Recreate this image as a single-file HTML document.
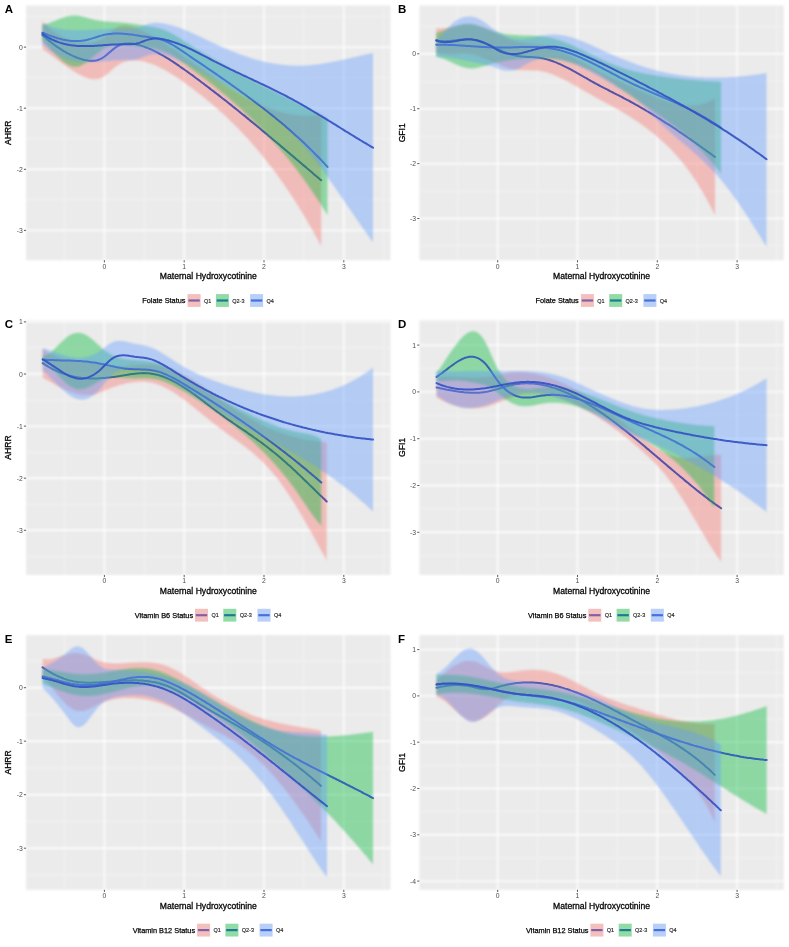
<!DOCTYPE html><html><head><meta charset="utf-8"><style>html,body{margin:0;padding:0;background:#fff;}svg{display:block;}text{font-family:"Liberation Sans",sans-serif;}</style></head><body>
<svg width="789" height="947" viewBox="0 0 789 947">
<defs><filter id="fb" filterUnits="userSpaceOnUse" x="0" y="0" width="789" height="947"><feGaussianBlur stdDeviation="0.85"/></filter><filter id="fl" filterUnits="userSpaceOnUse" x="0" y="0" width="789" height="947"><feGaussianBlur stdDeviation="0.45"/></filter><filter id="ft" filterUnits="userSpaceOnUse" x="0" y="0" width="789" height="947"><feGaussianBlur stdDeviation="0.6"/></filter></defs>
<rect width="789" height="947" fill="#fff"/>
<clipPath id="clipA"><rect x="26.1" y="5.5" width="364.4" height="254.7"/></clipPath>
<g><g filter="url(#fb)"><rect x="26.1" y="5.5" width="364.4" height="254.7" fill="#EBEBEB"/><line x1="64.5" y1="5.5" x2="64.5" y2="260.2" stroke="#F3F3F3" stroke-width="1.0"/><line x1="144.3" y1="5.5" x2="144.3" y2="260.2" stroke="#F3F3F3" stroke-width="1.0"/><line x1="224.1" y1="5.5" x2="224.1" y2="260.2" stroke="#F3F3F3" stroke-width="1.0"/><line x1="303.9" y1="5.5" x2="303.9" y2="260.2" stroke="#F3F3F3" stroke-width="1.0"/><line x1="383.7" y1="5.5" x2="383.7" y2="260.2" stroke="#F3F3F3" stroke-width="1.0"/><line x1="26.1" y1="199.8" x2="390.5" y2="199.8" stroke="#F3F3F3" stroke-width="1.0"/><line x1="26.1" y1="138.8" x2="390.5" y2="138.8" stroke="#F3F3F3" stroke-width="1.0"/><line x1="26.1" y1="77.7" x2="390.5" y2="77.7" stroke="#F3F3F3" stroke-width="1.0"/><line x1="26.1" y1="16.6" x2="390.5" y2="16.6" stroke="#F3F3F3" stroke-width="1.0"/><line x1="104.4" y1="5.5" x2="104.4" y2="260.2" stroke="#FFFFFF" stroke-width="1.4"/><line x1="184.2" y1="5.5" x2="184.2" y2="260.2" stroke="#FFFFFF" stroke-width="1.4"/><line x1="264" y1="5.5" x2="264" y2="260.2" stroke="#FFFFFF" stroke-width="1.4"/><line x1="343.8" y1="5.5" x2="343.8" y2="260.2" stroke="#FFFFFF" stroke-width="1.4"/><line x1="26.1" y1="230.4" x2="390.5" y2="230.4" stroke="#FFFFFF" stroke-width="1.4"/><line x1="26.1" y1="169.3" x2="390.5" y2="169.3" stroke="#FFFFFF" stroke-width="1.4"/><line x1="26.1" y1="108.2" x2="390.5" y2="108.2" stroke="#FFFFFF" stroke-width="1.4"/><line x1="26.1" y1="47.1" x2="390.5" y2="47.1" stroke="#FFFFFF" stroke-width="1.4"/></g><g clip-path="url(#clipA)"><path d="M42.5,21.3 L44.0,22.9 L45.5,24.5 L47.0,26.0 L48.6,27.4 L50.1,28.7 L51.6,30.0 L53.1,31.2 L54.6,32.3 L56.1,33.4 L57.6,34.4 L59.2,35.3 L60.7,36.2 L62.2,37.0 L63.7,37.7 L65.2,38.4 L66.7,39.0 L68.2,39.6 L69.8,40.2 L71.3,40.6 L72.8,41.1 L74.3,41.4 L75.8,41.8 L77.3,42.1 L78.9,42.3 L80.4,42.5 L81.9,42.7 L83.4,42.8 L84.9,42.9 L86.4,42.9 L87.9,42.9 L89.5,42.8 L91.0,42.7 L92.5,42.4 L94.0,42.1 L95.5,41.7 L97.0,41.2 L98.5,40.6 L100.1,39.8 L101.6,39.0 L103.1,38.0 L104.6,36.9 L106.1,35.7 L107.6,34.4 L109.1,33.1 L110.7,31.8 L112.2,30.6 L113.7,29.4 L115.2,28.4 L116.7,27.5 L118.2,26.8 L119.7,26.3 L121.3,25.9 L122.8,25.7 L124.3,25.6 L125.8,25.6 L127.3,25.7 L128.8,25.9 L130.4,26.3 L131.9,26.6 L133.4,27.1 L134.9,27.6 L136.4,28.2 L137.9,28.8 L139.4,29.5 L141.0,30.2 L142.5,30.8 L144.0,31.6 L145.5,32.3 L147.0,33.1 L148.5,33.8 L150.0,34.6 L151.6,35.4 L153.1,36.3 L154.6,37.1 L156.1,38.0 L157.6,38.9 L159.1,39.8 L160.6,40.7 L162.2,41.6 L163.7,42.6 L165.2,43.5 L166.7,44.5 L168.2,45.5 L169.7,46.4 L171.2,47.5 L172.8,48.5 L174.3,49.5 L175.8,50.5 L177.3,51.6 L178.8,52.6 L180.3,53.7 L181.8,54.7 L183.4,55.8 L184.9,56.9 L186.4,58.0 L187.9,59.1 L189.4,60.1 L190.9,61.2 L192.5,62.3 L194.0,63.4 L195.5,64.5 L197.0,65.6 L198.5,66.6 L200.0,67.7 L201.5,68.8 L203.1,69.8 L204.6,70.9 L206.1,72.0 L207.6,73.0 L209.1,74.1 L210.6,75.1 L212.1,76.2 L213.7,77.2 L215.2,78.2 L216.7,79.3 L218.2,80.3 L219.7,81.3 L221.2,82.3 L222.7,83.3 L224.3,84.3 L225.8,85.3 L227.3,86.2 L228.8,87.2 L230.3,88.1 L231.8,89.1 L233.3,90.0 L234.9,90.9 L236.4,91.8 L237.9,92.7 L239.4,93.6 L240.9,94.5 L242.4,95.4 L244.0,96.2 L245.5,97.1 L247.0,97.9 L248.5,98.7 L250.0,99.5 L251.5,100.3 L253.0,101.0 L254.6,101.8 L256.1,102.5 L257.6,103.2 L259.1,103.9 L260.6,104.6 L262.1,105.3 L263.6,106.0 L265.2,106.6 L266.7,107.2 L268.2,107.8 L269.7,108.4 L271.2,108.9 L272.7,109.5 L274.2,110.0 L275.8,110.5 L277.3,111.0 L278.8,111.4 L280.3,111.9 L281.8,112.3 L283.3,112.7 L284.8,113.1 L286.4,113.4 L287.9,113.7 L289.4,114.1 L290.9,114.3 L292.4,114.6 L293.9,114.8 L295.5,115.0 L297.0,115.2 L298.5,115.4 L300.0,115.5 L301.5,115.6 L303.0,115.7 L304.5,115.7 L306.1,115.8 L307.6,115.8 L309.1,115.7 L310.6,115.7 L312.1,115.6 L313.6,115.5 L315.1,115.3 L316.7,115.1 L318.2,114.9 L319.7,114.7 L321.2,114.4 L321.2,246.3 L319.7,243.4 L318.2,240.6 L316.7,237.8 L315.1,235.0 L313.6,232.3 L312.1,229.6 L310.6,226.9 L309.1,224.3 L307.6,221.7 L306.1,219.1 L304.5,216.6 L303.0,214.0 L301.5,211.5 L300.0,209.0 L298.5,206.6 L297.0,204.2 L295.5,201.8 L293.9,199.4 L292.4,197.1 L290.9,194.8 L289.4,192.5 L287.9,190.2 L286.4,188.0 L284.8,185.8 L283.3,183.6 L281.8,181.4 L280.3,179.3 L278.8,177.2 L277.3,175.1 L275.8,173.0 L274.2,171.0 L272.7,168.9 L271.2,166.9 L269.7,165.0 L268.2,163.0 L266.7,161.1 L265.2,159.2 L263.6,157.3 L262.1,155.4 L260.6,153.6 L259.1,151.7 L257.6,149.9 L256.1,148.2 L254.6,146.4 L253.0,144.7 L251.5,142.9 L250.0,141.2 L248.5,139.5 L247.0,137.9 L245.5,136.2 L244.0,134.6 L242.4,133.0 L240.9,131.4 L239.4,129.8 L237.9,128.3 L236.4,126.7 L234.9,125.2 L233.3,123.7 L231.8,122.2 L230.3,120.7 L228.8,119.3 L227.3,117.8 L225.8,116.4 L224.3,115.0 L222.7,113.6 L221.2,112.2 L219.7,110.9 L218.2,109.5 L216.7,108.2 L215.2,106.9 L213.7,105.6 L212.1,104.3 L210.6,103.0 L209.1,101.7 L207.6,100.5 L206.1,99.2 L204.6,98.0 L203.1,96.8 L201.5,95.6 L200.0,94.4 L198.5,93.2 L197.0,92.0 L195.5,90.9 L194.0,89.7 L192.5,88.6 L190.9,87.4 L189.4,86.3 L187.9,85.2 L186.4,84.1 L184.9,83.0 L183.4,81.9 L181.8,80.9 L180.3,79.8 L178.8,78.8 L177.3,77.8 L175.8,76.8 L174.3,75.8 L172.8,74.8 L171.2,73.9 L169.7,72.9 L168.2,72.0 L166.7,71.1 L165.2,70.3 L163.7,69.5 L162.2,68.7 L160.6,67.9 L159.1,67.1 L157.6,66.4 L156.1,65.8 L154.6,65.1 L153.1,64.5 L151.6,63.9 L150.0,63.4 L148.5,62.9 L147.0,62.4 L145.5,62.0 L144.0,61.7 L142.5,61.3 L141.0,61.1 L139.4,60.8 L137.9,60.6 L136.4,60.5 L134.9,60.4 L133.4,60.4 L131.9,60.5 L130.4,60.6 L128.8,60.8 L127.3,61.1 L125.8,61.5 L124.3,61.9 L122.8,62.5 L121.3,63.2 L119.7,63.9 L118.2,64.9 L116.7,65.9 L115.2,67.0 L113.7,68.3 L112.2,69.6 L110.7,71.0 L109.1,72.4 L107.6,73.7 L106.1,75.0 L104.6,76.1 L103.1,77.1 L101.6,77.8 L100.1,78.4 L98.5,78.9 L97.0,79.2 L95.5,79.3 L94.0,79.3 L92.5,79.2 L91.0,79.0 L89.5,78.7 L87.9,78.3 L86.4,77.7 L84.9,77.2 L83.4,76.5 L81.9,75.8 L80.4,75.0 L78.9,74.3 L77.3,73.4 L75.8,72.5 L74.3,71.6 L72.8,70.7 L71.3,69.7 L69.8,68.7 L68.2,67.7 L66.7,66.6 L65.2,65.5 L63.7,64.5 L62.2,63.4 L60.7,62.2 L59.2,61.1 L57.6,60.0 L56.1,58.9 L54.6,57.8 L53.1,56.6 L51.6,55.5 L50.1,54.4 L48.6,53.3 L47.0,52.3 L45.5,51.2 L44.0,50.2 L42.5,49.2Z" fill="#F8766D" fill-opacity="0.4" filter="url(#fb)"/><path d="M42.5,35.2 L44.0,36.5 L45.5,37.8 L47.0,39.1 L48.6,40.4 L50.1,41.6 L51.6,42.8 L53.1,43.9 L54.6,45.0 L56.1,46.1 L57.6,47.2 L59.2,48.2 L60.7,49.2 L62.2,50.2 L63.7,51.1 L65.2,52.0 L66.7,52.8 L68.2,53.6 L69.8,54.4 L71.3,55.2 L72.8,55.9 L74.3,56.5 L75.8,57.2 L77.3,57.7 L78.9,58.3 L80.4,58.8 L81.9,59.2 L83.4,59.7 L84.9,60.0 L86.4,60.3 L87.9,60.6 L89.5,60.8 L91.0,60.8 L92.5,60.8 L94.0,60.7 L95.5,60.5 L97.0,60.2 L98.5,59.7 L100.1,59.1 L101.6,58.4 L103.1,57.5 L104.6,56.5 L106.1,55.3 L107.6,54.1 L109.1,52.7 L110.7,51.4 L112.2,50.1 L113.7,48.9 L115.2,47.7 L116.7,46.7 L118.2,45.8 L119.7,45.1 L121.3,44.5 L122.8,44.1 L124.3,43.8 L125.8,43.5 L127.3,43.4 L128.8,43.4 L130.4,43.4 L131.9,43.6 L133.4,43.8 L134.9,44.0 L136.4,44.4 L137.9,44.7 L139.4,45.1 L141.0,45.6 L142.5,46.1 L144.0,46.6 L145.5,47.2 L147.0,47.7 L148.5,48.4 L150.0,49.0 L151.6,49.7 L153.1,50.4 L154.6,51.1 L156.1,51.9 L157.6,52.7 L159.1,53.5 L160.6,54.3 L162.2,55.1 L163.7,56.0 L165.2,56.9 L166.7,57.8 L168.2,58.7 L169.7,59.7 L171.2,60.7 L172.8,61.6 L174.3,62.6 L175.8,63.6 L177.3,64.7 L178.8,65.7 L180.3,66.8 L181.8,67.8 L183.4,68.9 L184.9,70.0 L186.4,71.0 L187.9,72.1 L189.4,73.2 L190.9,74.3 L192.5,75.4 L194.0,76.5 L195.5,77.7 L197.0,78.8 L198.5,79.9 L200.0,81.0 L201.5,82.2 L203.1,83.3 L204.6,84.5 L206.1,85.6 L207.6,86.7 L209.1,87.9 L210.6,89.1 L212.1,90.2 L213.7,91.4 L215.2,92.6 L216.7,93.7 L218.2,94.9 L219.7,96.1 L221.2,97.3 L222.7,98.5 L224.3,99.6 L225.8,100.8 L227.3,102.0 L228.8,103.2 L230.3,104.4 L231.8,105.6 L233.3,106.9 L234.9,108.1 L236.4,109.3 L237.9,110.5 L239.4,111.7 L240.9,113.0 L242.4,114.2 L244.0,115.4 L245.5,116.6 L247.0,117.9 L248.5,119.1 L250.0,120.4 L251.5,121.6 L253.0,122.8 L254.6,124.1 L256.1,125.3 L257.6,126.6 L259.1,127.8 L260.6,129.1 L262.1,130.4 L263.6,131.6 L265.2,132.9 L266.7,134.1 L268.2,135.4 L269.7,136.7 L271.2,137.9 L272.7,139.2 L274.2,140.5 L275.8,141.8 L277.3,143.0 L278.8,144.3 L280.3,145.6 L281.8,146.9 L283.3,148.1 L284.8,149.4 L286.4,150.7 L287.9,152.0 L289.4,153.3 L290.9,154.6 L292.4,155.8 L293.9,157.1 L295.5,158.4 L297.0,159.7 L298.5,161.0 L300.0,162.3 L301.5,163.6 L303.0,164.9 L304.5,166.1 L306.1,167.4 L307.6,168.7 L309.1,170.0 L310.6,171.3 L312.1,172.6 L313.6,173.9 L315.1,175.2 L316.7,176.5 L318.2,177.8 L319.7,179.1 L321.2,180.3" fill="none" stroke="#4749A8" stroke-width="2.0" stroke-opacity="0.92" stroke-linejoin="round" stroke-linecap="round" filter="url(#fl)"/><path d="M42.5,24.7 L44.0,24.4 L45.5,24.1 L47.0,23.7 L48.5,23.2 L50.0,22.7 L51.5,22.1 L53.1,21.5 L54.6,21.0 L56.1,20.3 L57.6,19.7 L59.1,19.1 L60.6,18.6 L62.1,18.0 L63.6,17.5 L65.1,17.0 L66.6,16.6 L68.1,16.2 L69.6,15.9 L71.2,15.6 L72.7,15.5 L74.2,15.4 L75.7,15.4 L77.2,15.6 L78.7,15.8 L80.2,16.1 L81.7,16.4 L83.2,16.8 L84.7,17.2 L86.2,17.6 L87.7,18.0 L89.2,18.4 L90.8,18.8 L92.3,19.2 L93.8,19.6 L95.3,19.9 L96.8,20.2 L98.3,20.5 L99.8,20.8 L101.3,21.0 L102.8,21.1 L104.3,21.3 L105.8,21.4 L107.3,21.5 L108.8,21.7 L110.4,21.8 L111.9,21.9 L113.4,22.0 L114.9,22.1 L116.4,22.2 L117.9,22.3 L119.4,22.4 L120.9,22.6 L122.4,22.7 L123.9,22.8 L125.4,23.0 L126.9,23.1 L128.5,23.3 L130.0,23.4 L131.5,23.6 L133.0,23.8 L134.5,24.1 L136.0,24.3 L137.5,24.5 L139.0,24.8 L140.5,25.0 L142.0,25.2 L143.5,25.5 L145.0,25.7 L146.5,25.9 L148.1,26.2 L149.6,26.4 L151.1,26.7 L152.6,26.9 L154.1,27.2 L155.6,27.5 L157.1,27.9 L158.6,28.3 L160.1,28.7 L161.6,29.1 L163.1,29.6 L164.6,30.2 L166.2,30.8 L167.7,31.5 L169.2,32.2 L170.7,33.0 L172.2,33.8 L173.7,34.6 L175.2,35.5 L176.7,36.4 L178.2,37.3 L179.7,38.3 L181.2,39.2 L182.7,40.2 L184.2,41.2 L185.8,42.2 L187.3,43.2 L188.8,44.1 L190.3,45.1 L191.8,46.1 L193.3,47.0 L194.8,48.0 L196.3,48.9 L197.8,49.8 L199.3,50.7 L200.8,51.6 L202.3,52.5 L203.8,53.4 L205.4,54.3 L206.9,55.1 L208.4,56.0 L209.9,56.9 L211.4,57.8 L212.9,58.6 L214.4,59.5 L215.9,60.3 L217.4,61.2 L218.9,62.1 L220.4,62.9 L221.9,63.8 L223.5,64.6 L225.0,65.5 L226.5,66.3 L228.0,67.2 L229.5,68.0 L231.0,68.8 L232.5,69.7 L234.0,70.5 L235.5,71.3 L237.0,72.1 L238.5,72.9 L240.0,73.8 L241.5,74.6 L243.1,75.4 L244.6,76.2 L246.1,77.0 L247.6,77.8 L249.1,78.5 L250.6,79.3 L252.1,80.1 L253.6,80.9 L255.1,81.7 L256.6,82.4 L258.1,83.2 L259.6,84.0 L261.2,84.7 L262.7,85.5 L264.2,86.3 L265.7,87.0 L267.2,87.8 L268.7,88.5 L270.2,89.3 L271.7,90.0 L273.2,90.8 L274.7,91.5 L276.2,92.3 L277.7,93.0 L279.2,93.8 L280.8,94.5 L282.3,95.3 L283.8,96.0 L285.3,96.8 L286.8,97.5 L288.3,98.3 L289.8,99.0 L291.3,99.8 L292.8,100.5 L294.3,101.3 L295.8,102.0 L297.3,102.8 L298.8,103.6 L300.4,104.3 L301.9,105.1 L303.4,105.9 L304.9,106.6 L306.4,107.4 L307.9,108.2 L309.4,108.9 L310.9,109.7 L312.4,110.5 L313.9,111.3 L315.4,112.1 L316.9,112.9 L318.5,113.7 L320.0,114.5 L321.5,115.3 L323.0,116.1 L324.5,116.9 L326.0,117.8 L327.5,118.6 L327.5,215.3 L326.0,212.8 L324.5,210.3 L323.0,207.9 L321.5,205.5 L320.0,203.2 L318.5,200.8 L316.9,198.5 L315.4,196.2 L313.9,194.0 L312.4,191.7 L310.9,189.5 L309.4,187.3 L307.9,185.2 L306.4,183.0 L304.9,180.9 L303.4,178.8 L301.9,176.7 L300.4,174.7 L298.8,172.7 L297.3,170.7 L295.8,168.7 L294.3,166.8 L292.8,164.8 L291.3,162.9 L289.8,161.0 L288.3,159.1 L286.8,157.3 L285.3,155.5 L283.8,153.6 L282.3,151.9 L280.8,150.1 L279.2,148.3 L277.7,146.6 L276.2,144.9 L274.7,143.2 L273.2,141.5 L271.7,139.8 L270.2,138.2 L268.7,136.5 L267.2,134.9 L265.7,133.3 L264.2,131.7 L262.7,130.2 L261.2,128.6 L259.6,127.1 L258.1,125.5 L256.6,124.0 L255.1,122.5 L253.6,121.0 L252.1,119.6 L250.6,118.1 L249.1,116.6 L247.6,115.2 L246.1,113.8 L244.6,112.4 L243.1,111.0 L241.5,109.6 L240.0,108.2 L238.5,106.8 L237.0,105.5 L235.5,104.1 L234.0,102.8 L232.5,101.4 L231.0,100.1 L229.5,98.8 L228.0,97.5 L226.5,96.2 L225.0,95.0 L223.5,93.7 L221.9,92.4 L220.4,91.2 L218.9,89.9 L217.4,88.7 L215.9,87.5 L214.4,86.3 L212.9,85.1 L211.4,83.9 L209.9,82.7 L208.4,81.6 L206.9,80.4 L205.4,79.3 L203.8,78.1 L202.3,77.0 L200.8,75.9 L199.3,74.7 L197.8,73.6 L196.3,72.5 L194.8,71.4 L193.3,70.2 L191.8,69.1 L190.3,68.0 L188.8,66.9 L187.3,65.7 L185.8,64.6 L184.2,63.5 L182.7,62.4 L181.2,61.3 L179.7,60.3 L178.2,59.2 L176.7,58.2 L175.2,57.2 L173.7,56.3 L172.2,55.4 L170.7,54.6 L169.2,53.8 L167.7,53.0 L166.2,52.3 L164.6,51.7 L163.1,51.1 L161.6,50.6 L160.1,50.2 L158.6,49.8 L157.1,49.4 L155.6,49.1 L154.1,48.8 L152.6,48.5 L151.1,48.3 L149.6,48.1 L148.1,47.9 L146.5,47.7 L145.0,47.5 L143.5,47.3 L142.0,47.1 L140.5,46.9 L139.0,46.7 L137.5,46.5 L136.0,46.3 L134.5,46.0 L133.0,45.8 L131.5,45.6 L130.0,45.5 L128.5,45.3 L126.9,45.1 L125.4,45.0 L123.9,44.9 L122.4,44.8 L120.9,44.7 L119.4,44.7 L117.9,44.8 L116.4,44.9 L114.9,45.1 L113.4,45.3 L111.9,45.6 L110.4,46.0 L108.8,46.4 L107.3,47.0 L105.8,47.7 L104.3,48.4 L102.8,49.3 L101.3,50.2 L99.8,51.3 L98.3,52.5 L96.8,53.7 L95.3,55.0 L93.8,56.3 L92.3,57.6 L90.8,58.9 L89.2,60.2 L87.7,61.4 L86.2,62.5 L84.7,63.6 L83.2,64.5 L81.7,65.3 L80.2,65.9 L78.7,66.4 L77.2,66.7 L75.7,66.8 L74.2,66.8 L72.7,66.6 L71.2,66.2 L69.6,65.6 L68.1,64.9 L66.6,64.0 L65.1,63.0 L63.6,61.9 L62.1,60.7 L60.6,59.4 L59.1,58.0 L57.6,56.6 L56.1,55.1 L54.6,53.5 L53.1,51.9 L51.5,50.3 L50.0,48.6 L48.5,47.0 L47.0,45.3 L45.5,43.7 L44.0,42.1 L42.5,40.6Z" fill="#00BA38" fill-opacity="0.4" filter="url(#fb)"/><path d="M42.5,32.7 L44.0,33.3 L45.5,33.9 L47.0,34.5 L48.5,35.1 L50.0,35.6 L51.5,36.2 L53.1,36.7 L54.6,37.2 L56.1,37.7 L57.6,38.2 L59.1,38.6 L60.6,39.0 L62.1,39.4 L63.6,39.7 L65.1,40.0 L66.6,40.3 L68.1,40.5 L69.6,40.7 L71.2,40.9 L72.7,41.0 L74.2,41.1 L75.7,41.1 L77.2,41.1 L78.7,41.1 L80.2,41.0 L81.7,40.8 L83.2,40.6 L84.7,40.4 L86.2,40.1 L87.7,39.7 L89.2,39.3 L90.8,38.9 L92.3,38.4 L93.8,37.9 L95.3,37.5 L96.8,37.0 L98.3,36.5 L99.8,36.0 L101.3,35.6 L102.8,35.2 L104.3,34.8 L105.8,34.5 L107.3,34.3 L108.8,34.1 L110.4,33.9 L111.9,33.7 L113.4,33.6 L114.9,33.6 L116.4,33.6 L117.9,33.6 L119.4,33.6 L120.9,33.6 L122.4,33.7 L123.9,33.8 L125.4,34.0 L126.9,34.1 L128.5,34.3 L130.0,34.5 L131.5,34.6 L133.0,34.8 L134.5,35.1 L136.0,35.3 L137.5,35.5 L139.0,35.7 L140.5,35.9 L142.0,36.2 L143.5,36.4 L145.0,36.6 L146.5,36.8 L148.1,37.0 L149.6,37.3 L151.1,37.5 L152.6,37.7 L154.1,38.0 L155.6,38.3 L157.1,38.6 L158.6,39.0 L160.1,39.4 L161.6,39.9 L163.1,40.4 L164.6,40.9 L166.2,41.6 L167.7,42.2 L169.2,43.0 L170.7,43.8 L172.2,44.6 L173.7,45.5 L175.2,46.4 L176.7,47.3 L178.2,48.3 L179.7,49.3 L181.2,50.3 L182.7,51.3 L184.2,52.4 L185.8,53.4 L187.3,54.5 L188.8,55.5 L190.3,56.6 L191.8,57.6 L193.3,58.6 L194.8,59.7 L196.3,60.7 L197.8,61.7 L199.3,62.7 L200.8,63.7 L202.3,64.7 L203.8,65.7 L205.4,66.8 L206.9,67.8 L208.4,68.8 L209.9,69.8 L211.4,70.8 L212.9,71.9 L214.4,72.9 L215.9,73.9 L217.4,75.0 L218.9,76.0 L220.4,77.1 L221.9,78.1 L223.5,79.2 L225.0,80.2 L226.5,81.3 L228.0,82.3 L229.5,83.4 L231.0,84.5 L232.5,85.6 L234.0,86.6 L235.5,87.7 L237.0,88.8 L238.5,89.9 L240.0,91.0 L241.5,92.1 L243.1,93.2 L244.6,94.3 L246.1,95.4 L247.6,96.5 L249.1,97.6 L250.6,98.7 L252.1,99.8 L253.6,101.0 L255.1,102.1 L256.6,103.2 L258.1,104.4 L259.6,105.5 L261.2,106.7 L262.7,107.8 L264.2,109.0 L265.7,110.2 L267.2,111.3 L268.7,112.5 L270.2,113.7 L271.7,114.9 L273.2,116.1 L274.7,117.3 L276.2,118.6 L277.7,119.8 L279.2,121.1 L280.8,122.3 L282.3,123.6 L283.8,124.8 L285.3,126.1 L286.8,127.4 L288.3,128.7 L289.8,130.0 L291.3,131.3 L292.8,132.7 L294.3,134.0 L295.8,135.4 L297.3,136.7 L298.8,138.1 L300.4,139.5 L301.9,140.9 L303.4,142.3 L304.9,143.8 L306.4,145.2 L307.9,146.7 L309.4,148.1 L310.9,149.6 L312.4,151.1 L313.9,152.6 L315.4,154.2 L316.9,155.7 L318.5,157.3 L320.0,158.8 L321.5,160.4 L323.0,162.0 L324.5,163.6 L326.0,165.3 L327.5,166.9" fill="none" stroke="#2F5AB5" stroke-width="2.0" stroke-opacity="0.92" stroke-linejoin="round" stroke-linecap="round" filter="url(#fl)"/><path d="M42.5,23.8 L44.0,24.4 L45.5,25.0 L47.0,25.5 L48.5,26.0 L50.0,26.5 L51.6,27.0 L53.1,27.4 L54.6,27.7 L56.1,28.1 L57.6,28.4 L59.1,28.7 L60.6,28.9 L62.1,29.2 L63.6,29.4 L65.1,29.6 L66.6,29.7 L68.2,29.8 L69.7,30.0 L71.2,30.0 L72.7,30.1 L74.2,30.2 L75.7,30.2 L77.2,30.2 L78.7,30.2 L80.2,30.2 L81.7,30.2 L83.2,30.2 L84.8,30.1 L86.3,30.1 L87.8,30.0 L89.3,29.9 L90.8,29.8 L92.3,29.8 L93.8,29.7 L95.3,29.6 L96.8,29.5 L98.3,29.4 L99.8,29.3 L101.4,29.2 L102.9,29.1 L104.4,29.0 L105.9,28.9 L107.4,28.8 L108.9,28.8 L110.4,28.7 L111.9,28.6 L113.4,28.6 L114.9,28.5 L116.4,28.5 L118.0,28.5 L119.5,28.5 L121.0,28.5 L122.5,28.5 L124.0,28.6 L125.5,28.6 L127.0,28.6 L128.5,28.7 L130.0,28.6 L131.5,28.6 L133.0,28.5 L134.6,28.3 L136.1,28.0 L137.6,27.7 L139.1,27.3 L140.6,26.8 L142.1,26.2 L143.6,25.6 L145.1,25.0 L146.6,24.4 L148.1,23.9 L149.6,23.5 L151.2,23.2 L152.7,23.0 L154.2,22.8 L155.7,22.8 L157.2,22.8 L158.7,22.9 L160.2,23.0 L161.7,23.2 L163.2,23.4 L164.7,23.7 L166.2,24.0 L167.8,24.4 L169.3,24.7 L170.8,25.1 L172.3,25.5 L173.8,26.0 L175.3,26.5 L176.8,27.0 L178.3,27.5 L179.8,28.0 L181.3,28.6 L182.8,29.1 L184.4,29.7 L185.9,30.3 L187.4,31.0 L188.9,31.6 L190.4,32.3 L191.9,32.9 L193.4,33.6 L194.9,34.3 L196.4,35.0 L197.9,35.7 L199.4,36.4 L201.0,37.1 L202.5,37.8 L204.0,38.5 L205.5,39.3 L207.0,40.0 L208.5,40.7 L210.0,41.4 L211.5,42.1 L213.0,42.9 L214.5,43.6 L216.1,44.3 L217.6,45.0 L219.1,45.7 L220.6,46.3 L222.1,47.0 L223.6,47.7 L225.1,48.3 L226.6,49.0 L228.1,49.6 L229.6,50.3 L231.1,50.9 L232.7,51.5 L234.2,52.1 L235.7,52.7 L237.2,53.3 L238.7,53.9 L240.2,54.4 L241.7,55.0 L243.2,55.5 L244.7,56.0 L246.2,56.6 L247.7,57.1 L249.3,57.6 L250.8,58.0 L252.3,58.5 L253.8,59.0 L255.3,59.4 L256.8,59.8 L258.3,60.2 L259.8,60.6 L261.3,61.0 L262.8,61.4 L264.3,61.7 L265.9,62.1 L267.4,62.4 L268.9,62.7 L270.4,63.0 L271.9,63.3 L273.4,63.5 L274.9,63.8 L276.4,64.0 L277.9,64.2 L279.4,64.4 L280.9,64.6 L282.5,64.8 L284.0,64.9 L285.5,65.1 L287.0,65.2 L288.5,65.3 L290.0,65.4 L291.5,65.5 L293.0,65.6 L294.5,65.6 L296.0,65.7 L297.5,65.7 L299.1,65.7 L300.6,65.7 L302.1,65.6 L303.6,65.6 L305.1,65.5 L306.6,65.4 L308.1,65.3 L309.6,65.2 L311.1,65.1 L312.6,65.0 L314.1,64.8 L315.7,64.6 L317.2,64.4 L318.7,64.2 L320.2,64.0 L321.7,63.8 L323.2,63.6 L324.7,63.3 L326.2,63.1 L327.7,62.8 L329.2,62.5 L330.7,62.2 L332.3,61.9 L333.8,61.6 L335.3,61.3 L336.8,61.0 L338.3,60.7 L339.8,60.4 L341.3,60.1 L342.8,59.7 L344.3,59.4 L345.8,59.1 L347.3,58.7 L348.9,58.4 L350.4,58.0 L351.9,57.7 L353.4,57.3 L354.9,57.0 L356.4,56.7 L357.9,56.3 L359.4,56.0 L360.9,55.6 L362.4,55.3 L363.9,55.0 L365.5,54.6 L367.0,54.3 L368.5,54.0 L370.0,53.7 L371.5,53.4 L373.0,53.1 L373.0,242.3 L371.5,240.2 L370.0,238.2 L368.5,236.1 L367.0,233.9 L365.5,231.8 L363.9,229.7 L362.4,227.5 L360.9,225.4 L359.4,223.2 L357.9,221.0 L356.4,218.9 L354.9,216.7 L353.4,214.5 L351.9,212.3 L350.4,210.1 L348.9,207.9 L347.3,205.7 L345.8,203.5 L344.3,201.3 L342.8,199.1 L341.3,196.9 L339.8,194.7 L338.3,192.5 L336.8,190.3 L335.3,188.1 L333.8,185.9 L332.3,183.8 L330.7,181.6 L329.2,179.5 L327.7,177.4 L326.2,175.3 L324.7,173.2 L323.2,171.1 L321.7,169.0 L320.2,166.9 L318.7,164.9 L317.2,162.9 L315.7,160.9 L314.1,158.9 L312.6,157.0 L311.1,155.0 L309.6,153.1 L308.1,151.2 L306.6,149.4 L305.1,147.5 L303.6,145.7 L302.1,144.0 L300.6,142.2 L299.1,140.5 L297.5,138.8 L296.0,137.2 L294.5,135.5 L293.0,133.9 L291.5,132.4 L290.0,130.8 L288.5,129.3 L287.0,127.8 L285.5,126.4 L284.0,124.9 L282.5,123.5 L280.9,122.2 L279.4,120.8 L277.9,119.5 L276.4,118.2 L274.9,116.9 L273.4,115.7 L271.9,114.5 L270.4,113.3 L268.9,112.1 L267.4,111.0 L265.9,109.8 L264.3,108.7 L262.8,107.6 L261.3,106.6 L259.8,105.5 L258.3,104.5 L256.8,103.5 L255.3,102.5 L253.8,101.5 L252.3,100.6 L250.8,99.6 L249.3,98.7 L247.7,97.8 L246.2,96.9 L244.7,96.0 L243.2,95.1 L241.7,94.2 L240.2,93.4 L238.7,92.5 L237.2,91.6 L235.7,90.8 L234.2,90.0 L232.7,89.1 L231.1,88.3 L229.6,87.5 L228.1,86.6 L226.6,85.8 L225.1,85.0 L223.6,84.2 L222.1,83.3 L220.6,82.5 L219.1,81.7 L217.6,80.8 L216.1,80.0 L214.5,79.2 L213.0,78.3 L211.5,77.4 L210.0,76.6 L208.5,75.7 L207.0,74.9 L205.5,74.0 L204.0,73.2 L202.5,72.3 L201.0,71.4 L199.4,70.6 L197.9,69.8 L196.4,68.9 L194.9,68.1 L193.4,67.3 L191.9,66.5 L190.4,65.7 L188.9,65.0 L187.4,64.2 L185.9,63.5 L184.4,62.7 L182.8,62.0 L181.3,61.4 L179.8,60.7 L178.3,60.1 L176.8,59.4 L175.3,58.9 L173.8,58.3 L172.3,57.8 L170.8,57.2 L169.3,56.8 L167.8,56.3 L166.2,55.9 L164.7,55.5 L163.2,55.2 L161.7,54.9 L160.2,54.6 L158.7,54.4 L157.2,54.3 L155.7,54.2 L154.2,54.2 L152.7,54.3 L151.2,54.5 L149.6,54.8 L148.1,55.2 L146.6,55.7 L145.1,56.2 L143.6,56.8 L142.1,57.4 L140.6,58.0 L139.1,58.5 L137.6,58.9 L136.1,59.3 L134.6,59.5 L133.0,59.7 L131.5,59.8 L130.0,59.9 L128.5,60.0 L127.0,60.0 L125.5,60.1 L124.0,60.1 L122.5,60.1 L121.0,60.1 L119.5,60.2 L118.0,60.2 L116.4,60.3 L114.9,60.4 L113.4,60.5 L111.9,60.6 L110.4,60.8 L108.9,60.9 L107.4,61.0 L105.9,61.1 L104.4,61.3 L102.9,61.4 L101.4,61.5 L99.8,61.7 L98.3,61.8 L96.8,61.9 L95.3,62.0 L93.8,62.0 L92.3,62.1 L90.8,62.2 L89.3,62.2 L87.8,62.2 L86.3,62.2 L84.8,62.1 L83.2,62.1 L81.7,62.0 L80.2,61.9 L78.7,61.7 L77.2,61.5 L75.7,61.3 L74.2,61.1 L72.7,60.8 L71.2,60.5 L69.7,60.1 L68.2,59.7 L66.6,59.2 L65.1,58.7 L63.6,58.1 L62.1,57.5 L60.6,56.8 L59.1,56.1 L57.6,55.3 L56.1,54.5 L54.6,53.6 L53.1,52.6 L51.6,51.6 L50.0,50.5 L48.5,49.4 L47.0,48.1 L45.5,46.8 L44.0,45.5 L42.5,44.0Z" fill="#619CFF" fill-opacity="0.4" filter="url(#fb)"/><path d="M42.5,33.9 L44.0,34.9 L45.5,35.9 L47.0,36.8 L48.5,37.7 L50.0,38.5 L51.6,39.3 L53.1,40.0 L54.6,40.7 L56.1,41.3 L57.6,41.9 L59.1,42.4 L60.6,42.9 L62.1,43.3 L63.6,43.7 L65.1,44.1 L66.6,44.4 L68.2,44.7 L69.7,45.0 L71.2,45.2 L72.7,45.4 L74.2,45.6 L75.7,45.8 L77.2,45.9 L78.7,46.0 L80.2,46.0 L81.7,46.1 L83.2,46.1 L84.8,46.1 L86.3,46.1 L87.8,46.1 L89.3,46.1 L90.8,46.0 L92.3,45.9 L93.8,45.9 L95.3,45.8 L96.8,45.7 L98.3,45.6 L99.8,45.5 L101.4,45.4 L102.9,45.2 L104.4,45.1 L105.9,45.0 L107.4,44.9 L108.9,44.8 L110.4,44.7 L111.9,44.6 L113.4,44.5 L114.9,44.5 L116.4,44.4 L118.0,44.4 L119.5,44.3 L121.0,44.3 L122.5,44.3 L124.0,44.3 L125.5,44.3 L127.0,44.3 L128.5,44.3 L130.0,44.3 L131.5,44.2 L133.0,44.1 L134.6,43.9 L136.1,43.7 L137.6,43.3 L139.1,42.9 L140.6,42.4 L142.1,41.8 L143.6,41.2 L145.1,40.6 L146.6,40.1 L148.1,39.6 L149.6,39.2 L151.2,38.9 L152.7,38.7 L154.2,38.5 L155.7,38.5 L157.2,38.5 L158.7,38.6 L160.2,38.8 L161.7,39.0 L163.2,39.3 L164.7,39.6 L166.2,40.0 L167.8,40.3 L169.3,40.8 L170.8,41.2 L172.3,41.7 L173.8,42.1 L175.3,42.7 L176.8,43.2 L178.3,43.8 L179.8,44.4 L181.3,45.0 L182.8,45.6 L184.4,46.2 L185.9,46.9 L187.4,47.6 L188.9,48.3 L190.4,49.0 L191.9,49.7 L193.4,50.5 L194.9,51.2 L196.4,52.0 L197.9,52.7 L199.4,53.5 L201.0,54.3 L202.5,55.1 L204.0,55.8 L205.5,56.6 L207.0,57.4 L208.5,58.2 L210.0,59.0 L211.5,59.8 L213.0,60.6 L214.5,61.4 L216.1,62.1 L217.6,62.9 L219.1,63.7 L220.6,64.4 L222.1,65.2 L223.6,65.9 L225.1,66.7 L226.6,67.4 L228.1,68.1 L229.6,68.9 L231.1,69.6 L232.7,70.3 L234.2,71.0 L235.7,71.8 L237.2,72.5 L238.7,73.2 L240.2,73.9 L241.7,74.6 L243.2,75.3 L244.7,76.0 L246.2,76.7 L247.7,77.4 L249.3,78.1 L250.8,78.8 L252.3,79.5 L253.8,80.3 L255.3,81.0 L256.8,81.7 L258.3,82.4 L259.8,83.1 L261.3,83.8 L262.8,84.5 L264.3,85.2 L265.9,86.0 L267.4,86.7 L268.9,87.4 L270.4,88.1 L271.9,88.9 L273.4,89.6 L274.9,90.4 L276.4,91.1 L277.9,91.9 L279.4,92.6 L280.9,93.4 L282.5,94.2 L284.0,94.9 L285.5,95.7 L287.0,96.5 L288.5,97.3 L290.0,98.1 L291.5,98.9 L293.0,99.7 L294.5,100.6 L296.0,101.4 L297.5,102.2 L299.1,103.1 L300.6,103.9 L302.1,104.8 L303.6,105.7 L305.1,106.5 L306.6,107.4 L308.1,108.3 L309.6,109.2 L311.1,110.1 L312.6,111.0 L314.1,111.9 L315.7,112.8 L317.2,113.7 L318.7,114.6 L320.2,115.5 L321.7,116.4 L323.2,117.3 L324.7,118.2 L326.2,119.2 L327.7,120.1 L329.2,121.0 L330.7,121.9 L332.3,122.9 L333.8,123.8 L335.3,124.7 L336.8,125.7 L338.3,126.6 L339.8,127.5 L341.3,128.5 L342.8,129.4 L344.3,130.3 L345.8,131.3 L347.3,132.2 L348.9,133.1 L350.4,134.1 L351.9,135.0 L353.4,135.9 L354.9,136.8 L356.4,137.8 L357.9,138.7 L359.4,139.6 L360.9,140.5 L362.4,141.4 L363.9,142.3 L365.5,143.2 L367.0,144.1 L368.5,145.0 L370.0,145.9 L371.5,146.8 L373.0,147.7" fill="none" stroke="#3453C4" stroke-width="2.0" stroke-opacity="0.92" stroke-linejoin="round" stroke-linecap="round" filter="url(#fl)"/></g><g filter="url(#ft)"><line x1="104.4" y1="260.2" x2="104.4" y2="262.4" stroke="#333" stroke-width="0.8"/><text x="104.4" y="268.6" font-size="6.8" fill="#4D4D4D" text-anchor="middle">0</text><line x1="184.2" y1="260.2" x2="184.2" y2="262.4" stroke="#333" stroke-width="0.8"/><text x="184.2" y="268.6" font-size="6.8" fill="#4D4D4D" text-anchor="middle">1</text><line x1="264" y1="260.2" x2="264" y2="262.4" stroke="#333" stroke-width="0.8"/><text x="264" y="268.6" font-size="6.8" fill="#4D4D4D" text-anchor="middle">2</text><line x1="343.8" y1="260.2" x2="343.8" y2="262.4" stroke="#333" stroke-width="0.8"/><text x="343.8" y="268.6" font-size="6.8" fill="#4D4D4D" text-anchor="middle">3</text><line x1="23.9" y1="230.4" x2="26.1" y2="230.4" stroke="#333" stroke-width="0.8"/><text x="22.7" y="232.9" font-size="6.8" fill="#4D4D4D" text-anchor="end">-3</text><line x1="23.9" y1="169.3" x2="26.1" y2="169.3" stroke="#333" stroke-width="0.8"/><text x="22.7" y="171.8" font-size="6.8" fill="#4D4D4D" text-anchor="end">-2</text><line x1="23.9" y1="108.2" x2="26.1" y2="108.2" stroke="#333" stroke-width="0.8"/><text x="22.7" y="110.7" font-size="6.8" fill="#4D4D4D" text-anchor="end">-1</text><line x1="23.9" y1="47.1" x2="26.1" y2="47.1" stroke="#333" stroke-width="0.8"/><text x="22.7" y="49.6" font-size="6.8" fill="#4D4D4D" text-anchor="end">0</text><text x="208.3" y="279.3" font-size="9.1" textLength="97" lengthAdjust="spacingAndGlyphs" fill="#000" stroke="#000" stroke-width="0.3" text-anchor="middle">Maternal Hydroxycotinine</text><text transform="translate(11.3,132.8) rotate(-90)" font-size="8.6" fill="#000" stroke="#000" stroke-width="0.3" text-anchor="middle">AHRR</text><text x="4.8" y="13.3" font-size="11.5" font-weight="bold" fill="#000">A</text><text x="142.2" y="303.3" font-size="7.8" textLength="43.3" lengthAdjust="spacingAndGlyphs" fill="#000" stroke="#000" stroke-width="0.25">Folate Status</text><rect x="187.6" y="294.1" width="13" height="12.8" fill="#F2F2F2"/><line x1="188.4" y1="300.5" x2="199.8" y2="300.5" stroke="#3352CC" stroke-width="2.2"/><rect x="187.6" y="294.1" width="13" height="12.8" fill="#F8766D" fill-opacity="0.4"/><text x="204" y="302.6" font-size="5.8" textLength="7.3" lengthAdjust="spacingAndGlyphs" fill="#222" stroke="#222" stroke-width="0.15">Q1</text><rect x="215.9" y="294.1" width="13" height="12.8" fill="#F2F2F2"/><line x1="216.7" y1="300.5" x2="228.1" y2="300.5" stroke="#3352CC" stroke-width="2.2"/><rect x="215.9" y="294.1" width="13" height="12.8" fill="#00BA38" fill-opacity="0.4"/><text x="232.3" y="302.6" font-size="5.8" textLength="12.2" lengthAdjust="spacingAndGlyphs" fill="#222" stroke="#222" stroke-width="0.15">Q2-3</text><rect x="250.1" y="294.1" width="13" height="12.8" fill="#F2F2F2"/><line x1="250.9" y1="300.5" x2="262.3" y2="300.5" stroke="#3352CC" stroke-width="2.2"/><rect x="250.1" y="294.1" width="13" height="12.8" fill="#619CFF" fill-opacity="0.4"/><text x="266.5" y="302.6" font-size="5.8" textLength="7.3" lengthAdjust="spacingAndGlyphs" fill="#222" stroke="#222" stroke-width="0.15">Q4</text></g></g>
<clipPath id="clipB"><rect x="419.4" y="5.5" width="364.4" height="254.7"/></clipPath>
<g><g filter="url(#fb)"><rect x="419.4" y="5.5" width="364.4" height="254.7" fill="#EBEBEB"/><line x1="457.8" y1="5.5" x2="457.8" y2="260.2" stroke="#F3F3F3" stroke-width="1.0"/><line x1="537.6" y1="5.5" x2="537.6" y2="260.2" stroke="#F3F3F3" stroke-width="1.0"/><line x1="617.4" y1="5.5" x2="617.4" y2="260.2" stroke="#F3F3F3" stroke-width="1.0"/><line x1="697.2" y1="5.5" x2="697.2" y2="260.2" stroke="#F3F3F3" stroke-width="1.0"/><line x1="777" y1="5.5" x2="777" y2="260.2" stroke="#F3F3F3" stroke-width="1.0"/><line x1="419.4" y1="245.9" x2="783.8" y2="245.9" stroke="#F3F3F3" stroke-width="1.0"/><line x1="419.4" y1="191.1" x2="783.8" y2="191.1" stroke="#F3F3F3" stroke-width="1.0"/><line x1="419.4" y1="136.1" x2="783.8" y2="136.1" stroke="#F3F3F3" stroke-width="1.0"/><line x1="419.4" y1="81.2" x2="783.8" y2="81.2" stroke="#F3F3F3" stroke-width="1.0"/><line x1="419.4" y1="26.3" x2="783.8" y2="26.3" stroke="#F3F3F3" stroke-width="1.0"/><line x1="497.7" y1="5.5" x2="497.7" y2="260.2" stroke="#FFFFFF" stroke-width="1.4"/><line x1="577.5" y1="5.5" x2="577.5" y2="260.2" stroke="#FFFFFF" stroke-width="1.4"/><line x1="657.3" y1="5.5" x2="657.3" y2="260.2" stroke="#FFFFFF" stroke-width="1.4"/><line x1="737.1" y1="5.5" x2="737.1" y2="260.2" stroke="#FFFFFF" stroke-width="1.4"/><line x1="419.4" y1="218.5" x2="783.8" y2="218.5" stroke="#FFFFFF" stroke-width="1.4"/><line x1="419.4" y1="163.6" x2="783.8" y2="163.6" stroke="#FFFFFF" stroke-width="1.4"/><line x1="419.4" y1="108.7" x2="783.8" y2="108.7" stroke="#FFFFFF" stroke-width="1.4"/><line x1="419.4" y1="53.8" x2="783.8" y2="53.8" stroke="#FFFFFF" stroke-width="1.4"/></g><g clip-path="url(#clipB)"><path d="M436.3,28.2 L437.8,28.3 L439.3,28.3 L440.8,28.3 L442.4,28.2 L443.9,28.1 L445.4,27.9 L446.9,27.7 L448.4,27.5 L449.9,27.2 L451.4,26.9 L453.0,26.6 L454.5,26.3 L456.0,26.0 L457.5,25.7 L459.0,25.4 L460.5,25.2 L462.0,24.9 L463.6,24.8 L465.1,24.6 L466.6,24.5 L468.1,24.4 L469.6,24.5 L471.1,24.5 L472.7,24.7 L474.2,24.9 L475.7,25.2 L477.2,25.5 L478.7,25.9 L480.2,26.3 L481.7,26.8 L483.3,27.3 L484.8,27.9 L486.3,28.5 L487.8,29.1 L489.3,29.8 L490.8,30.5 L492.3,31.2 L493.9,31.9 L495.4,32.7 L496.9,33.4 L498.4,34.2 L499.9,35.0 L501.4,35.7 L502.9,36.5 L504.5,37.2 L506.0,37.9 L507.5,38.5 L509.0,39.2 L510.5,39.8 L512.0,40.3 L513.5,40.8 L515.1,41.2 L516.6,41.6 L518.1,42.0 L519.6,42.3 L521.1,42.6 L522.6,42.8 L524.2,43.1 L525.7,43.2 L527.2,43.4 L528.7,43.6 L530.2,43.7 L531.7,43.8 L533.2,44.0 L534.8,44.1 L536.3,44.3 L537.8,44.5 L539.3,44.7 L540.8,44.9 L542.3,45.2 L543.8,45.5 L545.4,45.8 L546.9,46.2 L548.4,46.6 L549.9,47.0 L551.4,47.5 L552.9,48.0 L554.4,48.5 L556.0,49.0 L557.5,49.6 L559.0,50.2 L560.5,50.9 L562.0,51.5 L563.5,52.2 L565.0,53.0 L566.6,53.7 L568.1,54.5 L569.6,55.2 L571.1,56.0 L572.6,56.8 L574.1,57.6 L575.6,58.5 L577.2,59.3 L578.7,60.2 L580.2,61.0 L581.7,61.9 L583.2,62.7 L584.7,63.6 L586.3,64.5 L587.8,65.3 L589.3,66.2 L590.8,67.0 L592.3,67.8 L593.8,68.7 L595.3,69.5 L596.9,70.3 L598.4,71.1 L599.9,71.8 L601.4,72.6 L602.9,73.4 L604.4,74.1 L605.9,74.9 L607.5,75.6 L609.0,76.3 L610.5,77.1 L612.0,77.8 L613.5,78.5 L615.0,79.2 L616.5,79.9 L618.1,80.6 L619.6,81.3 L621.1,82.0 L622.6,82.7 L624.1,83.4 L625.6,84.1 L627.1,84.8 L628.7,85.4 L630.2,86.1 L631.7,86.8 L633.2,87.5 L634.7,88.2 L636.2,88.9 L637.8,89.6 L639.3,90.2 L640.8,90.9 L642.3,91.6 L643.8,92.3 L645.3,92.9 L646.8,93.6 L648.4,94.2 L649.9,94.9 L651.4,95.6 L652.9,96.2 L654.4,96.8 L655.9,97.4 L657.4,98.1 L659.0,98.7 L660.5,99.2 L662.0,99.8 L663.5,100.4 L665.0,100.9 L666.5,101.4 L668.0,101.9 L669.6,102.4 L671.1,102.8 L672.6,103.2 L674.1,103.6 L675.6,104.0 L677.1,104.3 L678.6,104.6 L680.2,104.8 L681.7,105.1 L683.2,105.3 L684.7,105.4 L686.2,105.5 L687.7,105.6 L689.3,105.7 L690.8,105.6 L692.3,105.6 L693.8,105.5 L695.3,105.3 L696.8,105.2 L698.3,104.9 L699.9,104.6 L701.4,104.3 L702.9,103.9 L704.4,103.4 L705.9,102.9 L707.4,102.3 L708.9,101.7 L710.5,101.0 L712.0,100.2 L713.5,99.4 L715.0,98.5 L715.0,215.5 L713.5,212.3 L712.0,209.3 L710.5,206.3 L708.9,203.4 L707.4,200.6 L705.9,197.8 L704.4,195.1 L702.9,192.5 L701.4,189.9 L699.9,187.4 L698.3,184.9 L696.8,182.6 L695.3,180.2 L693.8,177.9 L692.3,175.7 L690.8,173.5 L689.3,171.4 L687.7,169.3 L686.2,167.3 L684.7,165.4 L683.2,163.4 L681.7,161.6 L680.2,159.7 L678.6,158.0 L677.1,156.2 L675.6,154.5 L674.1,152.9 L672.6,151.2 L671.1,149.6 L669.6,148.1 L668.0,146.6 L666.5,145.1 L665.0,143.7 L663.5,142.2 L662.0,140.9 L660.5,139.5 L659.0,138.2 L657.4,136.9 L655.9,135.6 L654.4,134.4 L652.9,133.1 L651.4,131.9 L649.9,130.7 L648.4,129.6 L646.8,128.4 L645.3,127.3 L643.8,126.2 L642.3,125.1 L640.8,124.0 L639.3,122.9 L637.8,121.9 L636.2,120.9 L634.7,119.9 L633.2,118.9 L631.7,117.9 L630.2,116.9 L628.7,116.0 L627.1,115.0 L625.6,114.1 L624.1,113.2 L622.6,112.3 L621.1,111.4 L619.6,110.5 L618.1,109.7 L616.5,108.8 L615.0,108.0 L613.5,107.1 L612.0,106.3 L610.5,105.5 L609.0,104.6 L607.5,103.8 L605.9,103.0 L604.4,102.2 L602.9,101.4 L601.4,100.5 L599.9,99.7 L598.4,98.9 L596.9,98.0 L595.3,97.2 L593.8,96.4 L592.3,95.5 L590.8,94.6 L589.3,93.8 L587.8,92.9 L586.3,92.0 L584.7,91.2 L583.2,90.3 L581.7,89.4 L580.2,88.5 L578.7,87.7 L577.2,86.8 L575.6,85.9 L574.1,85.1 L572.6,84.2 L571.1,83.4 L569.6,82.6 L568.1,81.8 L566.6,81.0 L565.0,80.2 L563.5,79.4 L562.0,78.6 L560.5,77.9 L559.0,77.2 L557.5,76.5 L556.0,75.9 L554.4,75.2 L552.9,74.6 L551.4,74.0 L549.9,73.5 L548.4,73.0 L546.9,72.5 L545.4,72.1 L543.8,71.7 L542.3,71.4 L540.8,71.1 L539.3,70.9 L537.8,70.7 L536.3,70.6 L534.8,70.5 L533.2,70.4 L531.7,70.4 L530.2,70.4 L528.7,70.4 L527.2,70.3 L525.7,70.3 L524.2,70.3 L522.6,70.3 L521.1,70.2 L519.6,70.1 L518.1,70.0 L516.6,69.8 L515.1,69.6 L513.5,69.4 L512.0,69.1 L510.5,68.7 L509.0,68.3 L507.5,67.8 L506.0,67.3 L504.5,66.8 L502.9,66.2 L501.4,65.6 L499.9,64.9 L498.4,64.3 L496.9,63.6 L495.4,62.9 L493.9,62.2 L492.3,61.6 L490.8,60.9 L489.3,60.2 L487.8,59.6 L486.3,59.0 L484.8,58.4 L483.3,57.8 L481.7,57.3 L480.2,56.8 L478.7,56.3 L477.2,55.9 L475.7,55.5 L474.2,55.1 L472.7,54.8 L471.1,54.6 L469.6,54.4 L468.1,54.3 L466.6,54.2 L465.1,54.1 L463.6,54.1 L462.0,54.1 L460.5,54.2 L459.0,54.2 L457.5,54.3 L456.0,54.4 L454.5,54.5 L453.0,54.5 L451.4,54.5 L449.9,54.6 L448.4,54.5 L446.9,54.5 L445.4,54.4 L443.9,54.2 L442.4,54.0 L440.8,53.7 L439.3,53.4 L437.8,52.9 L436.3,52.4Z" fill="#F8766D" fill-opacity="0.4" filter="url(#fb)"/><path d="M436.3,40.3 L437.8,40.6 L439.3,40.9 L440.8,41.0 L442.4,41.1 L443.9,41.2 L445.4,41.2 L446.9,41.1 L448.4,41.0 L449.9,40.9 L451.4,40.7 L453.0,40.6 L454.5,40.4 L456.0,40.2 L457.5,40.0 L459.0,39.8 L460.5,39.7 L462.0,39.5 L463.6,39.4 L465.1,39.4 L466.6,39.3 L468.1,39.4 L469.6,39.4 L471.1,39.6 L472.7,39.8 L474.2,40.0 L475.7,40.3 L477.2,40.7 L478.7,41.1 L480.2,41.5 L481.7,42.0 L483.3,42.6 L484.8,43.1 L486.3,43.7 L487.8,44.4 L489.3,45.0 L490.8,45.7 L492.3,46.4 L493.9,47.1 L495.4,47.8 L496.9,48.5 L498.4,49.2 L499.9,49.9 L501.4,50.6 L502.9,51.3 L504.5,52.0 L506.0,52.6 L507.5,53.2 L509.0,53.7 L510.5,54.2 L512.0,54.7 L513.5,55.1 L515.1,55.4 L516.6,55.7 L518.1,56.0 L519.6,56.2 L521.1,56.4 L522.6,56.6 L524.2,56.7 L525.7,56.8 L527.2,56.9 L528.7,57.0 L530.2,57.0 L531.7,57.1 L533.2,57.2 L534.8,57.3 L536.3,57.4 L537.8,57.6 L539.3,57.8 L540.8,58.0 L542.3,58.3 L543.8,58.6 L545.4,59.0 L546.9,59.4 L548.4,59.8 L549.9,60.2 L551.4,60.8 L552.9,61.3 L554.4,61.9 L556.0,62.4 L557.5,63.1 L559.0,63.7 L560.5,64.4 L562.0,65.1 L563.5,65.8 L565.0,66.6 L566.6,67.3 L568.1,68.1 L569.6,68.9 L571.1,69.7 L572.6,70.5 L574.1,71.4 L575.6,72.2 L577.2,73.1 L578.7,73.9 L580.2,74.8 L581.7,75.6 L583.2,76.5 L584.7,77.4 L586.3,78.2 L587.8,79.1 L589.3,80.0 L590.8,80.8 L592.3,81.7 L593.8,82.5 L595.3,83.3 L596.9,84.2 L598.4,85.0 L599.9,85.8 L601.4,86.6 L602.9,87.4 L604.4,88.2 L605.9,88.9 L607.5,89.7 L609.0,90.5 L610.5,91.3 L612.0,92.0 L613.5,92.8 L615.0,93.6 L616.5,94.4 L618.1,95.1 L619.6,95.9 L621.1,96.7 L622.6,97.5 L624.1,98.3 L625.6,99.1 L627.1,99.9 L628.7,100.7 L630.2,101.5 L631.7,102.3 L633.2,103.2 L634.7,104.0 L636.2,104.9 L637.8,105.7 L639.3,106.6 L640.8,107.5 L642.3,108.3 L643.8,109.2 L645.3,110.1 L646.8,111.0 L648.4,111.9 L649.9,112.8 L651.4,113.7 L652.9,114.7 L654.4,115.6 L655.9,116.5 L657.4,117.5 L659.0,118.4 L660.5,119.4 L662.0,120.3 L663.5,121.3 L665.0,122.3 L666.5,123.3 L668.0,124.2 L669.6,125.2 L671.1,126.2 L672.6,127.2 L674.1,128.2 L675.6,129.2 L677.1,130.2 L678.6,131.3 L680.2,132.3 L681.7,133.3 L683.2,134.4 L684.7,135.4 L686.2,136.4 L687.7,137.5 L689.3,138.5 L690.8,139.6 L692.3,140.6 L693.8,141.7 L695.3,142.8 L696.8,143.9 L698.3,144.9 L699.9,146.0 L701.4,147.1 L702.9,148.2 L704.4,149.3 L705.9,150.4 L707.4,151.4 L708.9,152.5 L710.5,153.6 L712.0,154.8 L713.5,155.9 L715.0,157.0" fill="none" stroke="#4749A8" stroke-width="2.0" stroke-opacity="0.92" stroke-linejoin="round" stroke-linecap="round" filter="url(#fl)"/><path d="M436.3,32.8 L437.8,32.5 L439.3,32.0 L440.8,31.6 L442.4,31.0 L443.9,30.5 L445.4,29.9 L446.9,29.4 L448.4,28.8 L449.9,28.2 L451.4,27.6 L453.0,27.1 L454.5,26.5 L456.0,26.0 L457.5,25.5 L459.0,25.1 L460.5,24.7 L462.0,24.4 L463.6,24.1 L465.1,23.9 L466.6,23.8 L468.1,23.8 L469.6,23.8 L471.1,24.0 L472.6,24.2 L474.2,24.5 L475.7,24.9 L477.2,25.4 L478.7,25.9 L480.2,26.4 L481.7,27.0 L483.2,27.6 L484.8,28.2 L486.3,28.8 L487.8,29.4 L489.3,30.0 L490.8,30.6 L492.3,31.1 L493.8,31.5 L495.4,32.0 L496.9,32.4 L498.4,32.8 L499.9,33.1 L501.4,33.4 L502.9,33.7 L504.4,33.9 L506.0,34.2 L507.5,34.4 L509.0,34.5 L510.5,34.7 L512.0,34.8 L513.5,34.9 L515.0,35.0 L516.6,35.1 L518.1,35.2 L519.6,35.2 L521.1,35.3 L522.6,35.4 L524.1,35.4 L525.6,35.5 L527.2,35.5 L528.7,35.6 L530.2,35.6 L531.7,35.7 L533.2,35.8 L534.7,35.8 L536.2,35.9 L537.8,36.1 L539.3,36.2 L540.8,36.3 L542.3,36.5 L543.8,36.7 L545.3,36.9 L546.8,37.2 L548.4,37.5 L549.9,37.8 L551.4,38.1 L552.9,38.5 L554.4,38.9 L555.9,39.3 L557.4,39.8 L559.0,40.2 L560.5,40.7 L562.0,41.3 L563.5,41.8 L565.0,42.4 L566.5,43.0 L568.0,43.6 L569.6,44.3 L571.1,44.9 L572.6,45.6 L574.1,46.3 L575.6,47.0 L577.1,47.7 L578.6,48.4 L580.2,49.2 L581.7,49.9 L583.2,50.6 L584.7,51.4 L586.2,52.1 L587.7,52.9 L589.3,53.6 L590.8,54.4 L592.3,55.1 L593.8,55.9 L595.3,56.6 L596.8,57.3 L598.3,58.1 L599.9,58.8 L601.4,59.5 L602.9,60.2 L604.4,60.8 L605.9,61.5 L607.4,62.2 L608.9,62.8 L610.5,63.4 L612.0,64.0 L613.5,64.6 L615.0,65.2 L616.5,65.8 L618.0,66.3 L619.5,66.9 L621.1,67.4 L622.6,67.9 L624.1,68.4 L625.6,68.9 L627.1,69.3 L628.6,69.8 L630.1,70.2 L631.7,70.6 L633.2,71.0 L634.7,71.4 L636.2,71.7 L637.7,72.1 L639.2,72.4 L640.7,72.7 L642.3,73.1 L643.8,73.4 L645.3,73.7 L646.8,74.0 L648.3,74.2 L649.8,74.5 L651.3,74.8 L652.9,75.0 L654.4,75.3 L655.9,75.6 L657.4,75.8 L658.9,76.0 L660.4,76.3 L661.9,76.5 L663.5,76.7 L665.0,76.9 L666.5,77.1 L668.0,77.3 L669.5,77.5 L671.0,77.7 L672.5,77.9 L674.1,78.1 L675.6,78.3 L677.1,78.4 L678.6,78.6 L680.1,78.8 L681.6,78.9 L683.1,79.1 L684.7,79.2 L686.2,79.4 L687.7,79.5 L689.2,79.6 L690.7,79.8 L692.2,79.9 L693.7,80.0 L695.3,80.1 L696.8,80.3 L698.3,80.4 L699.8,80.5 L701.3,80.6 L702.8,80.7 L704.3,80.8 L705.9,80.9 L707.4,81.0 L708.9,81.1 L710.4,81.2 L711.9,81.3 L713.4,81.4 L714.9,81.4 L716.5,81.5 L718.0,81.6 L719.5,81.7 L721.0,81.8 L721.0,173.8 L719.5,171.8 L718.0,169.8 L716.5,167.9 L714.9,166.0 L713.4,164.1 L711.9,162.3 L710.4,160.5 L708.9,158.7 L707.4,157.0 L705.9,155.3 L704.3,153.6 L702.8,152.0 L701.3,150.4 L699.8,148.8 L698.3,147.3 L696.8,145.8 L695.3,144.3 L693.7,142.9 L692.2,141.5 L690.7,140.1 L689.2,138.7 L687.7,137.3 L686.2,136.0 L684.7,134.7 L683.1,133.4 L681.6,132.1 L680.1,130.9 L678.6,129.7 L677.1,128.5 L675.6,127.3 L674.1,126.1 L672.5,124.9 L671.0,123.8 L669.5,122.6 L668.0,121.5 L666.5,120.4 L665.0,119.3 L663.5,118.2 L661.9,117.1 L660.4,116.0 L658.9,115.0 L657.4,113.9 L655.9,112.9 L654.4,111.8 L652.9,110.8 L651.3,109.7 L649.8,108.7 L648.3,107.6 L646.8,106.6 L645.3,105.6 L643.8,104.5 L642.3,103.5 L640.7,102.4 L639.2,101.4 L637.7,100.4 L636.2,99.3 L634.7,98.3 L633.2,97.2 L631.7,96.2 L630.1,95.1 L628.6,94.1 L627.1,93.0 L625.6,91.9 L624.1,90.9 L622.6,89.8 L621.1,88.8 L619.5,87.8 L618.0,86.7 L616.5,85.7 L615.0,84.7 L613.5,83.6 L612.0,82.6 L610.5,81.7 L608.9,80.7 L607.4,79.7 L605.9,78.8 L604.4,77.8 L602.9,76.9 L601.4,76.0 L599.9,75.1 L598.3,74.3 L596.8,73.4 L595.3,72.6 L593.8,71.8 L592.3,71.1 L590.8,70.3 L589.3,69.6 L587.7,68.9 L586.2,68.2 L584.7,67.5 L583.2,66.9 L581.7,66.3 L580.2,65.7 L578.6,65.1 L577.1,64.5 L575.6,64.0 L574.1,63.5 L572.6,63.0 L571.1,62.6 L569.6,62.1 L568.0,61.7 L566.5,61.3 L565.0,61.0 L563.5,60.6 L562.0,60.3 L560.5,60.0 L559.0,59.8 L557.4,59.5 L555.9,59.3 L554.4,59.1 L552.9,58.9 L551.4,58.8 L549.9,58.6 L548.4,58.5 L546.8,58.4 L545.3,58.4 L543.8,58.3 L542.3,58.2 L540.8,58.2 L539.3,58.2 L537.8,58.2 L536.2,58.2 L534.7,58.2 L533.2,58.2 L531.7,58.2 L530.2,58.3 L528.7,58.4 L527.2,58.4 L525.6,58.5 L524.1,58.6 L522.6,58.7 L521.1,58.9 L519.6,59.0 L518.1,59.2 L516.6,59.3 L515.0,59.5 L513.5,59.7 L512.0,59.9 L510.5,60.1 L509.0,60.3 L507.5,60.6 L506.0,60.8 L504.4,61.1 L502.9,61.4 L501.4,61.7 L499.9,62.0 L498.4,62.3 L496.9,62.6 L495.4,62.9 L493.8,63.3 L492.3,63.7 L490.8,64.1 L489.3,64.5 L487.8,64.9 L486.3,65.4 L484.8,65.8 L483.2,66.3 L481.7,66.7 L480.2,67.1 L478.7,67.5 L477.2,67.8 L475.7,68.0 L474.2,68.2 L472.6,68.4 L471.1,68.4 L469.6,68.3 L468.1,68.2 L466.6,67.9 L465.1,67.6 L463.6,67.2 L462.0,66.7 L460.5,66.2 L459.0,65.7 L457.5,65.0 L456.0,64.4 L454.5,63.7 L453.0,63.0 L451.4,62.3 L449.9,61.6 L448.4,60.9 L446.9,60.3 L445.4,59.6 L443.9,59.0 L442.4,58.4 L440.8,57.9 L439.3,57.4 L437.8,57.0 L436.3,56.6Z" fill="#00BA38" fill-opacity="0.4" filter="url(#fb)"/><path d="M436.3,44.7 L437.8,44.7 L439.3,44.7 L440.8,44.7 L442.4,44.7 L443.9,44.7 L445.4,44.8 L446.9,44.8 L448.4,44.9 L449.9,44.9 L451.4,45.0 L453.0,45.1 L454.5,45.1 L456.0,45.2 L457.5,45.3 L459.0,45.4 L460.5,45.5 L462.0,45.6 L463.6,45.7 L465.1,45.8 L466.6,45.9 L468.1,46.0 L469.6,46.1 L471.1,46.2 L472.6,46.3 L474.2,46.4 L475.7,46.5 L477.2,46.6 L478.7,46.7 L480.2,46.8 L481.7,46.9 L483.2,46.9 L484.8,47.0 L486.3,47.1 L487.8,47.2 L489.3,47.3 L490.8,47.3 L492.3,47.4 L493.8,47.4 L495.4,47.5 L496.9,47.5 L498.4,47.5 L499.9,47.5 L501.4,47.5 L502.9,47.5 L504.4,47.5 L506.0,47.5 L507.5,47.5 L509.0,47.4 L510.5,47.4 L512.0,47.4 L513.5,47.3 L515.0,47.3 L516.6,47.2 L518.1,47.2 L519.6,47.1 L521.1,47.1 L522.6,47.0 L524.1,47.0 L525.6,47.0 L527.2,47.0 L528.7,47.0 L530.2,47.0 L531.7,47.0 L533.2,47.0 L534.7,47.0 L536.2,47.0 L537.8,47.1 L539.3,47.2 L540.8,47.3 L542.3,47.4 L543.8,47.5 L545.3,47.6 L546.8,47.8 L548.4,48.0 L549.9,48.2 L551.4,48.4 L552.9,48.7 L554.4,49.0 L555.9,49.3 L557.4,49.6 L559.0,50.0 L560.5,50.4 L562.0,50.8 L563.5,51.2 L565.0,51.7 L566.5,52.2 L568.0,52.7 L569.6,53.2 L571.1,53.8 L572.6,54.3 L574.1,54.9 L575.6,55.5 L577.1,56.1 L578.6,56.8 L580.2,57.4 L581.7,58.1 L583.2,58.8 L584.7,59.5 L586.2,60.2 L587.7,60.9 L589.3,61.6 L590.8,62.3 L592.3,63.1 L593.8,63.9 L595.3,64.6 L596.8,65.4 L598.3,66.2 L599.9,67.0 L601.4,67.7 L602.9,68.5 L604.4,69.3 L605.9,70.1 L607.4,70.9 L608.9,71.7 L610.5,72.5 L612.0,73.3 L613.5,74.1 L615.0,74.9 L616.5,75.7 L618.0,76.5 L619.5,77.3 L621.1,78.1 L622.6,78.9 L624.1,79.6 L625.6,80.4 L627.1,81.2 L628.6,81.9 L630.1,82.7 L631.7,83.4 L633.2,84.1 L634.7,84.8 L636.2,85.5 L637.7,86.2 L639.2,86.9 L640.7,87.6 L642.3,88.3 L643.8,88.9 L645.3,89.6 L646.8,90.3 L648.3,90.9 L649.8,91.6 L651.3,92.3 L652.9,92.9 L654.4,93.6 L655.9,94.2 L657.4,94.9 L658.9,95.5 L660.4,96.2 L661.9,96.8 L663.5,97.5 L665.0,98.1 L666.5,98.8 L668.0,99.4 L669.5,100.1 L671.0,100.7 L672.5,101.4 L674.1,102.1 L675.6,102.8 L677.1,103.4 L678.6,104.1 L680.1,104.8 L681.6,105.5 L683.1,106.2 L684.7,107.0 L686.2,107.7 L687.7,108.4 L689.2,109.2 L690.7,109.9 L692.2,110.7 L693.7,111.4 L695.3,112.2 L696.8,113.0 L698.3,113.8 L699.8,114.7 L701.3,115.5 L702.8,116.4 L704.3,117.2 L705.9,118.1 L707.4,119.0 L708.9,119.9 L710.4,120.8 L711.9,121.8 L713.4,122.7 L714.9,123.7 L716.5,124.7 L718.0,125.7 L719.5,126.7 L721.0,127.8" fill="none" stroke="#2F5AB5" stroke-width="2.0" stroke-opacity="0.92" stroke-linejoin="round" stroke-linecap="round" filter="url(#fl)"/><path d="M436.3,40.1 L437.8,38.9 L439.3,37.5 L440.8,36.0 L442.3,34.4 L443.8,32.7 L445.3,30.9 L446.9,29.2 L448.4,27.5 L449.9,25.9 L451.4,24.4 L452.9,23.0 L454.4,21.8 L455.9,20.7 L457.4,19.7 L458.9,18.9 L460.4,18.3 L461.9,17.7 L463.4,17.3 L464.9,16.9 L466.5,16.7 L468.0,16.6 L469.5,16.5 L471.0,16.6 L472.5,16.8 L474.0,17.1 L475.5,17.5 L477.0,18.0 L478.5,18.7 L480.0,19.4 L481.5,20.2 L483.0,21.2 L484.5,22.2 L486.1,23.3 L487.6,24.5 L489.1,25.7 L490.6,26.8 L492.1,27.9 L493.6,29.0 L495.1,30.1 L496.6,31.1 L498.1,32.0 L499.6,32.9 L501.1,33.8 L502.6,34.6 L504.1,35.4 L505.7,36.0 L507.2,36.7 L508.7,37.2 L510.2,37.7 L511.7,38.1 L513.2,38.4 L514.7,38.6 L516.2,38.8 L517.7,38.9 L519.2,38.9 L520.7,38.9 L522.2,38.9 L523.8,38.8 L525.3,38.6 L526.8,38.4 L528.3,38.2 L529.8,38.0 L531.3,37.7 L532.8,37.5 L534.3,37.2 L535.8,36.9 L537.3,36.6 L538.8,36.3 L540.3,36.0 L541.8,35.7 L543.4,35.5 L544.9,35.2 L546.4,35.0 L547.9,34.8 L549.4,34.7 L550.9,34.6 L552.4,34.5 L553.9,34.5 L555.4,34.5 L556.9,34.6 L558.4,34.7 L559.9,34.9 L561.4,35.1 L563.0,35.4 L564.5,35.6 L566.0,36.0 L567.5,36.3 L569.0,36.7 L570.5,37.1 L572.0,37.6 L573.5,38.0 L575.0,38.5 L576.5,39.1 L578.0,39.6 L579.5,40.2 L581.0,40.8 L582.6,41.4 L584.1,42.0 L585.6,42.7 L587.1,43.3 L588.6,44.0 L590.1,44.6 L591.6,45.3 L593.1,46.0 L594.6,46.7 L596.1,47.4 L597.6,48.1 L599.1,48.8 L600.6,49.5 L602.2,50.2 L603.7,50.9 L605.2,51.6 L606.7,52.2 L608.2,52.9 L609.7,53.6 L611.2,54.2 L612.7,54.9 L614.2,55.5 L615.7,56.2 L617.2,56.8 L618.7,57.4 L620.2,58.1 L621.8,58.7 L623.3,59.3 L624.8,59.9 L626.3,60.5 L627.8,61.1 L629.3,61.6 L630.8,62.2 L632.3,62.8 L633.8,63.3 L635.3,63.9 L636.8,64.4 L638.3,64.9 L639.8,65.4 L641.4,65.9 L642.9,66.4 L644.4,66.9 L645.9,67.4 L647.4,67.9 L648.9,68.3 L650.4,68.7 L651.9,69.2 L653.4,69.6 L654.9,70.0 L656.4,70.4 L657.9,70.8 L659.4,71.2 L661.0,71.5 L662.5,71.9 L664.0,72.2 L665.5,72.5 L667.0,72.9 L668.5,73.2 L670.0,73.5 L671.5,73.7 L673.0,74.0 L674.5,74.3 L676.0,74.5 L677.5,74.8 L679.0,75.0 L680.6,75.2 L682.1,75.4 L683.6,75.6 L685.1,75.8 L686.6,76.0 L688.1,76.2 L689.6,76.3 L691.1,76.5 L692.6,76.6 L694.1,76.8 L695.6,76.9 L697.1,77.0 L698.7,77.1 L700.2,77.2 L701.7,77.3 L703.2,77.3 L704.7,77.4 L706.2,77.4 L707.7,77.5 L709.2,77.5 L710.7,77.6 L712.2,77.6 L713.7,77.6 L715.2,77.6 L716.7,77.6 L718.3,77.6 L719.8,77.5 L721.3,77.5 L722.8,77.5 L724.3,77.4 L725.8,77.4 L727.3,77.3 L728.8,77.2 L730.3,77.1 L731.8,77.1 L733.3,77.0 L734.8,76.9 L736.3,76.7 L737.9,76.6 L739.4,76.5 L740.9,76.4 L742.4,76.2 L743.9,76.1 L745.4,75.9 L746.9,75.8 L748.4,75.6 L749.9,75.4 L751.4,75.2 L752.9,75.0 L754.4,74.8 L755.9,74.6 L757.5,74.4 L759.0,74.2 L760.5,74.0 L762.0,73.8 L763.5,73.5 L765.0,73.3 L766.5,73.0 L766.5,246.8 L765.0,244.4 L763.5,241.9 L762.0,239.5 L760.5,237.0 L759.0,234.6 L757.5,232.2 L755.9,229.8 L754.4,227.4 L752.9,225.0 L751.4,222.7 L749.9,220.3 L748.4,218.0 L746.9,215.7 L745.4,213.4 L743.9,211.1 L742.4,208.9 L740.9,206.6 L739.4,204.4 L737.9,202.2 L736.3,200.1 L734.8,198.0 L733.3,195.9 L731.8,193.8 L730.3,191.7 L728.8,189.7 L727.3,187.8 L725.8,185.8 L724.3,183.9 L722.8,182.0 L721.3,180.2 L719.8,178.4 L718.3,176.7 L716.7,175.0 L715.2,173.3 L713.7,171.6 L712.2,170.0 L710.7,168.4 L709.2,166.9 L707.7,165.4 L706.2,163.9 L704.7,162.4 L703.2,161.0 L701.7,159.6 L700.2,158.2 L698.7,156.8 L697.1,155.4 L695.6,154.1 L694.1,152.7 L692.6,151.4 L691.1,150.1 L689.6,148.8 L688.1,147.5 L686.6,146.2 L685.1,144.9 L683.6,143.6 L682.1,142.4 L680.6,141.1 L679.0,139.8 L677.5,138.5 L676.0,137.2 L674.5,135.9 L673.0,134.6 L671.5,133.3 L670.0,132.0 L668.5,130.6 L667.0,129.3 L665.5,127.9 L664.0,126.5 L662.5,125.1 L661.0,123.6 L659.4,122.2 L657.9,120.7 L656.4,119.2 L654.9,117.6 L653.4,116.1 L651.9,114.5 L650.4,112.9 L648.9,111.3 L647.4,109.7 L645.9,108.2 L644.4,106.6 L642.9,105.1 L641.4,103.7 L639.8,102.3 L638.3,100.9 L636.8,99.7 L635.3,98.5 L633.8,97.3 L632.3,96.3 L630.8,95.3 L629.3,94.3 L627.8,93.4 L626.3,92.5 L624.8,91.6 L623.3,90.7 L621.8,89.9 L620.2,89.0 L618.7,88.2 L617.2,87.3 L615.7,86.4 L614.2,85.5 L612.7,84.6 L611.2,83.8 L609.7,82.9 L608.2,82.0 L606.7,81.1 L605.2,80.2 L603.7,79.3 L602.2,78.4 L600.6,77.5 L599.1,76.6 L597.6,75.7 L596.1,74.9 L594.6,74.0 L593.1,73.2 L591.6,72.3 L590.1,71.5 L588.6,70.7 L587.1,69.9 L585.6,69.1 L584.1,68.4 L582.6,67.6 L581.0,66.9 L579.5,66.2 L578.0,65.5 L576.5,64.8 L575.0,64.2 L573.5,63.6 L572.0,63.0 L570.5,62.4 L569.0,61.9 L567.5,61.4 L566.0,60.9 L564.5,60.5 L563.0,60.1 L561.4,59.7 L559.9,59.3 L558.4,59.0 L556.9,58.8 L555.4,58.5 L553.9,58.4 L552.4,58.2 L550.9,58.1 L549.4,58.1 L547.9,58.1 L546.4,58.1 L544.9,58.2 L543.4,58.4 L541.8,58.6 L540.3,58.8 L538.8,59.2 L537.3,59.6 L535.8,60.0 L534.3,60.5 L532.8,61.1 L531.3,61.7 L529.8,62.4 L528.3,63.2 L526.8,64.1 L525.3,64.9 L523.8,65.8 L522.2,66.6 L520.7,67.4 L519.2,68.2 L517.7,68.9 L516.2,69.4 L514.7,69.9 L513.2,70.3 L511.7,70.5 L510.2,70.7 L508.7,70.8 L507.2,70.7 L505.7,70.6 L504.1,70.4 L502.6,70.1 L501.1,69.7 L499.6,69.2 L498.1,68.7 L496.6,68.2 L495.1,67.6 L493.6,67.1 L492.1,66.6 L490.6,66.1 L489.1,65.7 L487.6,65.3 L486.1,64.9 L484.5,64.5 L483.0,64.2 L481.5,63.8 L480.0,63.5 L478.5,63.2 L477.0,62.9 L475.5,62.6 L474.0,62.3 L472.5,62.0 L471.0,61.6 L469.5,61.3 L468.0,61.0 L466.5,60.7 L464.9,60.4 L463.4,60.1 L461.9,59.8 L460.4,59.5 L458.9,59.2 L457.4,58.9 L455.9,58.6 L454.4,58.4 L452.9,58.1 L451.4,57.9 L449.9,57.7 L448.4,57.5 L446.9,57.3 L445.3,57.1 L443.8,56.9 L442.3,56.8 L440.8,56.7 L439.3,56.6 L437.8,56.5 L436.3,56.5Z" fill="#619CFF" fill-opacity="0.4" filter="url(#fb)"/><path d="M436.3,40.5 L437.8,41.0 L439.3,41.5 L440.8,41.8 L442.3,42.0 L443.8,42.1 L445.3,42.2 L446.9,42.1 L448.4,42.0 L449.9,41.9 L451.4,41.7 L452.9,41.5 L454.4,41.2 L455.9,41.0 L457.4,40.7 L458.9,40.4 L460.4,40.1 L461.9,39.9 L463.4,39.7 L464.9,39.5 L466.5,39.3 L468.0,39.3 L469.5,39.3 L471.0,39.3 L472.5,39.4 L474.0,39.7 L475.5,39.9 L477.0,40.3 L478.5,40.7 L480.0,41.2 L481.5,41.7 L483.0,42.3 L484.5,42.9 L486.1,43.6 L487.6,44.3 L489.1,45.1 L490.6,45.9 L492.1,46.8 L493.6,47.7 L495.1,48.6 L496.6,49.5 L498.1,50.3 L499.6,51.1 L501.1,51.8 L502.6,52.4 L504.1,52.9 L505.7,53.3 L507.2,53.6 L508.7,53.8 L510.2,54.0 L511.7,54.0 L513.2,54.0 L514.7,54.0 L516.2,53.9 L517.7,53.7 L519.2,53.4 L520.7,53.2 L522.2,52.9 L523.8,52.5 L525.3,52.1 L526.8,51.7 L528.3,51.3 L529.8,50.9 L531.3,50.5 L532.8,50.0 L534.3,49.6 L535.8,49.2 L537.3,48.8 L538.8,48.4 L540.3,48.1 L541.8,47.7 L543.4,47.4 L544.9,47.2 L546.4,47.0 L547.9,46.8 L549.4,46.7 L550.9,46.7 L552.4,46.7 L553.9,46.7 L555.4,46.8 L556.9,47.0 L558.4,47.2 L559.9,47.4 L561.4,47.7 L563.0,48.0 L564.5,48.4 L566.0,48.8 L567.5,49.2 L569.0,49.7 L570.5,50.2 L572.0,50.7 L573.5,51.2 L575.0,51.8 L576.5,52.3 L578.0,52.9 L579.5,53.6 L581.0,54.2 L582.6,54.8 L584.1,55.5 L585.6,56.1 L587.1,56.8 L588.6,57.5 L590.1,58.2 L591.6,58.8 L593.1,59.5 L594.6,60.2 L596.1,60.9 L597.6,61.6 L599.1,62.3 L600.6,63.0 L602.2,63.7 L603.7,64.5 L605.2,65.2 L606.7,65.9 L608.2,66.6 L609.7,67.4 L611.2,68.1 L612.7,68.8 L614.2,69.6 L615.7,70.3 L617.2,71.1 L618.7,71.8 L620.2,72.6 L621.8,73.3 L623.3,74.1 L624.8,74.8 L626.3,75.6 L627.8,76.4 L629.3,77.1 L630.8,77.9 L632.3,78.7 L633.8,79.4 L635.3,80.2 L636.8,81.0 L638.3,81.8 L639.8,82.6 L641.4,83.3 L642.9,84.1 L644.4,84.9 L645.9,85.7 L647.4,86.5 L648.9,87.3 L650.4,88.1 L651.9,88.8 L653.4,89.6 L654.9,90.4 L656.4,91.2 L657.9,92.0 L659.4,92.8 L661.0,93.6 L662.5,94.4 L664.0,95.3 L665.5,96.1 L667.0,96.9 L668.5,97.7 L670.0,98.5 L671.5,99.3 L673.0,100.2 L674.5,101.0 L676.0,101.8 L677.5,102.7 L679.0,103.5 L680.6,104.3 L682.1,105.2 L683.6,106.0 L685.1,106.9 L686.6,107.7 L688.1,108.6 L689.6,109.4 L691.1,110.3 L692.6,111.2 L694.1,112.0 L695.6,112.9 L697.1,113.8 L698.7,114.7 L700.2,115.5 L701.7,116.4 L703.2,117.3 L704.7,118.2 L706.2,119.1 L707.7,120.0 L709.2,120.9 L710.7,121.8 L712.2,122.8 L713.7,123.7 L715.2,124.6 L716.7,125.5 L718.3,126.5 L719.8,127.4 L721.3,128.4 L722.8,129.3 L724.3,130.3 L725.8,131.2 L727.3,132.2 L728.8,133.2 L730.3,134.1 L731.8,135.1 L733.3,136.1 L734.8,137.1 L736.3,138.1 L737.9,139.1 L739.4,140.1 L740.9,141.1 L742.4,142.1 L743.9,143.2 L745.4,144.2 L746.9,145.2 L748.4,146.3 L749.9,147.3 L751.4,148.4 L752.9,149.4 L754.4,150.5 L755.9,151.6 L757.5,152.7 L759.0,153.7 L760.5,154.8 L762.0,155.9 L763.5,157.0 L765.0,158.1 L766.5,159.3" fill="none" stroke="#3453C4" stroke-width="2.0" stroke-opacity="0.92" stroke-linejoin="round" stroke-linecap="round" filter="url(#fl)"/></g><g filter="url(#ft)"><line x1="497.7" y1="260.2" x2="497.7" y2="262.4" stroke="#333" stroke-width="0.8"/><text x="497.7" y="268.6" font-size="6.8" fill="#4D4D4D" text-anchor="middle">0</text><line x1="577.5" y1="260.2" x2="577.5" y2="262.4" stroke="#333" stroke-width="0.8"/><text x="577.5" y="268.6" font-size="6.8" fill="#4D4D4D" text-anchor="middle">1</text><line x1="657.3" y1="260.2" x2="657.3" y2="262.4" stroke="#333" stroke-width="0.8"/><text x="657.3" y="268.6" font-size="6.8" fill="#4D4D4D" text-anchor="middle">2</text><line x1="737.1" y1="260.2" x2="737.1" y2="262.4" stroke="#333" stroke-width="0.8"/><text x="737.1" y="268.6" font-size="6.8" fill="#4D4D4D" text-anchor="middle">3</text><line x1="417.2" y1="218.5" x2="419.4" y2="218.5" stroke="#333" stroke-width="0.8"/><text x="416" y="221" font-size="6.8" fill="#4D4D4D" text-anchor="end">-3</text><line x1="417.2" y1="163.6" x2="419.4" y2="163.6" stroke="#333" stroke-width="0.8"/><text x="416" y="166.1" font-size="6.8" fill="#4D4D4D" text-anchor="end">-2</text><line x1="417.2" y1="108.7" x2="419.4" y2="108.7" stroke="#333" stroke-width="0.8"/><text x="416" y="111.2" font-size="6.8" fill="#4D4D4D" text-anchor="end">-1</text><line x1="417.2" y1="53.8" x2="419.4" y2="53.8" stroke="#333" stroke-width="0.8"/><text x="416" y="56.3" font-size="6.8" fill="#4D4D4D" text-anchor="end">0</text><text x="601.6" y="279.3" font-size="9.1" textLength="97" lengthAdjust="spacingAndGlyphs" fill="#000" stroke="#000" stroke-width="0.3" text-anchor="middle">Maternal Hydroxycotinine</text><text transform="translate(404.6,132.8) rotate(-90)" font-size="8.6" fill="#000" stroke="#000" stroke-width="0.3" text-anchor="middle">GFI1</text><text x="398.1" y="13.3" font-size="11.5" font-weight="bold" fill="#000">B</text><text x="535.5" y="303.3" font-size="7.8" textLength="43.3" lengthAdjust="spacingAndGlyphs" fill="#000" stroke="#000" stroke-width="0.25">Folate Status</text><rect x="580.9" y="294.1" width="13" height="12.8" fill="#F2F2F2"/><line x1="581.7" y1="300.5" x2="593.1" y2="300.5" stroke="#3352CC" stroke-width="2.2"/><rect x="580.9" y="294.1" width="13" height="12.8" fill="#F8766D" fill-opacity="0.4"/><text x="597.3" y="302.6" font-size="5.8" textLength="7.3" lengthAdjust="spacingAndGlyphs" fill="#222" stroke="#222" stroke-width="0.15">Q1</text><rect x="609.2" y="294.1" width="13" height="12.8" fill="#F2F2F2"/><line x1="610" y1="300.5" x2="621.4" y2="300.5" stroke="#3352CC" stroke-width="2.2"/><rect x="609.2" y="294.1" width="13" height="12.8" fill="#00BA38" fill-opacity="0.4"/><text x="625.6" y="302.6" font-size="5.8" textLength="12.2" lengthAdjust="spacingAndGlyphs" fill="#222" stroke="#222" stroke-width="0.15">Q2-3</text><rect x="643.4" y="294.1" width="13" height="12.8" fill="#F2F2F2"/><line x1="644.2" y1="300.5" x2="655.6" y2="300.5" stroke="#3352CC" stroke-width="2.2"/><rect x="643.4" y="294.1" width="13" height="12.8" fill="#619CFF" fill-opacity="0.4"/><text x="659.8" y="302.6" font-size="5.8" textLength="7.3" lengthAdjust="spacingAndGlyphs" fill="#222" stroke="#222" stroke-width="0.15">Q4</text></g></g>
<clipPath id="clipC"><rect x="26.1" y="320.2" width="364.4" height="254.7"/></clipPath>
<g><g filter="url(#fb)"><rect x="26.1" y="320.2" width="364.4" height="254.7" fill="#EBEBEB"/><line x1="64.5" y1="320.2" x2="64.5" y2="574.9" stroke="#F3F3F3" stroke-width="1.0"/><line x1="144.3" y1="320.2" x2="144.3" y2="574.9" stroke="#F3F3F3" stroke-width="1.0"/><line x1="224.1" y1="320.2" x2="224.1" y2="574.9" stroke="#F3F3F3" stroke-width="1.0"/><line x1="303.9" y1="320.2" x2="303.9" y2="574.9" stroke="#F3F3F3" stroke-width="1.0"/><line x1="383.7" y1="320.2" x2="383.7" y2="574.9" stroke="#F3F3F3" stroke-width="1.0"/><line x1="26.1" y1="556.4" x2="390.5" y2="556.4" stroke="#F3F3F3" stroke-width="1.0"/><line x1="26.1" y1="504.2" x2="390.5" y2="504.2" stroke="#F3F3F3" stroke-width="1.0"/><line x1="26.1" y1="452.1" x2="390.5" y2="452.1" stroke="#F3F3F3" stroke-width="1.0"/><line x1="26.1" y1="400.1" x2="390.5" y2="400.1" stroke="#F3F3F3" stroke-width="1.0"/><line x1="26.1" y1="347.9" x2="390.5" y2="347.9" stroke="#F3F3F3" stroke-width="1.0"/><line x1="104.4" y1="320.2" x2="104.4" y2="574.9" stroke="#FFFFFF" stroke-width="1.4"/><line x1="184.2" y1="320.2" x2="184.2" y2="574.9" stroke="#FFFFFF" stroke-width="1.4"/><line x1="264" y1="320.2" x2="264" y2="574.9" stroke="#FFFFFF" stroke-width="1.4"/><line x1="343.8" y1="320.2" x2="343.8" y2="574.9" stroke="#FFFFFF" stroke-width="1.4"/><line x1="26.1" y1="530.3" x2="390.5" y2="530.3" stroke="#FFFFFF" stroke-width="1.4"/><line x1="26.1" y1="478.2" x2="390.5" y2="478.2" stroke="#FFFFFF" stroke-width="1.4"/><line x1="26.1" y1="426.1" x2="390.5" y2="426.1" stroke="#FFFFFF" stroke-width="1.4"/><line x1="26.1" y1="374" x2="390.5" y2="374" stroke="#FFFFFF" stroke-width="1.4"/><line x1="26.1" y1="321.9" x2="390.5" y2="321.9" stroke="#FFFFFF" stroke-width="1.4"/></g><g clip-path="url(#clipC)"><path d="M42.8,348.6 L44.3,349.8 L45.8,350.9 L47.3,351.9 L48.8,352.9 L50.4,353.8 L51.9,354.6 L53.4,355.3 L54.9,356.0 L56.4,356.6 L57.9,357.1 L59.4,357.6 L60.9,358.1 L62.4,358.5 L63.9,358.8 L65.5,359.1 L67.0,359.4 L68.5,359.6 L70.0,359.9 L71.5,360.1 L73.0,360.2 L74.5,360.4 L76.0,360.5 L77.5,360.6 L79.0,360.8 L80.6,360.9 L82.1,361.0 L83.6,361.1 L85.1,361.3 L86.6,361.4 L88.1,361.6 L89.6,361.8 L91.1,362.0 L92.6,362.2 L94.1,362.5 L95.7,362.8 L97.2,363.1 L98.7,363.5 L100.2,363.9 L101.7,364.3 L103.2,364.8 L104.7,365.2 L106.2,365.6 L107.7,365.9 L109.2,366.2 L110.8,366.5 L112.3,366.7 L113.8,366.8 L115.3,366.9 L116.8,366.9 L118.3,366.9 L119.8,366.9 L121.3,366.8 L122.8,366.7 L124.3,366.5 L125.9,366.4 L127.4,366.2 L128.9,366.0 L130.4,365.8 L131.9,365.7 L133.4,365.5 L134.9,365.3 L136.4,365.1 L137.9,365.0 L139.4,364.8 L141.0,364.7 L142.5,364.6 L144.0,364.5 L145.5,364.5 L147.0,364.5 L148.5,364.5 L150.0,364.5 L151.5,364.6 L153.0,364.7 L154.5,364.9 L156.1,365.1 L157.6,365.4 L159.1,365.6 L160.6,366.0 L162.1,366.3 L163.6,366.7 L165.1,367.1 L166.6,367.6 L168.1,368.1 L169.6,368.6 L171.2,369.1 L172.7,369.7 L174.2,370.3 L175.7,371.0 L177.2,371.7 L178.7,372.4 L180.2,373.1 L181.7,373.8 L183.2,374.6 L184.8,375.4 L186.3,376.3 L187.8,377.1 L189.3,378.0 L190.8,378.9 L192.3,379.8 L193.8,380.8 L195.3,381.8 L196.8,382.7 L198.3,383.7 L199.9,384.8 L201.4,385.8 L202.9,386.8 L204.4,387.9 L205.9,389.0 L207.4,390.1 L208.9,391.2 L210.4,392.3 L211.9,393.4 L213.4,394.5 L215.0,395.5 L216.5,396.6 L218.0,397.7 L219.5,398.8 L221.0,399.9 L222.5,400.9 L224.0,402.0 L225.5,403.0 L227.0,404.1 L228.5,405.1 L230.1,406.1 L231.6,407.1 L233.1,408.0 L234.6,409.0 L236.1,410.0 L237.6,410.9 L239.1,411.9 L240.6,412.8 L242.1,413.7 L243.6,414.7 L245.2,415.6 L246.7,416.5 L248.2,417.3 L249.7,418.2 L251.2,419.1 L252.7,419.9 L254.2,420.8 L255.7,421.6 L257.2,422.4 L258.7,423.2 L260.3,424.0 L261.8,424.8 L263.3,425.5 L264.8,426.3 L266.3,427.0 L267.8,427.7 L269.3,428.4 L270.8,429.0 L272.3,429.7 L273.8,430.3 L275.4,430.9 L276.9,431.4 L278.4,432.0 L279.9,432.5 L281.4,433.1 L282.9,433.6 L284.4,434.0 L285.9,434.5 L287.4,435.0 L288.9,435.4 L290.5,435.9 L292.0,436.3 L293.5,436.7 L295.0,437.1 L296.5,437.5 L298.0,437.9 L299.5,438.2 L301.0,438.6 L302.5,438.9 L304.0,439.2 L305.6,439.5 L307.1,439.8 L308.6,440.1 L310.1,440.3 L311.6,440.6 L313.1,440.8 L314.6,441.1 L316.1,441.3 L317.6,441.5 L319.1,441.7 L320.7,441.8 L322.2,442.0 L323.7,442.1 L325.2,442.3 L326.7,442.4 L326.7,560.5 L325.2,557.8 L323.7,555.0 L322.2,552.3 L320.7,549.5 L319.1,546.8 L317.6,544.0 L316.1,541.3 L314.6,538.5 L313.1,535.8 L311.6,533.1 L310.1,530.4 L308.6,527.7 L307.1,525.0 L305.6,522.4 L304.0,519.8 L302.5,517.2 L301.0,514.6 L299.5,512.0 L298.0,509.5 L296.5,507.0 L295.0,504.5 L293.5,502.1 L292.0,499.7 L290.5,497.4 L288.9,495.0 L287.4,492.8 L285.9,490.5 L284.4,488.3 L282.9,486.2 L281.4,484.1 L279.9,482.0 L278.4,480.0 L276.9,478.0 L275.4,476.1 L273.8,474.3 L272.3,472.5 L270.8,470.7 L269.3,469.0 L267.8,467.3 L266.3,465.7 L264.8,464.1 L263.3,462.6 L261.8,461.1 L260.3,459.6 L258.7,458.2 L257.2,456.8 L255.7,455.5 L254.2,454.2 L252.7,452.9 L251.2,451.6 L249.7,450.4 L248.2,449.2 L246.7,448.0 L245.2,446.8 L243.6,445.7 L242.1,444.5 L240.6,443.4 L239.1,442.3 L237.6,441.2 L236.1,440.1 L234.6,439.0 L233.1,437.9 L231.6,436.8 L230.1,435.7 L228.5,434.6 L227.0,433.5 L225.5,432.4 L224.0,431.3 L222.5,430.1 L221.0,429.0 L219.5,427.9 L218.0,426.7 L216.5,425.5 L215.0,424.4 L213.4,423.2 L211.9,422.0 L210.4,420.8 L208.9,419.6 L207.4,418.4 L205.9,417.1 L204.4,415.9 L202.9,414.7 L201.4,413.4 L199.9,412.2 L198.3,411.0 L196.8,409.7 L195.3,408.5 L193.8,407.3 L192.3,406.1 L190.8,404.9 L189.3,403.7 L187.8,402.5 L186.3,401.3 L184.8,400.2 L183.2,399.1 L181.7,398.0 L180.2,396.9 L178.7,395.8 L177.2,394.8 L175.7,393.8 L174.2,392.8 L172.7,391.9 L171.2,391.0 L169.6,390.1 L168.1,389.2 L166.6,388.4 L165.1,387.7 L163.6,386.9 L162.1,386.2 L160.6,385.6 L159.1,385.0 L157.6,384.4 L156.1,383.9 L154.5,383.5 L153.0,383.1 L151.5,382.7 L150.0,382.4 L148.5,382.2 L147.0,382.0 L145.5,381.8 L144.0,381.7 L142.5,381.7 L141.0,381.7 L139.4,381.7 L137.9,381.8 L136.4,381.9 L134.9,382.1 L133.4,382.3 L131.9,382.5 L130.4,382.8 L128.9,383.0 L127.4,383.3 L125.9,383.6 L124.3,384.0 L122.8,384.3 L121.3,384.7 L119.8,385.1 L118.3,385.6 L116.8,386.0 L115.3,386.5 L113.8,387.0 L112.3,387.5 L110.8,388.1 L109.2,388.7 L107.7,389.3 L106.2,390.0 L104.7,390.6 L103.2,391.3 L101.7,392.0 L100.2,392.6 L98.7,393.1 L97.2,393.6 L95.7,394.1 L94.1,394.4 L92.6,394.7 L91.1,394.9 L89.6,395.1 L88.1,395.1 L86.6,395.1 L85.1,395.1 L83.6,395.0 L82.1,394.8 L80.6,394.6 L79.0,394.3 L77.5,393.9 L76.0,393.6 L74.5,393.1 L73.0,392.7 L71.5,392.2 L70.0,391.6 L68.5,391.0 L67.0,390.4 L65.5,389.7 L63.9,389.1 L62.4,388.4 L60.9,387.6 L59.4,386.9 L57.9,386.1 L56.4,385.3 L54.9,384.5 L53.4,383.6 L51.9,382.8 L50.4,382.0 L48.8,381.1 L47.3,380.3 L45.8,379.4 L44.3,378.6 L42.8,377.7Z" fill="#F8766D" fill-opacity="0.4" filter="url(#fb)"/><path d="M42.8,363.1 L44.3,364.2 L45.8,365.2 L47.3,366.1 L48.8,367.0 L50.4,367.9 L51.9,368.7 L53.4,369.5 L54.9,370.2 L56.4,370.9 L57.9,371.6 L59.4,372.2 L60.9,372.8 L62.4,373.4 L63.9,373.9 L65.5,374.4 L67.0,374.9 L68.5,375.3 L70.0,375.7 L71.5,376.1 L73.0,376.4 L74.5,376.8 L76.0,377.0 L77.5,377.3 L79.0,377.5 L80.6,377.7 L82.1,377.9 L83.6,378.0 L85.1,378.2 L86.6,378.3 L88.1,378.3 L89.6,378.4 L91.1,378.4 L92.6,378.5 L94.1,378.5 L95.7,378.4 L97.2,378.4 L98.7,378.3 L100.2,378.2 L101.7,378.1 L103.2,378.0 L104.7,377.9 L106.2,377.8 L107.7,377.6 L109.2,377.5 L110.8,377.3 L112.3,377.1 L113.8,376.9 L115.3,376.7 L116.8,376.5 L118.3,376.2 L119.8,376.0 L121.3,375.7 L122.8,375.5 L124.3,375.3 L125.9,375.0 L127.4,374.8 L128.9,374.5 L130.4,374.3 L131.9,374.1 L133.4,373.9 L134.9,373.7 L136.4,373.5 L137.9,373.4 L139.4,373.3 L141.0,373.2 L142.5,373.2 L144.0,373.1 L145.5,373.2 L147.0,373.2 L148.5,373.3 L150.0,373.5 L151.5,373.7 L153.0,373.9 L154.5,374.2 L156.1,374.5 L157.6,374.9 L159.1,375.3 L160.6,375.8 L162.1,376.3 L163.6,376.8 L165.1,377.4 L166.6,378.0 L168.1,378.6 L169.6,379.3 L171.2,380.0 L172.7,380.8 L174.2,381.6 L175.7,382.4 L177.2,383.2 L178.7,384.1 L180.2,385.0 L181.7,385.9 L183.2,386.8 L184.8,387.8 L186.3,388.8 L187.8,389.8 L189.3,390.8 L190.8,391.9 L192.3,393.0 L193.8,394.0 L195.3,395.1 L196.8,396.2 L198.3,397.4 L199.9,398.5 L201.4,399.6 L202.9,400.8 L204.4,401.9 L205.9,403.1 L207.4,404.2 L208.9,405.4 L210.4,406.5 L211.9,407.7 L213.4,408.8 L215.0,410.0 L216.5,411.1 L218.0,412.2 L219.5,413.3 L221.0,414.5 L222.5,415.5 L224.0,416.6 L225.5,417.7 L227.0,418.8 L228.5,419.8 L230.1,420.9 L231.6,421.9 L233.1,423.0 L234.6,424.0 L236.1,425.0 L237.6,426.1 L239.1,427.1 L240.6,428.1 L242.1,429.1 L243.6,430.2 L245.2,431.2 L246.7,432.2 L248.2,433.3 L249.7,434.3 L251.2,435.3 L252.7,436.4 L254.2,437.5 L255.7,438.5 L257.2,439.6 L258.7,440.7 L260.3,441.8 L261.8,442.9 L263.3,444.0 L264.8,445.2 L266.3,446.3 L267.8,447.5 L269.3,448.7 L270.8,449.9 L272.3,451.1 L273.8,452.3 L275.4,453.5 L276.9,454.7 L278.4,456.0 L279.9,457.3 L281.4,458.6 L282.9,459.9 L284.4,461.2 L285.9,462.5 L287.4,463.9 L288.9,465.2 L290.5,466.6 L292.0,468.0 L293.5,469.4 L295.0,470.8 L296.5,472.2 L298.0,473.7 L299.5,475.1 L301.0,476.6 L302.5,478.0 L304.0,479.5 L305.6,481.0 L307.1,482.4 L308.6,483.9 L310.1,485.4 L311.6,486.8 L313.1,488.3 L314.6,489.8 L316.1,491.3 L317.6,492.7 L319.1,494.2 L320.7,495.7 L322.2,497.1 L323.7,498.6 L325.2,500.0 L326.7,501.5" fill="none" stroke="#4749A8" stroke-width="2.0" stroke-opacity="0.92" stroke-linejoin="round" stroke-linecap="round" filter="url(#fl)"/><path d="M42.8,355.3 L44.3,355.4 L45.8,355.1 L47.3,354.6 L48.9,353.8 L50.4,352.7 L51.9,351.5 L53.4,350.1 L54.9,348.6 L56.4,347.1 L57.9,345.5 L59.4,344.0 L61.0,342.4 L62.5,341.0 L64.0,339.6 L65.5,338.3 L67.0,337.1 L68.5,336.0 L70.0,335.1 L71.6,334.3 L73.1,333.6 L74.6,333.2 L76.1,332.9 L77.6,332.7 L79.1,332.7 L80.6,332.9 L82.2,333.3 L83.7,333.9 L85.2,334.6 L86.7,335.4 L88.2,336.3 L89.7,337.4 L91.2,338.6 L92.7,339.8 L94.3,341.1 L95.8,342.5 L97.3,343.9 L98.8,345.3 L100.3,346.6 L101.8,348.0 L103.3,349.3 L104.9,350.5 L106.4,351.6 L107.9,352.6 L109.4,353.5 L110.9,354.4 L112.4,355.2 L113.9,355.9 L115.5,356.5 L117.0,357.1 L118.5,357.6 L120.0,358.0 L121.5,358.4 L123.0,358.8 L124.5,359.0 L126.0,359.3 L127.6,359.5 L129.1,359.6 L130.6,359.8 L132.1,359.9 L133.6,360.0 L135.1,360.1 L136.6,360.2 L138.2,360.3 L139.7,360.4 L141.2,360.5 L142.7,360.6 L144.2,360.7 L145.7,360.8 L147.2,361.0 L148.8,361.2 L150.3,361.4 L151.8,361.7 L153.3,362.0 L154.8,362.4 L156.3,362.8 L157.8,363.2 L159.3,363.8 L160.9,364.3 L162.4,364.9 L163.9,365.6 L165.4,366.3 L166.9,367.0 L168.4,367.8 L169.9,368.5 L171.5,369.4 L173.0,370.2 L174.5,371.1 L176.0,372.0 L177.5,372.9 L179.0,373.8 L180.5,374.7 L182.1,375.6 L183.6,376.6 L185.1,377.5 L186.6,378.4 L188.1,379.4 L189.6,380.3 L191.1,381.2 L192.6,382.2 L194.2,383.1 L195.7,384.0 L197.2,385.0 L198.7,385.9 L200.2,386.8 L201.7,387.7 L203.2,388.6 L204.8,389.5 L206.3,390.4 L207.8,391.3 L209.3,392.2 L210.8,393.1 L212.3,394.0 L213.8,394.9 L215.3,395.8 L216.9,396.7 L218.4,397.5 L219.9,398.4 L221.4,399.3 L222.9,400.1 L224.4,401.0 L225.9,401.8 L227.5,402.7 L229.0,403.5 L230.5,404.3 L232.0,405.2 L233.5,406.0 L235.0,406.8 L236.5,407.6 L238.1,408.4 L239.6,409.2 L241.1,410.0 L242.6,410.8 L244.1,411.5 L245.6,412.3 L247.1,413.1 L248.6,413.8 L250.2,414.5 L251.7,415.3 L253.2,416.0 L254.7,416.7 L256.2,417.4 L257.7,418.1 L259.2,418.8 L260.8,419.5 L262.3,420.2 L263.8,420.9 L265.3,421.5 L266.8,422.2 L268.3,422.8 L269.8,423.4 L271.4,424.0 L272.9,424.6 L274.4,425.2 L275.9,425.8 L277.4,426.4 L278.9,426.9 L280.4,427.4 L281.9,428.0 L283.5,428.5 L285.0,428.9 L286.5,429.4 L288.0,429.8 L289.5,430.2 L291.0,430.6 L292.5,431.0 L294.1,431.4 L295.6,431.7 L297.1,432.0 L298.6,432.3 L300.1,432.6 L301.6,432.8 L303.1,433.1 L304.7,433.3 L306.2,433.5 L307.7,433.8 L309.2,434.1 L310.7,434.5 L312.2,434.9 L313.7,435.4 L315.2,436.0 L316.8,436.7 L318.3,437.5 L319.8,438.5 L321.3,439.6 L321.3,525.5 L319.8,524.0 L318.3,522.3 L316.8,520.5 L315.2,518.6 L313.7,516.6 L312.2,514.5 L310.7,512.4 L309.2,510.2 L307.7,508.0 L306.2,505.7 L304.7,503.5 L303.1,501.2 L301.6,498.9 L300.1,496.7 L298.6,494.5 L297.1,492.3 L295.6,490.2 L294.1,488.1 L292.5,486.1 L291.0,484.0 L289.5,482.0 L288.0,480.1 L286.5,478.2 L285.0,476.3 L283.5,474.4 L281.9,472.5 L280.4,470.7 L278.9,469.0 L277.4,467.2 L275.9,465.5 L274.4,463.8 L272.9,462.1 L271.4,460.4 L269.8,458.8 L268.3,457.2 L266.8,455.6 L265.3,454.0 L263.8,452.4 L262.3,450.9 L260.8,449.4 L259.2,447.9 L257.7,446.4 L256.2,445.0 L254.7,443.5 L253.2,442.1 L251.7,440.7 L250.2,439.3 L248.6,437.9 L247.1,436.6 L245.6,435.2 L244.1,433.9 L242.6,432.6 L241.1,431.3 L239.6,430.0 L238.1,428.8 L236.5,427.5 L235.0,426.3 L233.5,425.1 L232.0,423.9 L230.5,422.7 L229.0,421.5 L227.5,420.3 L225.9,419.2 L224.4,418.0 L222.9,416.9 L221.4,415.8 L219.9,414.7 L218.4,413.6 L216.9,412.5 L215.3,411.5 L213.8,410.4 L212.3,409.4 L210.8,408.3 L209.3,407.3 L207.8,406.3 L206.3,405.3 L204.8,404.3 L203.2,403.3 L201.7,402.4 L200.2,401.4 L198.7,400.4 L197.2,399.5 L195.7,398.5 L194.2,397.6 L192.6,396.7 L191.1,395.8 L189.6,394.9 L188.1,393.9 L186.6,393.1 L185.1,392.2 L183.6,391.3 L182.1,390.4 L180.5,389.5 L179.0,388.7 L177.5,387.9 L176.0,387.1 L174.5,386.3 L173.0,385.5 L171.5,384.8 L169.9,384.0 L168.4,383.4 L166.9,382.7 L165.4,382.1 L163.9,381.6 L162.4,381.0 L160.9,380.5 L159.3,380.1 L157.8,379.7 L156.3,379.4 L154.8,379.1 L153.3,378.9 L151.8,378.7 L150.3,378.6 L148.8,378.5 L147.2,378.4 L145.7,378.3 L144.2,378.3 L142.7,378.3 L141.2,378.3 L139.7,378.3 L138.2,378.3 L136.6,378.4 L135.1,378.4 L133.6,378.4 L132.1,378.4 L130.6,378.3 L129.1,378.3 L127.6,378.2 L126.0,378.1 L124.5,377.9 L123.0,377.8 L121.5,377.7 L120.0,377.6 L118.5,377.5 L117.0,377.4 L115.5,377.3 L113.9,377.3 L112.4,377.4 L110.9,377.5 L109.4,377.7 L107.9,378.0 L106.4,378.3 L104.9,378.8 L103.3,379.3 L101.8,379.9 L100.3,380.7 L98.8,381.5 L97.3,382.3 L95.8,383.2 L94.3,384.0 L92.7,384.9 L91.2,385.7 L89.7,386.5 L88.2,387.2 L86.7,387.9 L85.2,388.4 L83.7,388.8 L82.2,389.1 L80.6,389.3 L79.1,389.3 L77.6,389.2 L76.1,388.9 L74.6,388.4 L73.1,387.8 L71.6,387.1 L70.0,386.2 L68.5,385.1 L67.0,384.0 L65.5,382.7 L64.0,381.3 L62.5,379.8 L61.0,378.3 L59.4,376.7 L57.9,375.0 L56.4,373.4 L54.9,371.7 L53.4,370.2 L51.9,368.7 L50.4,367.3 L48.9,366.2 L47.3,365.2 L45.8,364.5 L44.3,364.0 L42.8,363.9Z" fill="#00BA38" fill-opacity="0.4" filter="url(#fb)"/><path d="M42.8,359.6 L44.3,359.7 L45.8,359.8 L47.3,359.9 L48.9,360.0 L50.4,360.0 L51.9,360.1 L53.4,360.1 L54.9,360.2 L56.4,360.2 L57.9,360.3 L59.4,360.3 L61.0,360.4 L62.5,360.4 L64.0,360.4 L65.5,360.5 L67.0,360.5 L68.5,360.6 L70.0,360.6 L71.6,360.7 L73.1,360.7 L74.6,360.8 L76.1,360.9 L77.6,360.9 L79.1,361.0 L80.6,361.1 L82.2,361.2 L83.7,361.4 L85.2,361.5 L86.7,361.6 L88.2,361.8 L89.7,362.0 L91.2,362.2 L92.7,362.4 L94.3,362.6 L95.8,362.8 L97.3,363.1 L98.8,363.4 L100.3,363.7 L101.8,364.0 L103.3,364.3 L104.9,364.6 L106.4,364.9 L107.9,365.3 L109.4,365.6 L110.9,366.0 L112.4,366.3 L113.9,366.6 L115.5,366.9 L117.0,367.2 L118.5,367.5 L120.0,367.8 L121.5,368.1 L123.0,368.3 L124.5,368.5 L126.0,368.7 L127.6,368.8 L129.1,369.0 L130.6,369.1 L132.1,369.1 L133.6,369.2 L135.1,369.2 L136.6,369.3 L138.2,369.3 L139.7,369.3 L141.2,369.4 L142.7,369.4 L144.2,369.5 L145.7,369.6 L147.2,369.7 L148.8,369.8 L150.3,370.0 L151.8,370.2 L153.3,370.4 L154.8,370.7 L156.3,371.1 L157.8,371.5 L159.3,371.9 L160.9,372.4 L162.4,373.0 L163.9,373.6 L165.4,374.2 L166.9,374.9 L168.4,375.6 L169.9,376.3 L171.5,377.1 L173.0,377.8 L174.5,378.7 L176.0,379.5 L177.5,380.4 L179.0,381.2 L180.5,382.1 L182.1,383.0 L183.6,383.9 L185.1,384.8 L186.6,385.7 L188.1,386.7 L189.6,387.6 L191.1,388.5 L192.6,389.4 L194.2,390.4 L195.7,391.3 L197.2,392.2 L198.7,393.2 L200.2,394.1 L201.7,395.0 L203.2,396.0 L204.8,396.9 L206.3,397.9 L207.8,398.8 L209.3,399.8 L210.8,400.7 L212.3,401.7 L213.8,402.7 L215.3,403.6 L216.9,404.6 L218.4,405.6 L219.9,406.6 L221.4,407.5 L222.9,408.5 L224.4,409.5 L225.9,410.5 L227.5,411.5 L229.0,412.5 L230.5,413.5 L232.0,414.5 L233.5,415.5 L235.0,416.5 L236.5,417.6 L238.1,418.6 L239.6,419.6 L241.1,420.6 L242.6,421.7 L244.1,422.7 L245.6,423.8 L247.1,424.8 L248.6,425.9 L250.2,426.9 L251.7,428.0 L253.2,429.1 L254.7,430.1 L256.2,431.2 L257.7,432.3 L259.2,433.4 L260.8,434.5 L262.3,435.6 L263.8,436.7 L265.3,437.8 L266.8,438.9 L268.3,440.0 L269.8,441.1 L271.4,442.2 L272.9,443.4 L274.4,444.5 L275.9,445.6 L277.4,446.8 L278.9,447.9 L280.4,449.1 L281.9,450.3 L283.5,451.4 L285.0,452.6 L286.5,453.8 L288.0,455.0 L289.5,456.1 L291.0,457.3 L292.5,458.5 L294.1,459.8 L295.6,461.0 L297.1,462.2 L298.6,463.4 L300.1,464.6 L301.6,465.9 L303.1,467.1 L304.7,468.4 L306.2,469.6 L307.7,470.9 L309.2,472.2 L310.7,473.4 L312.2,474.7 L313.7,476.0 L315.2,477.3 L316.8,478.6 L318.3,479.9 L319.8,481.2 L321.3,482.6" fill="none" stroke="#2F5AB5" stroke-width="2.0" stroke-opacity="0.92" stroke-linejoin="round" stroke-linecap="round" filter="url(#fl)"/><path d="M42.8,348.2 L44.3,348.7 L45.8,349.1 L47.3,349.6 L48.8,350.1 L50.3,350.7 L51.8,351.2 L53.4,351.7 L54.9,352.2 L56.4,352.8 L57.9,353.3 L59.4,353.8 L60.9,354.3 L62.4,354.8 L63.9,355.2 L65.4,355.7 L66.9,356.1 L68.4,356.4 L69.9,356.8 L71.4,357.1 L73.0,357.3 L74.5,357.5 L76.0,357.7 L77.5,357.7 L79.0,357.8 L80.5,357.8 L82.0,357.7 L83.5,357.5 L85.0,357.3 L86.5,357.0 L88.0,356.6 L89.5,356.2 L91.0,355.6 L92.6,355.0 L94.1,354.4 L95.6,353.6 L97.1,352.8 L98.6,351.9 L100.1,350.9 L101.6,349.8 L103.1,348.7 L104.6,347.5 L106.1,346.3 L107.6,345.2 L109.1,344.1 L110.6,343.2 L112.2,342.4 L113.7,341.8 L115.2,341.3 L116.7,341.0 L118.2,340.9 L119.7,340.8 L121.2,340.9 L122.7,341.1 L124.2,341.3 L125.7,341.6 L127.2,341.9 L128.7,342.3 L130.3,342.7 L131.8,343.0 L133.3,343.4 L134.8,343.7 L136.3,344.0 L137.8,344.3 L139.3,344.5 L140.8,344.8 L142.3,345.0 L143.8,345.3 L145.3,345.7 L146.8,346.0 L148.3,346.5 L149.9,346.9 L151.4,347.5 L152.9,348.1 L154.4,348.8 L155.9,349.5 L157.4,350.3 L158.9,351.2 L160.4,352.0 L161.9,352.9 L163.4,353.9 L164.9,354.8 L166.4,355.8 L167.9,356.8 L169.5,357.8 L171.0,358.8 L172.5,359.8 L174.0,360.8 L175.5,361.8 L177.0,362.8 L178.5,363.7 L180.0,364.6 L181.5,365.5 L183.0,366.4 L184.5,367.3 L186.0,368.1 L187.5,368.9 L189.1,369.7 L190.6,370.5 L192.1,371.3 L193.6,372.0 L195.1,372.8 L196.6,373.5 L198.1,374.2 L199.6,374.9 L201.1,375.5 L202.6,376.2 L204.1,376.8 L205.6,377.4 L207.1,378.0 L208.7,378.6 L210.2,379.2 L211.7,379.8 L213.2,380.4 L214.7,380.9 L216.2,381.5 L217.7,382.0 L219.2,382.5 L220.7,383.0 L222.2,383.5 L223.7,384.0 L225.2,384.5 L226.7,385.0 L228.3,385.4 L229.8,385.9 L231.3,386.4 L232.8,386.8 L234.3,387.2 L235.8,387.7 L237.3,388.1 L238.8,388.5 L240.3,388.9 L241.8,389.3 L243.3,389.7 L244.8,390.1 L246.3,390.5 L247.9,390.9 L249.4,391.2 L250.9,391.6 L252.4,391.9 L253.9,392.2 L255.4,392.6 L256.9,392.9 L258.4,393.2 L259.9,393.4 L261.4,393.7 L262.9,394.0 L264.4,394.2 L265.9,394.5 L267.5,394.7 L269.0,394.9 L270.5,395.1 L272.0,395.3 L273.5,395.5 L275.0,395.6 L276.5,395.8 L278.0,395.9 L279.5,396.0 L281.0,396.1 L282.5,396.2 L284.0,396.3 L285.5,396.3 L287.1,396.4 L288.6,396.4 L290.1,396.4 L291.6,396.4 L293.1,396.4 L294.6,396.4 L296.1,396.3 L297.6,396.2 L299.1,396.2 L300.6,396.1 L302.1,395.9 L303.6,395.8 L305.2,395.6 L306.7,395.5 L308.2,395.3 L309.7,395.1 L311.2,394.9 L312.7,394.6 L314.2,394.4 L315.7,394.1 L317.2,393.8 L318.7,393.5 L320.2,393.1 L321.7,392.8 L323.2,392.4 L324.8,392.0 L326.3,391.6 L327.8,391.1 L329.3,390.7 L330.8,390.2 L332.3,389.7 L333.8,389.2 L335.3,388.6 L336.8,388.1 L338.3,387.5 L339.8,386.9 L341.3,386.2 L342.8,385.6 L344.4,384.9 L345.9,384.2 L347.4,383.5 L348.9,382.8 L350.4,382.0 L351.9,381.2 L353.4,380.4 L354.9,379.6 L356.4,378.7 L357.9,377.8 L359.4,376.9 L360.9,376.0 L362.4,375.0 L364.0,374.0 L365.5,373.0 L367.0,372.0 L368.5,370.9 L370.0,369.9 L371.5,368.7 L373.0,367.6 L373.0,511.6 L371.5,510.2 L370.0,508.8 L368.5,507.3 L367.0,505.9 L365.5,504.6 L364.0,503.2 L362.4,501.9 L360.9,500.5 L359.4,499.2 L357.9,497.9 L356.4,496.6 L354.9,495.3 L353.4,494.1 L351.9,492.9 L350.4,491.6 L348.9,490.4 L347.4,489.2 L345.9,488.0 L344.4,486.9 L342.8,485.7 L341.3,484.6 L339.8,483.4 L338.3,482.3 L336.8,481.2 L335.3,480.1 L333.8,479.0 L332.3,477.9 L330.8,476.9 L329.3,475.8 L327.8,474.8 L326.3,473.7 L324.8,472.7 L323.2,471.7 L321.7,470.7 L320.2,469.7 L318.7,468.7 L317.2,467.8 L315.7,466.8 L314.2,465.8 L312.7,464.9 L311.2,463.9 L309.7,463.0 L308.2,462.1 L306.7,461.2 L305.2,460.3 L303.6,459.3 L302.1,458.4 L300.6,457.5 L299.1,456.7 L297.6,455.8 L296.1,454.9 L294.6,454.0 L293.1,453.2 L291.6,452.3 L290.1,451.4 L288.6,450.6 L287.1,449.7 L285.5,448.9 L284.0,448.0 L282.5,447.2 L281.0,446.4 L279.5,445.5 L278.0,444.7 L276.5,443.9 L275.0,443.0 L273.5,442.2 L272.0,441.4 L270.5,440.5 L269.0,439.7 L267.5,438.9 L265.9,438.1 L264.4,437.3 L262.9,436.4 L261.4,435.6 L259.9,434.8 L258.4,433.9 L256.9,433.1 L255.4,432.3 L253.9,431.5 L252.4,430.6 L250.9,429.8 L249.4,428.9 L247.9,428.1 L246.3,427.3 L244.8,426.4 L243.3,425.5 L241.8,424.7 L240.3,423.8 L238.8,422.9 L237.3,422.1 L235.8,421.2 L234.3,420.3 L232.8,419.4 L231.3,418.5 L229.8,417.6 L228.3,416.7 L226.7,415.7 L225.2,414.8 L223.7,413.9 L222.2,412.9 L220.7,412.0 L219.2,411.0 L217.7,410.1 L216.2,409.1 L214.7,408.1 L213.2,407.2 L211.7,406.2 L210.2,405.2 L208.7,404.2 L207.1,403.3 L205.6,402.3 L204.1,401.3 L202.6,400.3 L201.1,399.3 L199.6,398.3 L198.1,397.3 L196.6,396.4 L195.1,395.4 L193.6,394.4 L192.1,393.4 L190.6,392.4 L189.1,391.5 L187.5,390.5 L186.0,389.5 L184.5,388.5 L183.0,387.6 L181.5,386.6 L180.0,385.7 L178.5,384.7 L177.0,383.8 L175.5,382.8 L174.0,381.9 L172.5,381.0 L171.0,380.1 L169.5,379.2 L167.9,378.3 L166.4,377.5 L164.9,376.7 L163.4,375.9 L161.9,375.2 L160.4,374.5 L158.9,373.8 L157.4,373.2 L155.9,372.7 L154.4,372.2 L152.9,371.7 L151.4,371.3 L149.9,371.0 L148.3,370.7 L146.8,370.5 L145.3,370.4 L143.8,370.2 L142.3,370.1 L140.8,370.0 L139.3,369.9 L137.8,369.8 L136.3,369.7 L134.8,369.6 L133.3,369.5 L131.8,369.4 L130.3,369.3 L128.7,369.2 L127.2,369.1 L125.7,369.2 L124.2,369.3 L122.7,369.5 L121.2,369.9 L119.7,370.3 L118.2,370.9 L116.7,371.7 L115.2,372.6 L113.7,373.7 L112.2,374.9 L110.6,376.4 L109.1,378.0 L107.6,379.8 L106.1,381.6 L104.6,383.5 L103.1,385.4 L101.6,387.2 L100.1,388.9 L98.6,390.5 L97.1,392.0 L95.6,393.4 L94.1,394.6 L92.6,395.8 L91.0,396.8 L89.5,397.7 L88.0,398.4 L86.5,399.0 L85.0,399.4 L83.5,399.7 L82.0,399.8 L80.5,399.8 L79.0,399.6 L77.5,399.2 L76.0,398.7 L74.5,398.1 L73.0,397.4 L71.4,396.5 L69.9,395.5 L68.4,394.5 L66.9,393.4 L65.4,392.1 L63.9,390.8 L62.4,389.5 L60.9,388.1 L59.4,386.7 L57.9,385.2 L56.4,383.7 L54.9,382.2 L53.4,380.7 L51.8,379.2 L50.3,377.7 L48.8,376.2 L47.3,374.7 L45.8,373.3 L44.3,371.9 L42.8,370.6Z" fill="#619CFF" fill-opacity="0.4" filter="url(#fb)"/><path d="M42.8,359.4 L44.3,360.3 L45.8,361.2 L47.3,362.2 L48.8,363.2 L50.3,364.2 L51.8,365.2 L53.4,366.2 L54.9,367.2 L56.4,368.2 L57.9,369.2 L59.4,370.2 L60.9,371.2 L62.4,372.1 L63.9,373.0 L65.4,373.9 L66.9,374.7 L68.4,375.5 L69.9,376.2 L71.4,376.8 L73.0,377.3 L74.5,377.8 L76.0,378.2 L77.5,378.5 L79.0,378.7 L80.5,378.8 L82.0,378.7 L83.5,378.6 L85.0,378.3 L86.5,378.0 L88.0,377.5 L89.5,376.9 L91.0,376.2 L92.6,375.4 L94.1,374.5 L95.6,373.5 L97.1,372.4 L98.6,371.2 L100.1,369.9 L101.6,368.5 L103.1,367.0 L104.6,365.5 L106.1,364.0 L107.6,362.5 L109.1,361.1 L110.6,359.8 L112.2,358.6 L113.7,357.7 L115.2,356.9 L116.7,356.3 L118.2,355.9 L119.7,355.6 L121.2,355.4 L122.7,355.3 L124.2,355.3 L125.7,355.4 L127.2,355.5 L128.7,355.7 L130.3,356.0 L131.8,356.2 L133.3,356.4 L134.8,356.7 L136.3,356.9 L137.8,357.1 L139.3,357.2 L140.8,357.4 L142.3,357.6 L143.8,357.8 L145.3,358.0 L146.8,358.3 L148.3,358.6 L149.9,359.0 L151.4,359.4 L152.9,359.9 L154.4,360.5 L155.9,361.1 L157.4,361.8 L158.9,362.5 L160.4,363.3 L161.9,364.1 L163.4,364.9 L164.9,365.8 L166.4,366.7 L167.9,367.6 L169.5,368.5 L171.0,369.4 L172.5,370.4 L174.0,371.4 L175.5,372.3 L177.0,373.3 L178.5,374.2 L180.0,375.1 L181.5,376.1 L183.0,377.0 L184.5,377.9 L186.0,378.8 L187.5,379.7 L189.1,380.6 L190.6,381.5 L192.1,382.3 L193.6,383.2 L195.1,384.1 L196.6,384.9 L198.1,385.8 L199.6,386.6 L201.1,387.4 L202.6,388.2 L204.1,389.1 L205.6,389.9 L207.1,390.7 L208.7,391.4 L210.2,392.2 L211.7,393.0 L213.2,393.8 L214.7,394.5 L216.2,395.3 L217.7,396.0 L219.2,396.8 L220.7,397.5 L222.2,398.2 L223.7,398.9 L225.2,399.7 L226.7,400.4 L228.3,401.1 L229.8,401.7 L231.3,402.4 L232.8,403.1 L234.3,403.8 L235.8,404.4 L237.3,405.1 L238.8,405.7 L240.3,406.4 L241.8,407.0 L243.3,407.6 L244.8,408.3 L246.3,408.9 L247.9,409.5 L249.4,410.1 L250.9,410.7 L252.4,411.3 L253.9,411.9 L255.4,412.4 L256.9,413.0 L258.4,413.6 L259.9,414.1 L261.4,414.7 L262.9,415.2 L264.4,415.7 L265.9,416.3 L267.5,416.8 L269.0,417.3 L270.5,417.8 L272.0,418.3 L273.5,418.8 L275.0,419.3 L276.5,419.8 L278.0,420.3 L279.5,420.8 L281.0,421.2 L282.5,421.7 L284.0,422.2 L285.5,422.6 L287.1,423.1 L288.6,423.5 L290.1,423.9 L291.6,424.4 L293.1,424.8 L294.6,425.2 L296.1,425.6 L297.6,426.0 L299.1,426.4 L300.6,426.8 L302.1,427.2 L303.6,427.6 L305.2,427.9 L306.7,428.3 L308.2,428.7 L309.7,429.0 L311.2,429.4 L312.7,429.8 L314.2,430.1 L315.7,430.4 L317.2,430.8 L318.7,431.1 L320.2,431.4 L321.7,431.7 L323.2,432.0 L324.8,432.4 L326.3,432.7 L327.8,433.0 L329.3,433.2 L330.8,433.5 L332.3,433.8 L333.8,434.1 L335.3,434.4 L336.8,434.6 L338.3,434.9 L339.8,435.1 L341.3,435.4 L342.8,435.6 L344.4,435.9 L345.9,436.1 L347.4,436.4 L348.9,436.6 L350.4,436.8 L351.9,437.0 L353.4,437.2 L354.9,437.5 L356.4,437.7 L357.9,437.9 L359.4,438.1 L360.9,438.2 L362.4,438.4 L364.0,438.6 L365.5,438.8 L367.0,439.0 L368.5,439.1 L370.0,439.3 L371.5,439.5 L373.0,439.6" fill="none" stroke="#3453C4" stroke-width="2.0" stroke-opacity="0.92" stroke-linejoin="round" stroke-linecap="round" filter="url(#fl)"/></g><g filter="url(#ft)"><line x1="104.4" y1="574.9" x2="104.4" y2="577.1" stroke="#333" stroke-width="0.8"/><text x="104.4" y="583.3" font-size="6.8" fill="#4D4D4D" text-anchor="middle">0</text><line x1="184.2" y1="574.9" x2="184.2" y2="577.1" stroke="#333" stroke-width="0.8"/><text x="184.2" y="583.3" font-size="6.8" fill="#4D4D4D" text-anchor="middle">1</text><line x1="264" y1="574.9" x2="264" y2="577.1" stroke="#333" stroke-width="0.8"/><text x="264" y="583.3" font-size="6.8" fill="#4D4D4D" text-anchor="middle">2</text><line x1="343.8" y1="574.9" x2="343.8" y2="577.1" stroke="#333" stroke-width="0.8"/><text x="343.8" y="583.3" font-size="6.8" fill="#4D4D4D" text-anchor="middle">3</text><line x1="23.9" y1="530.3" x2="26.1" y2="530.3" stroke="#333" stroke-width="0.8"/><text x="22.7" y="532.8" font-size="6.8" fill="#4D4D4D" text-anchor="end">-3</text><line x1="23.9" y1="478.2" x2="26.1" y2="478.2" stroke="#333" stroke-width="0.8"/><text x="22.7" y="480.7" font-size="6.8" fill="#4D4D4D" text-anchor="end">-2</text><line x1="23.9" y1="426.1" x2="26.1" y2="426.1" stroke="#333" stroke-width="0.8"/><text x="22.7" y="428.6" font-size="6.8" fill="#4D4D4D" text-anchor="end">-1</text><line x1="23.9" y1="374" x2="26.1" y2="374" stroke="#333" stroke-width="0.8"/><text x="22.7" y="376.5" font-size="6.8" fill="#4D4D4D" text-anchor="end">0</text><line x1="23.9" y1="321.9" x2="26.1" y2="321.9" stroke="#333" stroke-width="0.8"/><text x="22.7" y="324.4" font-size="6.8" fill="#4D4D4D" text-anchor="end">1</text><text x="208.3" y="594" font-size="9.1" textLength="97" lengthAdjust="spacingAndGlyphs" fill="#000" stroke="#000" stroke-width="0.3" text-anchor="middle">Maternal Hydroxycotinine</text><text transform="translate(11.3,447.5) rotate(-90)" font-size="8.6" fill="#000" stroke="#000" stroke-width="0.3" text-anchor="middle">AHRR</text><text x="4.8" y="328" font-size="11.5" font-weight="bold" fill="#000">C</text><text x="134.8" y="618" font-size="7.8" textLength="58.3" lengthAdjust="spacingAndGlyphs" fill="#000" stroke="#000" stroke-width="0.25">Vitamin B6 Status</text><rect x="195" y="608.8" width="13" height="12.8" fill="#F2F2F2"/><line x1="195.8" y1="615.2" x2="207.2" y2="615.2" stroke="#3352CC" stroke-width="2.2"/><rect x="195" y="608.8" width="13" height="12.8" fill="#F8766D" fill-opacity="0.4"/><text x="211.4" y="617.3" font-size="5.8" textLength="7.3" lengthAdjust="spacingAndGlyphs" fill="#222" stroke="#222" stroke-width="0.15">Q1</text><rect x="223.3" y="608.8" width="13" height="12.8" fill="#F2F2F2"/><line x1="224.1" y1="615.2" x2="235.5" y2="615.2" stroke="#3352CC" stroke-width="2.2"/><rect x="223.3" y="608.8" width="13" height="12.8" fill="#00BA38" fill-opacity="0.4"/><text x="239.7" y="617.3" font-size="5.8" textLength="12.2" lengthAdjust="spacingAndGlyphs" fill="#222" stroke="#222" stroke-width="0.15">Q2-3</text><rect x="257.5" y="608.8" width="13" height="12.8" fill="#F2F2F2"/><line x1="258.3" y1="615.2" x2="269.7" y2="615.2" stroke="#3352CC" stroke-width="2.2"/><rect x="257.5" y="608.8" width="13" height="12.8" fill="#619CFF" fill-opacity="0.4"/><text x="273.9" y="617.3" font-size="5.8" textLength="7.3" lengthAdjust="spacingAndGlyphs" fill="#222" stroke="#222" stroke-width="0.15">Q4</text></g></g>
<clipPath id="clipD"><rect x="419.4" y="320.2" width="364.4" height="254.7"/></clipPath>
<g><g filter="url(#fb)"><rect x="419.4" y="320.2" width="364.4" height="254.7" fill="#EBEBEB"/><line x1="457.8" y1="320.2" x2="457.8" y2="574.9" stroke="#F3F3F3" stroke-width="1.0"/><line x1="537.6" y1="320.2" x2="537.6" y2="574.9" stroke="#F3F3F3" stroke-width="1.0"/><line x1="617.4" y1="320.2" x2="617.4" y2="574.9" stroke="#F3F3F3" stroke-width="1.0"/><line x1="697.2" y1="320.2" x2="697.2" y2="574.9" stroke="#F3F3F3" stroke-width="1.0"/><line x1="777" y1="320.2" x2="777" y2="574.9" stroke="#F3F3F3" stroke-width="1.0"/><line x1="419.4" y1="555.7" x2="783.8" y2="555.7" stroke="#F3F3F3" stroke-width="1.0"/><line x1="419.4" y1="508.9" x2="783.8" y2="508.9" stroke="#F3F3F3" stroke-width="1.0"/><line x1="419.4" y1="462.1" x2="783.8" y2="462.1" stroke="#F3F3F3" stroke-width="1.0"/><line x1="419.4" y1="415.3" x2="783.8" y2="415.3" stroke="#F3F3F3" stroke-width="1.0"/><line x1="419.4" y1="368.5" x2="783.8" y2="368.5" stroke="#F3F3F3" stroke-width="1.0"/><line x1="419.4" y1="321.7" x2="783.8" y2="321.7" stroke="#F3F3F3" stroke-width="1.0"/><line x1="497.7" y1="320.2" x2="497.7" y2="574.9" stroke="#FFFFFF" stroke-width="1.4"/><line x1="577.5" y1="320.2" x2="577.5" y2="574.9" stroke="#FFFFFF" stroke-width="1.4"/><line x1="657.3" y1="320.2" x2="657.3" y2="574.9" stroke="#FFFFFF" stroke-width="1.4"/><line x1="737.1" y1="320.2" x2="737.1" y2="574.9" stroke="#FFFFFF" stroke-width="1.4"/><line x1="419.4" y1="532.3" x2="783.8" y2="532.3" stroke="#FFFFFF" stroke-width="1.4"/><line x1="419.4" y1="485.5" x2="783.8" y2="485.5" stroke="#FFFFFF" stroke-width="1.4"/><line x1="419.4" y1="438.7" x2="783.8" y2="438.7" stroke="#FFFFFF" stroke-width="1.4"/><line x1="419.4" y1="391.9" x2="783.8" y2="391.9" stroke="#FFFFFF" stroke-width="1.4"/><line x1="419.4" y1="345.1" x2="783.8" y2="345.1" stroke="#FFFFFF" stroke-width="1.4"/></g><g clip-path="url(#clipD)"><path d="M436.6,377.5 L438.1,377.3 L439.6,377.2 L441.1,377.0 L442.7,376.9 L444.2,376.8 L445.7,376.8 L447.2,376.7 L448.7,376.7 L450.2,376.7 L451.7,376.7 L453.2,376.7 L454.8,376.8 L456.3,376.8 L457.8,376.9 L459.3,376.9 L460.8,377.0 L462.3,377.0 L463.8,377.1 L465.4,377.2 L466.9,377.2 L468.4,377.3 L469.9,377.3 L471.4,377.4 L472.9,377.4 L474.4,377.4 L475.9,377.4 L477.5,377.4 L479.0,377.3 L480.5,377.3 L482.0,377.2 L483.5,377.1 L485.0,377.0 L486.5,376.9 L488.1,376.7 L489.6,376.5 L491.1,376.2 L492.6,376.0 L494.1,375.7 L495.6,375.4 L497.1,375.1 L498.6,374.9 L500.2,374.6 L501.7,374.3 L503.2,374.0 L504.7,373.7 L506.2,373.4 L507.7,373.2 L509.2,373.0 L510.8,372.8 L512.3,372.6 L513.8,372.5 L515.3,372.4 L516.8,372.3 L518.3,372.3 L519.8,372.3 L521.3,372.3 L522.9,372.4 L524.4,372.4 L525.9,372.6 L527.4,372.7 L528.9,372.9 L530.4,373.1 L531.9,373.3 L533.5,373.5 L535.0,373.8 L536.5,374.1 L538.0,374.4 L539.5,374.8 L541.0,375.2 L542.5,375.6 L544.0,376.0 L545.6,376.4 L547.1,376.9 L548.6,377.4 L550.1,377.9 L551.6,378.5 L553.1,379.0 L554.6,379.6 L556.2,380.2 L557.7,380.8 L559.2,381.5 L560.7,382.1 L562.2,382.8 L563.7,383.5 L565.2,384.2 L566.7,385.0 L568.3,385.7 L569.8,386.5 L571.3,387.3 L572.8,388.1 L574.3,388.9 L575.8,389.7 L577.3,390.6 L578.9,391.5 L580.4,392.4 L581.9,393.3 L583.4,394.2 L584.9,395.1 L586.4,396.0 L587.9,397.0 L589.4,398.0 L591.0,399.0 L592.5,400.0 L594.0,401.0 L595.5,402.0 L597.0,403.1 L598.5,404.1 L600.0,405.2 L601.5,406.2 L603.1,407.3 L604.6,408.4 L606.1,409.5 L607.6,410.7 L609.1,411.8 L610.6,412.9 L612.1,414.1 L613.7,415.3 L615.2,416.4 L616.7,417.6 L618.2,418.8 L619.7,420.0 L621.2,421.2 L622.7,422.3 L624.2,423.5 L625.8,424.7 L627.3,425.9 L628.8,427.1 L630.3,428.3 L631.8,429.5 L633.3,430.7 L634.8,431.9 L636.4,433.1 L637.9,434.3 L639.4,435.5 L640.9,436.7 L642.4,437.9 L643.9,439.0 L645.4,440.2 L646.9,441.3 L648.5,442.5 L650.0,443.6 L651.5,444.7 L653.0,445.7 L654.5,446.8 L656.0,447.8 L657.5,448.7 L659.1,449.7 L660.6,450.5 L662.1,451.4 L663.6,452.2 L665.1,452.9 L666.6,453.6 L668.1,454.2 L669.6,454.8 L671.2,455.4 L672.7,455.8 L674.2,456.3 L675.7,456.6 L677.2,457.0 L678.7,457.2 L680.2,457.5 L681.8,457.6 L683.3,457.8 L684.8,457.9 L686.3,457.9 L687.8,457.9 L689.3,457.9 L690.8,457.8 L692.3,457.7 L693.9,457.5 L695.4,457.4 L696.9,457.2 L698.4,457.0 L699.9,456.8 L701.4,456.5 L702.9,456.3 L704.5,456.1 L706.0,455.9 L707.5,455.6 L709.0,455.5 L710.5,455.3 L712.0,455.1 L713.5,455.0 L715.0,454.9 L716.6,454.8 L718.1,454.8 L719.6,454.9 L721.1,454.9 L721.1,561.7 L719.6,559.6 L718.1,557.5 L716.6,555.4 L715.0,553.1 L713.5,550.8 L712.0,548.5 L710.5,546.1 L709.0,543.7 L707.5,541.2 L706.0,538.7 L704.5,536.1 L702.9,533.6 L701.4,531.0 L699.9,528.4 L698.4,525.8 L696.9,523.2 L695.4,520.6 L693.9,518.0 L692.3,515.4 L690.8,512.8 L689.3,510.3 L687.8,507.8 L686.3,505.3 L684.8,502.8 L683.3,500.4 L681.8,498.0 L680.2,495.7 L678.7,493.4 L677.2,491.1 L675.7,488.9 L674.2,486.7 L672.7,484.6 L671.2,482.5 L669.6,480.4 L668.1,478.5 L666.6,476.5 L665.1,474.6 L663.6,472.8 L662.1,471.0 L660.6,469.3 L659.1,467.6 L657.5,465.9 L656.0,464.3 L654.5,462.8 L653.0,461.2 L651.5,459.7 L650.0,458.2 L648.5,456.8 L646.9,455.4 L645.4,454.0 L643.9,452.6 L642.4,451.2 L640.9,449.9 L639.4,448.5 L637.9,447.2 L636.4,445.9 L634.8,444.6 L633.3,443.3 L631.8,442.1 L630.3,440.8 L628.8,439.6 L627.3,438.4 L625.8,437.1 L624.2,435.9 L622.7,434.8 L621.2,433.6 L619.7,432.4 L618.2,431.3 L616.7,430.2 L615.2,429.0 L613.7,427.9 L612.1,426.8 L610.6,425.7 L609.1,424.7 L607.6,423.6 L606.1,422.6 L604.6,421.5 L603.1,420.5 L601.5,419.5 L600.0,418.5 L598.5,417.5 L597.0,416.6 L595.5,415.6 L594.0,414.7 L592.5,413.7 L591.0,412.8 L589.4,411.9 L587.9,411.1 L586.4,410.2 L584.9,409.4 L583.4,408.5 L581.9,407.7 L580.4,406.9 L578.9,406.2 L577.3,405.4 L575.8,404.7 L574.3,404.0 L572.8,403.3 L571.3,402.6 L569.8,401.9 L568.3,401.3 L566.7,400.7 L565.2,400.1 L563.7,399.6 L562.2,399.0 L560.7,398.5 L559.2,398.0 L557.7,397.5 L556.2,397.1 L554.6,396.7 L553.1,396.3 L551.6,395.9 L550.1,395.5 L548.6,395.2 L547.1,394.9 L545.6,394.7 L544.0,394.5 L542.5,394.3 L541.0,394.1 L539.5,393.9 L538.0,393.8 L536.5,393.8 L535.0,393.7 L533.5,393.7 L531.9,393.7 L530.4,393.8 L528.9,393.9 L527.4,394.0 L525.9,394.1 L524.4,394.3 L522.9,394.5 L521.3,394.8 L519.8,395.1 L518.3,395.4 L516.8,395.8 L515.3,396.2 L513.8,396.7 L512.3,397.1 L510.8,397.7 L509.2,398.2 L507.7,398.8 L506.2,399.4 L504.7,400.0 L503.2,400.6 L501.7,401.2 L500.2,401.9 L498.6,402.5 L497.1,403.1 L495.6,403.7 L494.1,404.3 L492.6,404.8 L491.1,405.3 L489.6,405.8 L488.1,406.3 L486.5,406.7 L485.0,407.0 L483.5,407.3 L482.0,407.6 L480.5,407.8 L479.0,408.0 L477.5,408.1 L475.9,408.2 L474.4,408.2 L472.9,408.2 L471.4,408.2 L469.9,408.1 L468.4,408.0 L466.9,407.9 L465.4,407.7 L463.8,407.4 L462.3,407.2 L460.8,406.9 L459.3,406.5 L457.8,406.1 L456.3,405.7 L454.8,405.3 L453.2,404.8 L451.7,404.3 L450.2,403.7 L448.7,403.2 L447.2,402.6 L445.7,401.9 L444.2,401.3 L442.7,400.6 L441.1,399.9 L439.6,399.1 L438.1,398.3 L436.6,397.5Z" fill="#F8766D" fill-opacity="0.4" filter="url(#fb)"/><path d="M436.6,387.5 L438.1,387.8 L439.6,388.1 L441.1,388.4 L442.7,388.8 L444.2,389.1 L445.7,389.4 L447.2,389.7 L448.7,389.9 L450.2,390.2 L451.7,390.5 L453.2,390.8 L454.8,391.0 L456.3,391.3 L457.8,391.5 L459.3,391.7 L460.8,391.9 L462.3,392.1 L463.8,392.3 L465.4,392.4 L466.9,392.5 L468.4,392.6 L469.9,392.7 L471.4,392.8 L472.9,392.8 L474.4,392.8 L475.9,392.8 L477.5,392.7 L479.0,392.7 L480.5,392.6 L482.0,392.4 L483.5,392.2 L485.0,392.0 L486.5,391.8 L488.1,391.5 L489.6,391.1 L491.1,390.8 L492.6,390.4 L494.1,390.0 L495.6,389.6 L497.1,389.1 L498.6,388.7 L500.2,388.2 L501.7,387.8 L503.2,387.3 L504.7,386.8 L506.2,386.4 L507.7,386.0 L509.2,385.6 L510.8,385.2 L512.3,384.9 L513.8,384.6 L515.3,384.3 L516.8,384.1 L518.3,383.9 L519.8,383.7 L521.3,383.6 L522.9,383.5 L524.4,383.4 L525.9,383.3 L527.4,383.3 L528.9,383.4 L530.4,383.4 L531.9,383.5 L533.5,383.6 L535.0,383.8 L536.5,383.9 L538.0,384.1 L539.5,384.4 L541.0,384.6 L542.5,384.9 L544.0,385.2 L545.6,385.6 L547.1,385.9 L548.6,386.3 L550.1,386.7 L551.6,387.2 L553.1,387.6 L554.6,388.1 L556.2,388.6 L557.7,389.2 L559.2,389.7 L560.7,390.3 L562.2,390.9 L563.7,391.5 L565.2,392.2 L566.7,392.8 L568.3,393.5 L569.8,394.2 L571.3,394.9 L572.8,395.7 L574.3,396.4 L575.8,397.2 L577.3,398.0 L578.9,398.8 L580.4,399.6 L581.9,400.5 L583.4,401.4 L584.9,402.2 L586.4,403.1 L587.9,404.0 L589.4,405.0 L591.0,405.9 L592.5,406.9 L594.0,407.8 L595.5,408.8 L597.0,409.8 L598.5,410.8 L600.0,411.8 L601.5,412.9 L603.1,413.9 L604.6,415.0 L606.1,416.1 L607.6,417.1 L609.1,418.2 L610.6,419.3 L612.1,420.5 L613.7,421.6 L615.2,422.7 L616.7,423.9 L618.2,425.0 L619.7,426.2 L621.2,427.4 L622.7,428.6 L624.2,429.7 L625.8,430.9 L627.3,432.1 L628.8,433.4 L630.3,434.6 L631.8,435.8 L633.3,437.0 L634.8,438.3 L636.4,439.5 L637.9,440.8 L639.4,442.0 L640.9,443.3 L642.4,444.5 L643.9,445.8 L645.4,447.1 L646.9,448.4 L648.5,449.6 L650.0,450.9 L651.5,452.2 L653.0,453.5 L654.5,454.8 L656.0,456.0 L657.5,457.3 L659.1,458.6 L660.6,459.9 L662.1,461.2 L663.6,462.5 L665.1,463.8 L666.6,465.1 L668.1,466.4 L669.6,467.6 L671.2,468.9 L672.7,470.2 L674.2,471.5 L675.7,472.8 L677.2,474.0 L678.7,475.3 L680.2,476.6 L681.8,477.8 L683.3,479.1 L684.8,480.4 L686.3,481.6 L687.8,482.8 L689.3,484.1 L690.8,485.3 L692.3,486.5 L693.9,487.8 L695.4,489.0 L696.9,490.2 L698.4,491.4 L699.9,492.6 L701.4,493.8 L702.9,494.9 L704.5,496.1 L706.0,497.3 L707.5,498.4 L709.0,499.6 L710.5,500.7 L712.0,501.8 L713.5,502.9 L715.0,504.0 L716.6,505.1 L718.1,506.2 L719.6,507.2 L721.1,508.3" fill="none" stroke="#4749A8" stroke-width="2.0" stroke-opacity="0.92" stroke-linejoin="round" stroke-linecap="round" filter="url(#fl)"/><path d="M436.6,372.8 L438.1,370.7 L439.6,368.6 L441.1,366.4 L442.6,364.2 L444.1,361.9 L445.7,359.6 L447.2,357.3 L448.7,355.1 L450.2,352.8 L451.7,350.6 L453.2,348.5 L454.7,346.4 L456.2,344.4 L457.7,342.4 L459.2,340.6 L460.7,338.9 L462.3,337.3 L463.8,335.8 L465.3,334.5 L466.8,333.4 L468.3,332.5 L469.8,331.8 L471.3,331.4 L472.8,331.2 L474.3,331.3 L475.8,331.7 L477.3,332.4 L478.9,333.5 L480.4,334.9 L481.9,336.7 L483.4,338.8 L484.9,341.3 L486.4,344.0 L487.9,347.1 L489.4,350.4 L490.9,353.9 L492.4,357.5 L494.0,361.0 L495.5,364.3 L497.0,367.4 L498.5,370.1 L500.0,372.6 L501.5,374.8 L503.0,376.8 L504.5,378.6 L506.0,380.2 L507.5,381.5 L509.0,382.8 L510.6,383.8 L512.1,384.8 L513.6,385.6 L515.1,386.4 L516.6,387.0 L518.1,387.5 L519.6,388.0 L521.1,388.3 L522.6,388.6 L524.1,388.8 L525.6,388.9 L527.2,389.0 L528.7,389.0 L530.2,388.9 L531.7,388.8 L533.2,388.6 L534.7,388.5 L536.2,388.3 L537.7,388.1 L539.2,387.9 L540.7,387.7 L542.2,387.5 L543.8,387.3 L545.3,387.2 L546.8,387.0 L548.3,387.0 L549.8,386.9 L551.3,386.9 L552.8,386.9 L554.3,387.0 L555.8,387.1 L557.3,387.2 L558.8,387.3 L560.4,387.5 L561.9,387.7 L563.4,387.9 L564.9,388.2 L566.4,388.4 L567.9,388.7 L569.4,389.0 L570.9,389.4 L572.4,389.7 L573.9,390.1 L575.5,390.5 L577.0,390.9 L578.5,391.4 L580.0,391.8 L581.5,392.3 L583.0,392.8 L584.5,393.3 L586.0,393.8 L587.5,394.3 L589.0,394.9 L590.5,395.4 L592.1,396.0 L593.6,396.5 L595.1,397.1 L596.6,397.7 L598.1,398.3 L599.6,398.9 L601.1,399.5 L602.6,400.1 L604.1,400.7 L605.6,401.3 L607.1,401.9 L608.7,402.5 L610.2,403.1 L611.7,403.7 L613.2,404.3 L614.7,404.9 L616.2,405.5 L617.7,406.1 L619.2,406.7 L620.7,407.3 L622.2,407.9 L623.7,408.5 L625.3,409.0 L626.8,409.6 L628.3,410.1 L629.8,410.7 L631.3,411.2 L632.8,411.7 L634.3,412.2 L635.8,412.7 L637.3,413.1 L638.8,413.6 L640.3,414.1 L641.9,414.5 L643.4,415.0 L644.9,415.4 L646.4,415.8 L647.9,416.2 L649.4,416.6 L650.9,417.0 L652.4,417.4 L653.9,417.7 L655.4,418.1 L656.9,418.5 L658.5,418.8 L660.0,419.1 L661.5,419.5 L663.0,419.8 L664.5,420.1 L666.0,420.4 L667.5,420.7 L669.0,421.0 L670.5,421.2 L672.0,421.5 L673.6,421.8 L675.1,422.0 L676.6,422.3 L678.1,422.5 L679.6,422.8 L681.1,423.0 L682.6,423.2 L684.1,423.4 L685.6,423.6 L687.1,423.8 L688.6,424.0 L690.2,424.2 L691.7,424.4 L693.2,424.5 L694.7,424.7 L696.2,424.9 L697.7,425.0 L699.2,425.2 L700.7,425.3 L702.2,425.4 L703.7,425.6 L705.2,425.7 L706.8,425.8 L708.3,425.9 L709.8,426.0 L711.3,426.1 L712.8,426.2 L714.3,426.3 L714.3,507.8 L712.8,505.5 L711.3,503.2 L709.8,500.9 L708.3,498.8 L706.8,496.6 L705.2,494.5 L703.7,492.5 L702.2,490.5 L700.7,488.5 L699.2,486.6 L697.7,484.8 L696.2,483.0 L694.7,481.2 L693.2,479.4 L691.7,477.7 L690.2,476.1 L688.6,474.4 L687.1,472.9 L685.6,471.3 L684.1,469.8 L682.6,468.3 L681.1,466.9 L679.6,465.4 L678.1,464.1 L676.6,462.7 L675.1,461.4 L673.6,460.1 L672.0,458.8 L670.5,457.6 L669.0,456.4 L667.5,455.2 L666.0,454.0 L664.5,452.9 L663.0,451.7 L661.5,450.7 L660.0,449.6 L658.5,448.5 L656.9,447.5 L655.4,446.5 L653.9,445.5 L652.4,444.5 L650.9,443.5 L649.4,442.6 L647.9,441.7 L646.4,440.7 L644.9,439.8 L643.4,438.9 L641.9,438.0 L640.3,437.2 L638.8,436.3 L637.3,435.4 L635.8,434.6 L634.3,433.7 L632.8,432.9 L631.3,432.1 L629.8,431.2 L628.3,430.4 L626.8,429.6 L625.3,428.8 L623.7,427.9 L622.2,427.1 L620.7,426.3 L619.2,425.5 L617.7,424.7 L616.2,423.8 L614.7,423.0 L613.2,422.2 L611.7,421.4 L610.2,420.6 L608.7,419.9 L607.1,419.1 L605.6,418.3 L604.1,417.6 L602.6,416.8 L601.1,416.1 L599.6,415.3 L598.1,414.6 L596.6,413.9 L595.1,413.3 L593.6,412.6 L592.1,411.9 L590.5,411.3 L589.0,410.7 L587.5,410.1 L586.0,409.5 L584.5,408.9 L583.0,408.4 L581.5,407.8 L580.0,407.3 L578.5,406.8 L577.0,406.4 L575.5,405.9 L573.9,405.5 L572.4,405.1 L570.9,404.8 L569.4,404.4 L567.9,404.1 L566.4,403.9 L564.9,403.6 L563.4,403.4 L561.9,403.2 L560.4,403.0 L558.8,402.9 L557.3,402.8 L555.8,402.7 L554.3,402.7 L552.8,402.7 L551.3,402.7 L549.8,402.8 L548.3,402.9 L546.8,403.1 L545.3,403.3 L543.8,403.5 L542.2,403.7 L540.7,404.0 L539.2,404.3 L537.7,404.6 L536.2,404.9 L534.7,405.2 L533.2,405.5 L531.7,405.7 L530.2,405.9 L528.7,406.1 L527.2,406.2 L525.6,406.3 L524.1,406.3 L522.6,406.3 L521.1,406.1 L519.6,405.9 L518.1,405.5 L516.6,405.1 L515.1,404.6 L513.6,404.0 L512.1,403.3 L510.6,402.5 L509.0,401.6 L507.5,400.6 L506.0,399.6 L504.5,398.4 L503.0,397.3 L501.5,396.1 L500.0,394.9 L498.5,393.7 L497.0,392.5 L495.5,391.3 L494.0,390.2 L492.4,389.1 L490.9,388.1 L489.4,387.2 L487.9,386.4 L486.4,385.8 L484.9,385.3 L483.4,384.8 L481.9,384.5 L480.4,384.1 L478.9,383.8 L477.3,383.5 L475.8,383.1 L474.3,382.8 L472.8,382.5 L471.3,382.2 L469.8,381.9 L468.3,381.6 L466.8,381.3 L465.3,381.1 L463.8,380.9 L462.3,380.8 L460.7,380.7 L459.2,380.6 L457.7,380.6 L456.2,380.6 L454.7,380.6 L453.2,380.7 L451.7,380.7 L450.2,380.8 L448.7,380.8 L447.2,380.9 L445.7,380.9 L444.1,381.0 L442.6,381.0 L441.1,381.0 L439.6,381.0 L438.1,381.0 L436.6,380.9Z" fill="#00BA38" fill-opacity="0.4" filter="url(#fb)"/><path d="M436.6,376.9 L438.1,375.9 L439.6,374.8 L441.1,373.7 L442.6,372.6 L444.1,371.4 L445.7,370.3 L447.2,369.1 L448.7,367.9 L450.2,366.8 L451.7,365.7 L453.2,364.6 L454.7,363.5 L456.2,362.5 L457.7,361.5 L459.2,360.6 L460.7,359.8 L462.3,359.0 L463.8,358.4 L465.3,357.8 L466.8,357.4 L468.3,357.0 L469.8,356.8 L471.3,356.8 L472.8,356.8 L474.3,357.0 L475.8,357.4 L477.3,357.9 L478.9,358.6 L480.4,359.5 L481.9,360.6 L483.4,361.8 L484.9,363.3 L486.4,364.9 L487.9,366.8 L489.4,368.8 L490.9,371.0 L492.4,373.3 L494.0,375.6 L495.5,377.8 L497.0,380.0 L498.5,381.9 L500.0,383.8 L501.5,385.5 L503.0,387.1 L504.5,388.5 L506.0,389.9 L507.5,391.1 L509.0,392.2 L510.6,393.2 L512.1,394.0 L513.6,394.8 L515.1,395.5 L516.6,396.1 L518.1,396.5 L519.6,396.9 L521.1,397.2 L522.6,397.4 L524.1,397.6 L525.6,397.6 L527.2,397.6 L528.7,397.5 L530.2,397.4 L531.7,397.3 L533.2,397.1 L534.7,396.8 L536.2,396.6 L537.7,396.3 L539.2,396.1 L540.7,395.8 L542.2,395.6 L543.8,395.4 L545.3,395.2 L546.8,395.1 L548.3,394.9 L549.8,394.9 L551.3,394.8 L552.8,394.8 L554.3,394.8 L555.8,394.9 L557.3,395.0 L558.8,395.1 L560.4,395.3 L561.9,395.4 L563.4,395.6 L564.9,395.9 L566.4,396.1 L567.9,396.4 L569.4,396.7 L570.9,397.1 L572.4,397.4 L573.9,397.8 L575.5,398.2 L577.0,398.7 L578.5,399.1 L580.0,399.6 L581.5,400.1 L583.0,400.6 L584.5,401.1 L586.0,401.6 L587.5,402.2 L589.0,402.8 L590.5,403.3 L592.1,403.9 L593.6,404.5 L595.1,405.2 L596.6,405.8 L598.1,406.4 L599.6,407.1 L601.1,407.8 L602.6,408.4 L604.1,409.1 L605.6,409.8 L607.1,410.5 L608.7,411.2 L610.2,411.9 L611.7,412.6 L613.2,413.3 L614.7,414.0 L616.2,414.7 L617.7,415.4 L619.2,416.1 L620.7,416.8 L622.2,417.5 L623.7,418.2 L625.3,418.9 L626.8,419.6 L628.3,420.3 L629.8,420.9 L631.3,421.6 L632.8,422.3 L634.3,423.0 L635.8,423.6 L637.3,424.3 L638.8,425.0 L640.3,425.6 L641.9,426.3 L643.4,426.9 L644.9,427.6 L646.4,428.3 L647.9,428.9 L649.4,429.6 L650.9,430.3 L652.4,430.9 L653.9,431.6 L655.4,432.3 L656.9,433.0 L658.5,433.7 L660.0,434.4 L661.5,435.1 L663.0,435.8 L664.5,436.5 L666.0,437.2 L667.5,437.9 L669.0,438.7 L670.5,439.4 L672.0,440.2 L673.6,440.9 L675.1,441.7 L676.6,442.5 L678.1,443.3 L679.6,444.1 L681.1,444.9 L682.6,445.7 L684.1,446.6 L685.6,447.5 L687.1,448.3 L688.6,449.2 L690.2,450.1 L691.7,451.0 L693.2,452.0 L694.7,452.9 L696.2,453.9 L697.7,454.9 L699.2,455.9 L700.7,456.9 L702.2,458.0 L703.7,459.0 L705.2,460.1 L706.8,461.2 L708.3,462.3 L709.8,463.5 L711.3,464.7 L712.8,465.8 L714.3,467.1" fill="none" stroke="#2F5AB5" stroke-width="2.0" stroke-opacity="0.92" stroke-linejoin="round" stroke-linecap="round" filter="url(#fl)"/><path d="M436.6,371.0 L438.1,371.1 L439.6,371.2 L441.1,371.3 L442.6,371.4 L444.1,371.4 L445.6,371.4 L447.1,371.5 L448.7,371.5 L450.2,371.5 L451.7,371.5 L453.2,371.4 L454.7,371.4 L456.2,371.4 L457.7,371.3 L459.2,371.3 L460.7,371.3 L462.2,371.2 L463.7,371.2 L465.2,371.1 L466.7,371.1 L468.2,371.1 L469.8,371.0 L471.3,371.0 L472.8,371.0 L474.3,371.0 L475.8,371.0 L477.3,371.0 L478.8,371.0 L480.3,371.0 L481.8,371.0 L483.3,371.0 L484.8,371.0 L486.3,371.0 L487.8,371.0 L489.3,371.0 L490.8,371.1 L492.4,371.1 L493.9,371.1 L495.4,371.1 L496.9,371.1 L498.4,371.1 L499.9,371.1 L501.4,371.2 L502.9,371.2 L504.4,371.2 L505.9,371.2 L507.4,371.2 L508.9,371.1 L510.4,371.1 L511.9,371.1 L513.4,371.1 L515.0,371.1 L516.5,371.0 L518.0,371.0 L519.5,371.0 L521.0,371.0 L522.5,371.0 L524.0,371.1 L525.5,371.1 L527.0,371.1 L528.5,371.2 L530.0,371.3 L531.5,371.4 L533.0,371.5 L534.5,371.6 L536.1,371.7 L537.6,371.8 L539.1,372.0 L540.6,372.2 L542.1,372.3 L543.6,372.5 L545.1,372.8 L546.6,373.0 L548.1,373.3 L549.6,373.5 L551.1,373.9 L552.6,374.2 L554.1,374.5 L555.6,374.9 L557.1,375.3 L558.7,375.7 L560.2,376.2 L561.7,376.7 L563.2,377.2 L564.7,377.7 L566.2,378.2 L567.7,378.8 L569.2,379.4 L570.7,380.0 L572.2,380.7 L573.7,381.3 L575.2,382.0 L576.7,382.7 L578.2,383.4 L579.8,384.1 L581.3,384.8 L582.8,385.5 L584.3,386.2 L585.8,386.9 L587.3,387.6 L588.8,388.4 L590.3,389.1 L591.8,389.8 L593.3,390.5 L594.8,391.1 L596.3,391.8 L597.8,392.5 L599.3,393.2 L600.8,393.8 L602.4,394.5 L603.9,395.2 L605.4,395.8 L606.9,396.5 L608.4,397.1 L609.9,397.7 L611.4,398.3 L612.9,398.9 L614.4,399.6 L615.9,400.1 L617.4,400.7 L618.9,401.3 L620.4,401.9 L621.9,402.5 L623.4,403.0 L625.0,403.5 L626.5,404.1 L628.0,404.6 L629.5,405.0 L631.0,405.5 L632.5,406.0 L634.0,406.4 L635.5,406.8 L637.0,407.1 L638.5,407.5 L640.0,407.8 L641.5,408.1 L643.0,408.4 L644.5,408.6 L646.1,408.9 L647.6,409.1 L649.1,409.2 L650.6,409.4 L652.1,409.5 L653.6,409.6 L655.1,409.7 L656.6,409.8 L658.1,409.8 L659.6,409.9 L661.1,409.9 L662.6,409.9 L664.1,409.9 L665.6,409.8 L667.1,409.8 L668.7,409.7 L670.2,409.6 L671.7,409.6 L673.2,409.5 L674.7,409.3 L676.2,409.2 L677.7,409.1 L679.2,408.9 L680.7,408.7 L682.2,408.6 L683.7,408.4 L685.2,408.2 L686.7,408.0 L688.2,407.7 L689.8,407.5 L691.3,407.3 L692.8,407.0 L694.3,406.7 L695.8,406.4 L697.3,406.2 L698.8,405.8 L700.3,405.5 L701.8,405.2 L703.3,404.9 L704.8,404.5 L706.3,404.2 L707.8,403.8 L709.3,403.4 L710.8,403.0 L712.4,402.6 L713.9,402.2 L715.4,401.7 L716.9,401.3 L718.4,400.8 L719.9,400.3 L721.4,399.8 L722.9,399.3 L724.4,398.8 L725.9,398.3 L727.4,397.7 L728.9,397.2 L730.4,396.6 L731.9,396.0 L733.4,395.4 L735.0,394.8 L736.5,394.1 L738.0,393.5 L739.5,392.8 L741.0,392.2 L742.5,391.5 L744.0,390.8 L745.5,390.0 L747.0,389.3 L748.5,388.5 L750.0,387.8 L751.5,387.0 L753.0,386.2 L754.5,385.4 L756.1,384.5 L757.6,383.7 L759.1,382.8 L760.6,381.9 L762.1,381.0 L763.6,380.1 L765.1,379.2 L766.6,378.2 L766.6,512.2 L765.1,511.0 L763.6,509.8 L762.1,508.7 L760.6,507.5 L759.1,506.3 L757.6,505.2 L756.1,504.0 L754.5,502.9 L753.0,501.8 L751.5,500.7 L750.0,499.6 L748.5,498.5 L747.0,497.4 L745.5,496.3 L744.0,495.2 L742.5,494.2 L741.0,493.1 L739.5,492.1 L738.0,491.1 L736.5,490.0 L735.0,489.0 L733.4,488.0 L731.9,487.0 L730.4,486.0 L728.9,485.0 L727.4,484.0 L725.9,483.1 L724.4,482.1 L722.9,481.2 L721.4,480.2 L719.9,479.3 L718.4,478.3 L716.9,477.4 L715.4,476.5 L713.9,475.6 L712.4,474.7 L710.8,473.8 L709.3,472.9 L707.8,472.0 L706.3,471.1 L704.8,470.2 L703.3,469.3 L701.8,468.5 L700.3,467.6 L698.8,466.8 L697.3,465.9 L695.8,465.1 L694.3,464.2 L692.8,463.4 L691.3,462.6 L689.8,461.7 L688.2,460.9 L686.7,460.1 L685.2,459.3 L683.7,458.5 L682.2,457.7 L680.7,456.9 L679.2,456.1 L677.7,455.3 L676.2,454.6 L674.7,453.8 L673.2,453.0 L671.7,452.3 L670.2,451.5 L668.7,450.8 L667.1,450.0 L665.6,449.3 L664.1,448.6 L662.6,447.9 L661.1,447.2 L659.6,446.5 L658.1,445.8 L656.6,445.1 L655.1,444.5 L653.6,443.8 L652.1,443.1 L650.6,442.5 L649.1,441.8 L647.6,441.2 L646.1,440.6 L644.5,439.9 L643.0,439.3 L641.5,438.7 L640.0,438.0 L638.5,437.4 L637.0,436.8 L635.5,436.2 L634.0,435.5 L632.5,434.9 L631.0,434.2 L629.5,433.5 L628.0,432.9 L626.5,432.2 L625.0,431.4 L623.4,430.7 L621.9,430.0 L620.4,429.2 L618.9,428.4 L617.4,427.6 L615.9,426.7 L614.4,425.9 L612.9,425.0 L611.4,424.1 L609.9,423.3 L608.4,422.4 L606.9,421.5 L605.4,420.6 L603.9,419.7 L602.4,418.7 L600.8,417.8 L599.3,416.9 L597.8,416.0 L596.3,415.1 L594.8,414.2 L593.3,413.4 L591.8,412.5 L590.3,411.7 L588.8,410.8 L587.3,410.0 L585.8,409.2 L584.3,408.4 L582.8,407.6 L581.3,406.9 L579.8,406.2 L578.2,405.4 L576.7,404.7 L575.2,404.1 L573.7,403.4 L572.2,402.8 L570.7,402.1 L569.2,401.5 L567.7,400.9 L566.2,400.4 L564.7,399.8 L563.2,399.3 L561.7,398.7 L560.2,398.2 L558.7,397.7 L557.1,397.2 L555.6,396.8 L554.1,396.3 L552.6,395.9 L551.1,395.5 L549.6,395.1 L548.1,394.7 L546.6,394.4 L545.1,394.0 L543.6,393.7 L542.1,393.5 L540.6,393.2 L539.1,393.0 L537.6,392.8 L536.1,392.7 L534.5,392.6 L533.0,392.5 L531.5,392.4 L530.0,392.4 L528.5,392.5 L527.0,392.5 L525.5,392.6 L524.0,392.8 L522.5,392.9 L521.0,393.2 L519.5,393.4 L518.0,393.7 L516.5,394.1 L515.0,394.4 L513.4,394.8 L511.9,395.3 L510.4,395.7 L508.9,396.3 L507.4,396.8 L505.9,397.3 L504.4,397.9 L502.9,398.5 L501.4,399.1 L499.9,399.7 L498.4,400.4 L496.9,401.0 L495.4,401.6 L493.9,402.2 L492.4,402.8 L490.8,403.4 L489.3,403.9 L487.8,404.5 L486.3,405.0 L484.8,405.4 L483.3,405.9 L481.8,406.3 L480.3,406.6 L478.8,407.0 L477.3,407.3 L475.8,407.5 L474.3,407.7 L472.8,407.8 L471.3,407.9 L469.8,408.0 L468.2,408.0 L466.7,407.9 L465.2,407.8 L463.7,407.7 L462.2,407.5 L460.7,407.2 L459.2,406.9 L457.7,406.5 L456.2,406.1 L454.7,405.6 L453.2,405.0 L451.7,404.4 L450.2,403.8 L448.7,403.1 L447.1,402.3 L445.6,401.5 L444.1,400.6 L442.6,399.6 L441.1,398.6 L439.6,397.6 L438.1,396.5 L436.6,395.3Z" fill="#619CFF" fill-opacity="0.4" filter="url(#fb)"/><path d="M436.6,383.1 L438.1,383.8 L439.6,384.4 L441.1,385.0 L442.6,385.5 L444.1,386.0 L445.6,386.4 L447.1,386.9 L448.7,387.3 L450.2,387.6 L451.7,387.9 L453.2,388.2 L454.7,388.5 L456.2,388.7 L457.7,388.9 L459.2,389.1 L460.7,389.2 L462.2,389.3 L463.7,389.4 L465.2,389.5 L466.7,389.5 L468.2,389.5 L469.8,389.5 L471.3,389.5 L472.8,389.4 L474.3,389.3 L475.8,389.2 L477.3,389.1 L478.8,389.0 L480.3,388.8 L481.8,388.6 L483.3,388.4 L484.8,388.2 L486.3,388.0 L487.8,387.7 L489.3,387.5 L490.8,387.2 L492.4,386.9 L493.9,386.6 L495.4,386.4 L496.9,386.1 L498.4,385.7 L499.9,385.4 L501.4,385.1 L502.9,384.8 L504.4,384.5 L505.9,384.3 L507.4,384.0 L508.9,383.7 L510.4,383.4 L511.9,383.2 L513.4,383.0 L515.0,382.7 L516.5,382.5 L518.0,382.4 L519.5,382.2 L521.0,382.1 L522.5,382.0 L524.0,381.9 L525.5,381.9 L527.0,381.8 L528.5,381.8 L530.0,381.9 L531.5,381.9 L533.0,382.0 L534.5,382.1 L536.1,382.2 L537.6,382.3 L539.1,382.5 L540.6,382.7 L542.1,382.9 L543.6,383.1 L545.1,383.4 L546.6,383.7 L548.1,384.0 L549.6,384.3 L551.1,384.7 L552.6,385.0 L554.1,385.4 L555.6,385.8 L557.1,386.3 L558.7,386.7 L560.2,387.2 L561.7,387.7 L563.2,388.2 L564.7,388.7 L566.2,389.3 L567.7,389.9 L569.2,390.5 L570.7,391.1 L572.2,391.7 L573.7,392.4 L575.2,393.0 L576.7,393.7 L578.2,394.4 L579.8,395.1 L581.3,395.8 L582.8,396.6 L584.3,397.3 L585.8,398.1 L587.3,398.8 L588.8,399.6 L590.3,400.4 L591.8,401.1 L593.3,401.9 L594.8,402.7 L596.3,403.5 L597.8,404.3 L599.3,405.1 L600.8,405.8 L602.4,406.6 L603.9,407.4 L605.4,408.2 L606.9,409.0 L608.4,409.7 L609.9,410.5 L611.4,411.2 L612.9,412.0 L614.4,412.7 L615.9,413.4 L617.4,414.2 L618.9,414.8 L620.4,415.5 L621.9,416.2 L623.4,416.9 L625.0,417.5 L626.5,418.1 L628.0,418.7 L629.5,419.3 L631.0,419.9 L632.5,420.4 L634.0,420.9 L635.5,421.5 L637.0,422.0 L638.5,422.5 L640.0,422.9 L641.5,423.4 L643.0,423.9 L644.5,424.3 L646.1,424.7 L647.6,425.1 L649.1,425.5 L650.6,425.9 L652.1,426.3 L653.6,426.7 L655.1,427.1 L656.6,427.5 L658.1,427.8 L659.6,428.2 L661.1,428.5 L662.6,428.9 L664.1,429.2 L665.6,429.6 L667.1,429.9 L668.7,430.2 L670.2,430.6 L671.7,430.9 L673.2,431.2 L674.7,431.6 L676.2,431.9 L677.7,432.2 L679.2,432.5 L680.7,432.8 L682.2,433.1 L683.7,433.4 L685.2,433.7 L686.7,434.0 L688.2,434.3 L689.8,434.6 L691.3,434.9 L692.8,435.2 L694.3,435.5 L695.8,435.8 L697.3,436.0 L698.8,436.3 L700.3,436.6 L701.8,436.8 L703.3,437.1 L704.8,437.4 L706.3,437.6 L707.8,437.9 L709.3,438.1 L710.8,438.4 L712.4,438.6 L713.9,438.9 L715.4,439.1 L716.9,439.3 L718.4,439.6 L719.9,439.8 L721.4,440.0 L722.9,440.2 L724.4,440.5 L725.9,440.7 L727.4,440.9 L728.9,441.1 L730.4,441.3 L731.9,441.5 L733.4,441.7 L735.0,441.9 L736.5,442.1 L738.0,442.3 L739.5,442.5 L741.0,442.6 L742.5,442.8 L744.0,443.0 L745.5,443.2 L747.0,443.3 L748.5,443.5 L750.0,443.7 L751.5,443.8 L753.0,444.0 L754.5,444.1 L756.1,444.3 L757.6,444.4 L759.1,444.6 L760.6,444.7 L762.1,444.8 L763.6,445.0 L765.1,445.1 L766.6,445.2" fill="none" stroke="#3453C4" stroke-width="2.0" stroke-opacity="0.92" stroke-linejoin="round" stroke-linecap="round" filter="url(#fl)"/></g><g filter="url(#ft)"><line x1="497.7" y1="574.9" x2="497.7" y2="577.1" stroke="#333" stroke-width="0.8"/><text x="497.7" y="583.3" font-size="6.8" fill="#4D4D4D" text-anchor="middle">0</text><line x1="577.5" y1="574.9" x2="577.5" y2="577.1" stroke="#333" stroke-width="0.8"/><text x="577.5" y="583.3" font-size="6.8" fill="#4D4D4D" text-anchor="middle">1</text><line x1="657.3" y1="574.9" x2="657.3" y2="577.1" stroke="#333" stroke-width="0.8"/><text x="657.3" y="583.3" font-size="6.8" fill="#4D4D4D" text-anchor="middle">2</text><line x1="737.1" y1="574.9" x2="737.1" y2="577.1" stroke="#333" stroke-width="0.8"/><text x="737.1" y="583.3" font-size="6.8" fill="#4D4D4D" text-anchor="middle">3</text><line x1="417.2" y1="532.3" x2="419.4" y2="532.3" stroke="#333" stroke-width="0.8"/><text x="416" y="534.8" font-size="6.8" fill="#4D4D4D" text-anchor="end">-3</text><line x1="417.2" y1="485.5" x2="419.4" y2="485.5" stroke="#333" stroke-width="0.8"/><text x="416" y="488" font-size="6.8" fill="#4D4D4D" text-anchor="end">-2</text><line x1="417.2" y1="438.7" x2="419.4" y2="438.7" stroke="#333" stroke-width="0.8"/><text x="416" y="441.2" font-size="6.8" fill="#4D4D4D" text-anchor="end">-1</text><line x1="417.2" y1="391.9" x2="419.4" y2="391.9" stroke="#333" stroke-width="0.8"/><text x="416" y="394.4" font-size="6.8" fill="#4D4D4D" text-anchor="end">0</text><line x1="417.2" y1="345.1" x2="419.4" y2="345.1" stroke="#333" stroke-width="0.8"/><text x="416" y="347.6" font-size="6.8" fill="#4D4D4D" text-anchor="end">1</text><text x="601.6" y="594" font-size="9.1" textLength="97" lengthAdjust="spacingAndGlyphs" fill="#000" stroke="#000" stroke-width="0.3" text-anchor="middle">Maternal Hydroxycotinine</text><text transform="translate(404.6,447.5) rotate(-90)" font-size="8.6" fill="#000" stroke="#000" stroke-width="0.3" text-anchor="middle">GFI1</text><text x="398.1" y="328" font-size="11.5" font-weight="bold" fill="#000">D</text><text x="528.1" y="618" font-size="7.8" textLength="58.3" lengthAdjust="spacingAndGlyphs" fill="#000" stroke="#000" stroke-width="0.25">Vitamin B6 Status</text><rect x="588.3" y="608.8" width="13" height="12.8" fill="#F2F2F2"/><line x1="589.1" y1="615.2" x2="600.5" y2="615.2" stroke="#3352CC" stroke-width="2.2"/><rect x="588.3" y="608.8" width="13" height="12.8" fill="#F8766D" fill-opacity="0.4"/><text x="604.7" y="617.3" font-size="5.8" textLength="7.3" lengthAdjust="spacingAndGlyphs" fill="#222" stroke="#222" stroke-width="0.15">Q1</text><rect x="616.6" y="608.8" width="13" height="12.8" fill="#F2F2F2"/><line x1="617.4" y1="615.2" x2="628.8" y2="615.2" stroke="#3352CC" stroke-width="2.2"/><rect x="616.6" y="608.8" width="13" height="12.8" fill="#00BA38" fill-opacity="0.4"/><text x="633" y="617.3" font-size="5.8" textLength="12.2" lengthAdjust="spacingAndGlyphs" fill="#222" stroke="#222" stroke-width="0.15">Q2-3</text><rect x="650.8" y="608.8" width="13" height="12.8" fill="#F2F2F2"/><line x1="651.6" y1="615.2" x2="663" y2="615.2" stroke="#3352CC" stroke-width="2.2"/><rect x="650.8" y="608.8" width="13" height="12.8" fill="#619CFF" fill-opacity="0.4"/><text x="667.2" y="617.3" font-size="5.8" textLength="7.3" lengthAdjust="spacingAndGlyphs" fill="#222" stroke="#222" stroke-width="0.15">Q4</text></g></g>
<clipPath id="clipE"><rect x="26.1" y="635.1" width="364.4" height="254.7"/></clipPath>
<g><g filter="url(#fb)"><rect x="26.1" y="635.1" width="364.4" height="254.7" fill="#EBEBEB"/><line x1="64.5" y1="635.1" x2="64.5" y2="889.8" stroke="#F3F3F3" stroke-width="1.0"/><line x1="144.3" y1="635.1" x2="144.3" y2="889.8" stroke="#F3F3F3" stroke-width="1.0"/><line x1="224.1" y1="635.1" x2="224.1" y2="889.8" stroke="#F3F3F3" stroke-width="1.0"/><line x1="303.9" y1="635.1" x2="303.9" y2="889.8" stroke="#F3F3F3" stroke-width="1.0"/><line x1="383.7" y1="635.1" x2="383.7" y2="889.8" stroke="#F3F3F3" stroke-width="1.0"/><line x1="26.1" y1="875" x2="390.5" y2="875" stroke="#F3F3F3" stroke-width="1.0"/><line x1="26.1" y1="821.5" x2="390.5" y2="821.5" stroke="#F3F3F3" stroke-width="1.0"/><line x1="26.1" y1="768" x2="390.5" y2="768" stroke="#F3F3F3" stroke-width="1.0"/><line x1="26.1" y1="714.5" x2="390.5" y2="714.5" stroke="#F3F3F3" stroke-width="1.0"/><line x1="26.1" y1="661" x2="390.5" y2="661" stroke="#F3F3F3" stroke-width="1.0"/><line x1="104.4" y1="635.1" x2="104.4" y2="889.8" stroke="#FFFFFF" stroke-width="1.4"/><line x1="184.2" y1="635.1" x2="184.2" y2="889.8" stroke="#FFFFFF" stroke-width="1.4"/><line x1="264" y1="635.1" x2="264" y2="889.8" stroke="#FFFFFF" stroke-width="1.4"/><line x1="343.8" y1="635.1" x2="343.8" y2="889.8" stroke="#FFFFFF" stroke-width="1.4"/><line x1="26.1" y1="848.2" x2="390.5" y2="848.2" stroke="#FFFFFF" stroke-width="1.4"/><line x1="26.1" y1="794.7" x2="390.5" y2="794.7" stroke="#FFFFFF" stroke-width="1.4"/><line x1="26.1" y1="741.2" x2="390.5" y2="741.2" stroke="#FFFFFF" stroke-width="1.4"/><line x1="26.1" y1="687.7" x2="390.5" y2="687.7" stroke="#FFFFFF" stroke-width="1.4"/></g><g clip-path="url(#clipE)"><path d="M42.6,658.7 L44.1,659.0 L45.6,659.1 L47.1,659.2 L48.7,659.2 L50.2,659.0 L51.7,658.8 L53.2,658.5 L54.7,658.1 L56.2,657.7 L57.7,657.3 L59.2,656.8 L60.8,656.3 L62.3,655.8 L63.8,655.3 L65.3,654.9 L66.8,654.4 L68.3,654.0 L69.8,653.7 L71.3,653.4 L72.9,653.1 L74.4,653.0 L75.9,653.0 L77.4,653.0 L78.9,653.2 L80.4,653.5 L81.9,653.9 L83.5,654.3 L85.0,654.9 L86.5,655.5 L88.0,656.1 L89.5,656.7 L91.0,657.4 L92.5,658.1 L94.0,658.8 L95.6,659.4 L97.1,660.0 L98.6,660.6 L100.1,661.2 L101.6,661.6 L103.1,662.0 L104.6,662.4 L106.1,662.7 L107.7,662.9 L109.2,663.1 L110.7,663.2 L112.2,663.3 L113.7,663.4 L115.2,663.4 L116.7,663.4 L118.3,663.4 L119.8,663.4 L121.3,663.3 L122.8,663.2 L124.3,663.1 L125.8,663.0 L127.3,662.9 L128.8,662.8 L130.4,662.7 L131.9,662.6 L133.4,662.5 L134.9,662.5 L136.4,662.4 L137.9,662.3 L139.4,662.3 L140.9,662.3 L142.5,662.2 L144.0,662.2 L145.5,662.3 L147.0,662.3 L148.5,662.4 L150.0,662.5 L151.5,662.6 L153.1,662.8 L154.6,663.0 L156.1,663.2 L157.6,663.5 L159.1,663.8 L160.6,664.1 L162.1,664.5 L163.6,665.0 L165.2,665.5 L166.7,666.0 L168.2,666.6 L169.7,667.2 L171.2,667.9 L172.7,668.6 L174.2,669.4 L175.7,670.2 L177.3,671.0 L178.8,671.9 L180.3,672.8 L181.8,673.8 L183.3,674.7 L184.8,675.7 L186.3,676.7 L187.9,677.7 L189.4,678.8 L190.9,679.8 L192.4,680.9 L193.9,681.9 L195.4,683.0 L196.9,684.1 L198.4,685.1 L200.0,686.2 L201.5,687.3 L203.0,688.3 L204.5,689.3 L206.0,690.3 L207.5,691.3 L209.0,692.3 L210.5,693.3 L212.1,694.2 L213.6,695.2 L215.1,696.1 L216.6,697.0 L218.1,697.9 L219.6,698.8 L221.1,699.7 L222.7,700.6 L224.2,701.4 L225.7,702.3 L227.2,703.1 L228.7,703.9 L230.2,704.7 L231.7,705.5 L233.2,706.3 L234.8,707.1 L236.3,707.8 L237.8,708.6 L239.3,709.3 L240.8,710.0 L242.3,710.8 L243.8,711.4 L245.3,712.1 L246.9,712.8 L248.4,713.4 L249.9,714.1 L251.4,714.7 L252.9,715.3 L254.4,715.9 L255.9,716.4 L257.5,717.0 L259.0,717.5 L260.5,718.0 L262.0,718.5 L263.5,719.0 L265.0,719.4 L266.5,719.9 L268.0,720.3 L269.6,720.7 L271.1,721.1 L272.6,721.5 L274.1,721.9 L275.6,722.2 L277.1,722.6 L278.6,722.9 L280.1,723.3 L281.7,723.6 L283.2,723.9 L284.7,724.2 L286.2,724.5 L287.7,724.8 L289.2,725.1 L290.7,725.4 L292.3,725.6 L293.8,725.9 L295.3,726.2 L296.8,726.4 L298.3,726.7 L299.8,727.0 L301.3,727.2 L302.8,727.5 L304.4,727.7 L305.9,728.0 L307.4,728.2 L308.9,728.5 L310.4,728.8 L311.9,729.0 L313.4,729.3 L314.9,729.6 L316.5,729.8 L318.0,730.1 L319.5,730.4 L321.0,730.7 L321.0,841.1 L319.5,838.7 L318.0,836.4 L316.5,834.0 L314.9,831.7 L313.4,829.4 L311.9,827.1 L310.4,824.8 L308.9,822.6 L307.4,820.4 L305.9,818.1 L304.4,815.9 L302.8,813.7 L301.3,811.6 L299.8,809.4 L298.3,807.3 L296.8,805.2 L295.3,803.1 L293.8,801.0 L292.3,799.0 L290.7,797.0 L289.2,795.0 L287.7,793.0 L286.2,791.0 L284.7,789.1 L283.2,787.2 L281.7,785.3 L280.1,783.5 L278.6,781.7 L277.1,779.9 L275.6,778.1 L274.1,776.3 L272.6,774.6 L271.1,772.9 L269.6,771.3 L268.0,769.6 L266.5,768.0 L265.0,766.4 L263.5,764.9 L262.0,763.4 L260.5,761.9 L259.0,760.5 L257.5,759.0 L255.9,757.7 L254.4,756.3 L252.9,755.0 L251.4,753.7 L249.9,752.5 L248.4,751.2 L246.9,750.0 L245.3,748.9 L243.8,747.8 L242.3,746.7 L240.8,745.6 L239.3,744.5 L237.8,743.5 L236.3,742.5 L234.8,741.5 L233.2,740.6 L231.7,739.7 L230.2,738.7 L228.7,737.9 L227.2,737.0 L225.7,736.1 L224.2,735.3 L222.7,734.5 L221.1,733.6 L219.6,732.8 L218.1,732.0 L216.6,731.2 L215.1,730.4 L213.6,729.6 L212.1,728.9 L210.5,728.1 L209.0,727.3 L207.5,726.5 L206.0,725.7 L204.5,724.9 L203.0,724.1 L201.5,723.3 L200.0,722.5 L198.4,721.6 L196.9,720.8 L195.4,720.0 L193.9,719.1 L192.4,718.3 L190.9,717.5 L189.4,716.6 L187.9,715.8 L186.3,715.0 L184.8,714.2 L183.3,713.4 L181.8,712.6 L180.3,711.8 L178.8,711.0 L177.3,710.2 L175.7,709.5 L174.2,708.8 L172.7,708.1 L171.2,707.4 L169.7,706.7 L168.2,706.1 L166.7,705.5 L165.2,704.9 L163.6,704.3 L162.1,703.8 L160.6,703.3 L159.1,702.8 L157.6,702.3 L156.1,701.9 L154.6,701.5 L153.1,701.1 L151.5,700.7 L150.0,700.4 L148.5,700.0 L147.0,699.7 L145.5,699.5 L144.0,699.2 L142.5,699.0 L140.9,698.8 L139.4,698.6 L137.9,698.4 L136.4,698.3 L134.9,698.2 L133.4,698.1 L131.9,698.0 L130.4,698.0 L128.8,698.0 L127.3,698.0 L125.8,698.0 L124.3,698.1 L122.8,698.1 L121.3,698.2 L119.8,698.4 L118.3,698.5 L116.7,698.7 L115.2,699.0 L113.7,699.2 L112.2,699.5 L110.7,699.9 L109.2,700.3 L107.7,700.7 L106.1,701.2 L104.6,701.7 L103.1,702.3 L101.6,702.9 L100.1,703.5 L98.6,704.2 L97.1,705.0 L95.6,705.8 L94.0,706.5 L92.5,707.3 L91.0,708.0 L89.5,708.7 L88.0,709.4 L86.5,709.9 L85.0,710.4 L83.5,710.8 L81.9,711.0 L80.4,711.1 L78.9,711.1 L77.4,710.9 L75.9,710.5 L74.4,710.0 L72.9,709.2 L71.3,708.3 L69.8,707.3 L68.3,706.1 L66.8,704.8 L65.3,703.4 L63.8,701.9 L62.3,700.3 L60.8,698.6 L59.2,696.8 L57.7,695.0 L56.2,693.1 L54.7,691.2 L53.2,689.3 L51.7,687.3 L50.2,685.4 L48.7,683.5 L47.1,681.6 L45.6,679.7 L44.1,677.9 L42.6,676.1Z" fill="#F8766D" fill-opacity="0.4" filter="url(#fb)"/><path d="M42.6,667.4 L44.1,668.4 L45.6,669.4 L47.1,670.4 L48.7,671.3 L50.2,672.2 L51.7,673.1 L53.2,673.9 L54.7,674.7 L56.2,675.4 L57.7,676.1 L59.2,676.8 L60.8,677.4 L62.3,678.0 L63.8,678.6 L65.3,679.1 L66.8,679.6 L68.3,680.1 L69.8,680.5 L71.3,680.8 L72.9,681.2 L74.4,681.5 L75.9,681.7 L77.4,682.0 L78.9,682.2 L80.4,682.3 L81.9,682.4 L83.5,682.6 L85.0,682.6 L86.5,682.7 L88.0,682.7 L89.5,682.7 L91.0,682.7 L92.5,682.7 L94.0,682.6 L95.6,682.6 L97.1,682.5 L98.6,682.4 L100.1,682.3 L101.6,682.2 L103.1,682.1 L104.6,682.0 L106.1,681.9 L107.7,681.8 L109.2,681.7 L110.7,681.6 L112.2,681.4 L113.7,681.3 L115.2,681.2 L116.7,681.1 L118.3,681.0 L119.8,680.9 L121.3,680.8 L122.8,680.7 L124.3,680.6 L125.8,680.5 L127.3,680.5 L128.8,680.4 L130.4,680.4 L131.9,680.3 L133.4,680.3 L134.9,680.3 L136.4,680.3 L137.9,680.4 L139.4,680.4 L140.9,680.5 L142.5,680.6 L144.0,680.7 L145.5,680.9 L147.0,681.0 L148.5,681.2 L150.0,681.4 L151.5,681.7 L153.1,681.9 L154.6,682.2 L156.1,682.5 L157.6,682.9 L159.1,683.3 L160.6,683.7 L162.1,684.2 L163.6,684.7 L165.2,685.2 L166.7,685.7 L168.2,686.3 L169.7,687.0 L171.2,687.6 L172.7,688.3 L174.2,689.1 L175.7,689.8 L177.3,690.6 L178.8,691.5 L180.3,692.3 L181.8,693.2 L183.3,694.0 L184.8,694.9 L186.3,695.8 L187.9,696.8 L189.4,697.7 L190.9,698.6 L192.4,699.6 L193.9,700.5 L195.4,701.5 L196.9,702.4 L198.4,703.4 L200.0,704.3 L201.5,705.3 L203.0,706.2 L204.5,707.1 L206.0,708.0 L207.5,708.9 L209.0,709.8 L210.5,710.7 L212.1,711.6 L213.6,712.4 L215.1,713.3 L216.6,714.1 L218.1,715.0 L219.6,715.8 L221.1,716.7 L222.7,717.5 L224.2,718.4 L225.7,719.2 L227.2,720.0 L228.7,720.9 L230.2,721.7 L231.7,722.6 L233.2,723.4 L234.8,724.3 L236.3,725.2 L237.8,726.0 L239.3,726.9 L240.8,727.8 L242.3,728.7 L243.8,729.6 L245.3,730.5 L246.9,731.4 L248.4,732.3 L249.9,733.3 L251.4,734.2 L252.9,735.1 L254.4,736.1 L255.9,737.0 L257.5,738.0 L259.0,739.0 L260.5,740.0 L262.0,740.9 L263.5,741.9 L265.0,742.9 L266.5,743.9 L268.0,745.0 L269.6,746.0 L271.1,747.0 L272.6,748.1 L274.1,749.1 L275.6,750.2 L277.1,751.2 L278.6,752.3 L280.1,753.4 L281.7,754.5 L283.2,755.6 L284.7,756.7 L286.2,757.8 L287.7,758.9 L289.2,760.0 L290.7,761.2 L292.3,762.3 L293.8,763.5 L295.3,764.6 L296.8,765.8 L298.3,767.0 L299.8,768.2 L301.3,769.4 L302.8,770.6 L304.4,771.8 L305.9,773.1 L307.4,774.3 L308.9,775.5 L310.4,776.8 L311.9,778.1 L313.4,779.4 L314.9,780.6 L316.5,781.9 L318.0,783.2 L319.5,784.6 L321.0,785.9" fill="none" stroke="#4749A8" stroke-width="2.0" stroke-opacity="0.92" stroke-linejoin="round" stroke-linecap="round" filter="url(#fl)"/><path d="M42.6,669.2 L44.1,669.3 L45.6,669.5 L47.1,669.6 L48.6,669.8 L50.1,670.0 L51.7,670.2 L53.2,670.4 L54.7,670.6 L56.2,670.9 L57.7,671.1 L59.2,671.4 L60.7,671.6 L62.2,671.9 L63.7,672.1 L65.2,672.4 L66.7,672.6 L68.2,672.9 L69.8,673.1 L71.3,673.3 L72.8,673.5 L74.3,673.7 L75.8,673.8 L77.3,674.0 L78.8,674.1 L80.3,674.1 L81.8,674.2 L83.3,674.2 L84.8,674.2 L86.4,674.2 L87.9,674.2 L89.4,674.1 L90.9,674.1 L92.4,674.0 L93.9,673.8 L95.4,673.7 L96.9,673.5 L98.4,673.4 L99.9,673.2 L101.4,673.0 L102.9,672.8 L104.5,672.5 L106.0,672.3 L107.5,672.0 L109.0,671.8 L110.5,671.5 L112.0,671.3 L113.5,671.0 L115.0,670.7 L116.5,670.5 L118.0,670.2 L119.5,670.0 L121.1,669.7 L122.6,669.5 L124.1,669.2 L125.6,669.0 L127.1,668.8 L128.6,668.6 L130.1,668.5 L131.6,668.3 L133.1,668.2 L134.6,668.1 L136.1,668.0 L137.6,668.0 L139.2,668.0 L140.7,668.0 L142.2,668.0 L143.7,668.1 L145.2,668.2 L146.7,668.4 L148.2,668.6 L149.7,668.8 L151.2,669.1 L152.7,669.4 L154.2,669.8 L155.8,670.2 L157.3,670.6 L158.8,671.1 L160.3,671.6 L161.8,672.2 L163.3,672.7 L164.8,673.3 L166.3,674.0 L167.8,674.6 L169.3,675.3 L170.8,676.0 L172.3,676.7 L173.9,677.5 L175.4,678.3 L176.9,679.0 L178.4,679.8 L179.9,680.7 L181.4,681.5 L182.9,682.3 L184.4,683.2 L185.9,684.0 L187.4,684.9 L188.9,685.7 L190.5,686.6 L192.0,687.5 L193.5,688.3 L195.0,689.2 L196.5,690.1 L198.0,691.0 L199.5,691.9 L201.0,692.7 L202.5,693.6 L204.0,694.5 L205.5,695.4 L207.0,696.3 L208.6,697.2 L210.1,698.1 L211.6,699.0 L213.1,699.9 L214.6,700.8 L216.1,701.6 L217.6,702.5 L219.1,703.4 L220.6,704.3 L222.1,705.2 L223.6,706.0 L225.1,706.9 L226.7,707.7 L228.2,708.6 L229.7,709.4 L231.2,710.3 L232.7,711.1 L234.2,712.0 L235.7,712.8 L237.2,713.6 L238.7,714.4 L240.2,715.2 L241.7,716.0 L243.3,716.8 L244.8,717.5 L246.3,718.3 L247.8,719.0 L249.3,719.8 L250.8,720.5 L252.3,721.2 L253.8,721.9 L255.3,722.6 L256.8,723.3 L258.3,723.9 L259.8,724.6 L261.4,725.2 L262.9,725.8 L264.4,726.4 L265.9,727.0 L267.4,727.6 L268.9,728.2 L270.4,728.7 L271.9,729.2 L273.4,729.7 L274.9,730.2 L276.4,730.7 L278.0,731.1 L279.5,731.6 L281.0,732.0 L282.5,732.4 L284.0,732.8 L285.5,733.1 L287.0,733.5 L288.5,733.8 L290.0,734.1 L291.5,734.4 L293.0,734.7 L294.5,734.9 L296.1,735.1 L297.6,735.4 L299.1,735.6 L300.6,735.8 L302.1,735.9 L303.6,736.1 L305.1,736.2 L306.6,736.3 L308.1,736.4 L309.6,736.5 L311.1,736.6 L312.7,736.7 L314.2,736.7 L315.7,736.7 L317.2,736.8 L318.7,736.8 L320.2,736.8 L321.7,736.8 L323.2,736.7 L324.7,736.7 L326.2,736.6 L327.7,736.6 L329.2,736.5 L330.8,736.4 L332.3,736.3 L333.8,736.2 L335.3,736.1 L336.8,736.0 L338.3,735.9 L339.8,735.8 L341.3,735.6 L342.8,735.5 L344.3,735.3 L345.8,735.2 L347.4,735.0 L348.9,734.9 L350.4,734.7 L351.9,734.5 L353.4,734.3 L354.9,734.2 L356.4,734.0 L357.9,733.8 L359.4,733.6 L360.9,733.4 L362.4,733.2 L363.9,733.0 L365.5,732.8 L367.0,732.6 L368.5,732.4 L370.0,732.2 L371.5,732.1 L373.0,731.9 L373.0,864.3 L371.5,862.5 L370.0,860.7 L368.5,858.9 L367.0,857.1 L365.5,855.3 L363.9,853.5 L362.4,851.7 L360.9,850.0 L359.4,848.2 L357.9,846.5 L356.4,844.7 L354.9,843.0 L353.4,841.3 L351.9,839.6 L350.4,837.9 L348.9,836.2 L347.4,834.5 L345.8,832.8 L344.3,831.1 L342.8,829.5 L341.3,827.8 L339.8,826.2 L338.3,824.5 L336.8,822.9 L335.3,821.3 L333.8,819.7 L332.3,818.1 L330.8,816.5 L329.2,814.9 L327.7,813.3 L326.2,811.7 L324.7,810.2 L323.2,808.6 L321.7,807.1 L320.2,805.5 L318.7,804.0 L317.2,802.5 L315.7,801.0 L314.2,799.5 L312.7,798.0 L311.1,796.5 L309.6,795.0 L308.1,793.5 L306.6,792.0 L305.1,790.6 L303.6,789.1 L302.1,787.7 L300.6,786.3 L299.1,784.9 L297.6,783.4 L296.1,782.0 L294.5,780.6 L293.0,779.2 L291.5,777.9 L290.0,776.5 L288.5,775.1 L287.0,773.7 L285.5,772.4 L284.0,771.0 L282.5,769.7 L281.0,768.3 L279.5,767.0 L278.0,765.7 L276.4,764.3 L274.9,763.0 L273.4,761.7 L271.9,760.4 L270.4,759.0 L268.9,757.7 L267.4,756.4 L265.9,755.1 L264.4,753.8 L262.9,752.5 L261.4,751.2 L259.8,750.0 L258.3,748.7 L256.8,747.4 L255.3,746.1 L253.8,744.9 L252.3,743.6 L250.8,742.4 L249.3,741.1 L247.8,739.9 L246.3,738.7 L244.8,737.5 L243.3,736.2 L241.7,735.0 L240.2,733.8 L238.7,732.6 L237.2,731.5 L235.7,730.3 L234.2,729.1 L232.7,728.0 L231.2,726.8 L229.7,725.7 L228.2,724.6 L226.7,723.4 L225.1,722.3 L223.6,721.2 L222.1,720.1 L220.6,719.0 L219.1,718.0 L217.6,716.9 L216.1,715.9 L214.6,714.8 L213.1,713.8 L211.6,712.8 L210.1,711.8 L208.6,710.8 L207.0,709.8 L205.5,708.8 L204.0,707.9 L202.5,706.9 L201.0,706.0 L199.5,705.1 L198.0,704.2 L196.5,703.3 L195.0,702.4 L193.5,701.5 L192.0,700.7 L190.5,699.8 L188.9,699.0 L187.4,698.2 L185.9,697.4 L184.4,696.6 L182.9,695.8 L181.4,695.1 L179.9,694.4 L178.4,693.6 L176.9,692.9 L175.4,692.3 L173.9,691.6 L172.3,691.0 L170.8,690.4 L169.3,689.8 L167.8,689.3 L166.3,688.8 L164.8,688.3 L163.3,687.9 L161.8,687.5 L160.3,687.1 L158.8,686.7 L157.3,686.4 L155.8,686.2 L154.2,686.0 L152.7,685.8 L151.2,685.6 L149.7,685.5 L148.2,685.5 L146.7,685.5 L145.2,685.5 L143.7,685.6 L142.2,685.7 L140.7,685.9 L139.2,686.0 L137.6,686.2 L136.1,686.5 L134.6,686.7 L133.1,687.0 L131.6,687.3 L130.1,687.6 L128.6,688.0 L127.1,688.3 L125.6,688.7 L124.1,689.1 L122.6,689.5 L121.1,689.9 L119.5,690.3 L118.0,690.7 L116.5,691.1 L115.0,691.5 L113.5,691.9 L112.0,692.2 L110.5,692.6 L109.0,693.0 L107.5,693.4 L106.0,693.7 L104.5,694.0 L102.9,694.3 L101.4,694.6 L99.9,694.9 L98.4,695.1 L96.9,695.3 L95.4,695.5 L93.9,695.7 L92.4,695.8 L90.9,695.9 L89.4,696.0 L87.9,696.0 L86.4,696.0 L84.8,696.0 L83.3,695.9 L81.8,695.8 L80.3,695.7 L78.8,695.5 L77.3,695.3 L75.8,695.0 L74.3,694.7 L72.8,694.4 L71.3,694.0 L69.8,693.6 L68.2,693.2 L66.7,692.8 L65.2,692.3 L63.7,691.8 L62.2,691.3 L60.7,690.7 L59.2,690.2 L57.7,689.6 L56.2,689.0 L54.7,688.4 L53.2,687.8 L51.7,687.2 L50.1,686.6 L48.6,686.0 L47.1,685.3 L45.6,684.7 L44.1,684.1 L42.6,683.5Z" fill="#00BA38" fill-opacity="0.4" filter="url(#fb)"/><path d="M42.6,676.4 L44.1,676.7 L45.6,677.1 L47.1,677.5 L48.6,677.9 L50.1,678.3 L51.7,678.7 L53.2,679.1 L54.7,679.5 L56.2,679.9 L57.7,680.3 L59.2,680.8 L60.7,681.2 L62.2,681.6 L63.7,682.0 L65.2,682.3 L66.7,682.7 L68.2,683.0 L69.8,683.4 L71.3,683.7 L72.8,683.9 L74.3,684.2 L75.8,684.4 L77.3,684.6 L78.8,684.8 L80.3,684.9 L81.8,685.0 L83.3,685.1 L84.8,685.1 L86.4,685.1 L87.9,685.1 L89.4,685.1 L90.9,685.0 L92.4,684.9 L93.9,684.8 L95.4,684.6 L96.9,684.4 L98.4,684.3 L99.9,684.0 L101.4,683.8 L102.9,683.6 L104.5,683.3 L106.0,683.0 L107.5,682.7 L109.0,682.4 L110.5,682.1 L112.0,681.8 L113.5,681.4 L115.0,681.1 L116.5,680.8 L118.0,680.4 L119.5,680.1 L121.1,679.8 L122.6,679.5 L124.1,679.2 L125.6,678.9 L127.1,678.6 L128.6,678.3 L130.1,678.1 L131.6,677.8 L133.1,677.6 L134.6,677.4 L136.1,677.2 L137.6,677.1 L139.2,677.0 L140.7,676.9 L142.2,676.9 L143.7,676.9 L145.2,676.9 L146.7,676.9 L148.2,677.0 L149.7,677.2 L151.2,677.4 L152.7,677.6 L154.2,677.9 L155.8,678.2 L157.3,678.5 L158.8,678.9 L160.3,679.3 L161.8,679.8 L163.3,680.3 L164.8,680.8 L166.3,681.4 L167.8,682.0 L169.3,682.6 L170.8,683.2 L172.3,683.9 L173.9,684.6 L175.4,685.3 L176.9,686.0 L178.4,686.7 L179.9,687.5 L181.4,688.3 L182.9,689.1 L184.4,689.9 L185.9,690.7 L187.4,691.5 L188.9,692.4 L190.5,693.2 L192.0,694.1 L193.5,694.9 L195.0,695.8 L196.5,696.7 L198.0,697.6 L199.5,698.5 L201.0,699.4 L202.5,700.3 L204.0,701.2 L205.5,702.1 L207.0,703.1 L208.6,704.0 L210.1,704.9 L211.6,705.9 L213.1,706.8 L214.6,707.8 L216.1,708.8 L217.6,709.7 L219.1,710.7 L220.6,711.7 L222.1,712.6 L223.6,713.6 L225.1,714.6 L226.7,715.6 L228.2,716.6 L229.7,717.6 L231.2,718.6 L232.7,719.5 L234.2,720.5 L235.7,721.5 L237.2,722.5 L238.7,723.5 L240.2,724.5 L241.7,725.5 L243.3,726.5 L244.8,727.5 L246.3,728.5 L247.8,729.5 L249.3,730.5 L250.8,731.4 L252.3,732.4 L253.8,733.4 L255.3,734.4 L256.8,735.3 L258.3,736.3 L259.8,737.3 L261.4,738.2 L262.9,739.2 L264.4,740.1 L265.9,741.1 L267.4,742.0 L268.9,742.9 L270.4,743.9 L271.9,744.8 L273.4,745.7 L274.9,746.6 L276.4,747.5 L278.0,748.4 L279.5,749.3 L281.0,750.2 L282.5,751.0 L284.0,751.9 L285.5,752.8 L287.0,753.6 L288.5,754.4 L290.0,755.3 L291.5,756.1 L293.0,757.0 L294.5,757.8 L296.1,758.6 L297.6,759.4 L299.1,760.2 L300.6,761.0 L302.1,761.8 L303.6,762.6 L305.1,763.4 L306.6,764.2 L308.1,765.0 L309.6,765.8 L311.1,766.5 L312.7,767.3 L314.2,768.1 L315.7,768.9 L317.2,769.6 L318.7,770.4 L320.2,771.1 L321.7,771.9 L323.2,772.7 L324.7,773.4 L326.2,774.2 L327.7,774.9 L329.2,775.7 L330.8,776.5 L332.3,777.2 L333.8,778.0 L335.3,778.7 L336.8,779.5 L338.3,780.2 L339.8,781.0 L341.3,781.7 L342.8,782.5 L344.3,783.2 L345.8,784.0 L347.4,784.8 L348.9,785.5 L350.4,786.3 L351.9,787.0 L353.4,787.8 L354.9,788.6 L356.4,789.4 L357.9,790.1 L359.4,790.9 L360.9,791.7 L362.4,792.5 L363.9,793.3 L365.5,794.1 L367.0,794.9 L368.5,795.7 L370.0,796.5 L371.5,797.3 L373.0,798.1" fill="none" stroke="#2F5AB5" stroke-width="2.0" stroke-opacity="0.92" stroke-linejoin="round" stroke-linecap="round" filter="url(#fl)"/><path d="M42.6,668.1 L44.1,667.2 L45.6,666.3 L47.1,665.5 L48.7,664.6 L50.2,663.7 L51.7,662.9 L53.2,662.0 L54.7,661.1 L56.2,660.2 L57.7,659.2 L59.2,658.2 L60.8,657.2 L62.3,656.1 L63.8,655.0 L65.3,653.8 L66.8,652.5 L68.3,651.2 L69.8,649.9 L71.3,648.7 L72.9,647.7 L74.4,646.9 L75.9,646.4 L77.4,646.2 L78.9,646.4 L80.4,646.9 L81.9,647.7 L83.4,648.8 L85.0,650.1 L86.5,651.6 L88.0,653.3 L89.5,655.0 L91.0,656.8 L92.5,658.6 L94.0,660.3 L95.5,662.0 L97.1,663.5 L98.6,664.9 L100.1,666.0 L101.6,667.0 L103.1,667.8 L104.6,668.4 L106.1,668.9 L107.6,669.2 L109.2,669.5 L110.7,669.7 L112.2,669.8 L113.7,669.8 L115.2,669.8 L116.7,669.8 L118.2,669.8 L119.8,669.8 L121.3,669.9 L122.8,669.9 L124.3,670.0 L125.8,670.0 L127.3,670.1 L128.8,670.2 L130.3,670.3 L131.9,670.4 L133.4,670.6 L134.9,670.7 L136.4,670.9 L137.9,671.0 L139.4,671.2 L140.9,671.4 L142.4,671.6 L144.0,671.8 L145.5,672.1 L147.0,672.3 L148.5,672.6 L150.0,672.9 L151.5,673.1 L153.0,673.4 L154.5,673.7 L156.1,674.1 L157.6,674.4 L159.1,674.8 L160.6,675.1 L162.1,675.5 L163.6,675.9 L165.1,676.4 L166.6,676.8 L168.2,677.3 L169.7,677.8 L171.2,678.3 L172.7,678.8 L174.2,679.4 L175.7,680.0 L177.2,680.6 L178.7,681.2 L180.3,681.9 L181.8,682.5 L183.3,683.2 L184.8,683.9 L186.3,684.6 L187.8,685.3 L189.3,686.1 L190.9,686.9 L192.4,687.6 L193.9,688.4 L195.4,689.3 L196.9,690.1 L198.4,690.9 L199.9,691.8 L201.4,692.7 L203.0,693.6 L204.5,694.4 L206.0,695.4 L207.5,696.3 L209.0,697.2 L210.5,698.2 L212.0,699.1 L213.5,700.1 L215.1,701.0 L216.6,702.0 L218.1,703.0 L219.6,703.9 L221.1,704.9 L222.6,705.9 L224.1,706.8 L225.6,707.8 L227.2,708.7 L228.7,709.6 L230.2,710.6 L231.7,711.5 L233.2,712.4 L234.7,713.3 L236.2,714.1 L237.7,715.0 L239.3,715.8 L240.8,716.6 L242.3,717.4 L243.8,718.2 L245.3,719.0 L246.8,719.7 L248.3,720.4 L249.8,721.1 L251.4,721.8 L252.9,722.4 L254.4,723.0 L255.9,723.6 L257.4,724.2 L258.9,724.8 L260.4,725.3 L262.0,725.9 L263.5,726.4 L265.0,726.8 L266.5,727.3 L268.0,727.7 L269.5,728.2 L271.0,728.6 L272.5,728.9 L274.1,729.3 L275.6,729.6 L277.1,729.9 L278.6,730.2 L280.1,730.5 L281.6,730.7 L283.1,731.0 L284.6,731.2 L286.2,731.3 L287.7,731.5 L289.2,731.6 L290.7,731.8 L292.2,731.9 L293.7,732.0 L295.2,732.1 L296.7,732.2 L298.3,732.3 L299.8,732.3 L301.3,732.4 L302.8,732.5 L304.3,732.6 L305.8,732.6 L307.3,732.7 L308.8,732.8 L310.4,732.9 L311.9,733.0 L313.4,733.1 L314.9,733.3 L316.4,733.4 L317.9,733.6 L319.4,733.8 L320.9,734.0 L322.5,734.2 L324.0,734.5 L325.5,734.7 L327.0,735.1 L327.0,877.4 L325.5,875.3 L324.0,873.2 L322.5,871.1 L320.9,868.9 L319.4,866.7 L317.9,864.4 L316.4,862.2 L314.9,859.9 L313.4,857.6 L311.9,855.3 L310.4,853.0 L308.8,850.7 L307.3,848.3 L305.8,846.0 L304.3,843.6 L302.8,841.3 L301.3,838.9 L299.8,836.6 L298.3,834.2 L296.7,831.8 L295.2,829.5 L293.7,827.2 L292.2,824.8 L290.7,822.5 L289.2,820.2 L287.7,817.9 L286.2,815.7 L284.6,813.4 L283.1,811.2 L281.6,809.0 L280.1,806.8 L278.6,804.7 L277.1,802.6 L275.6,800.5 L274.1,798.4 L272.5,796.3 L271.0,794.3 L269.5,792.3 L268.0,790.3 L266.5,788.4 L265.0,786.4 L263.5,784.5 L262.0,782.6 L260.4,780.8 L258.9,779.0 L257.4,777.2 L255.9,775.4 L254.4,773.6 L252.9,771.9 L251.4,770.2 L249.8,768.6 L248.3,766.9 L246.8,765.3 L245.3,763.7 L243.8,762.2 L242.3,760.7 L240.8,759.2 L239.3,757.7 L237.7,756.2 L236.2,754.8 L234.7,753.4 L233.2,752.1 L231.7,750.7 L230.2,749.4 L228.7,748.1 L227.2,746.8 L225.6,745.6 L224.1,744.3 L222.6,743.1 L221.1,741.9 L219.6,740.7 L218.1,739.5 L216.6,738.3 L215.1,737.1 L213.5,735.9 L212.0,734.8 L210.5,733.6 L209.0,732.5 L207.5,731.3 L206.0,730.2 L204.5,729.1 L203.0,727.9 L201.4,726.8 L199.9,725.6 L198.4,724.5 L196.9,723.3 L195.4,722.2 L193.9,721.0 L192.4,719.9 L190.9,718.8 L189.3,717.7 L187.8,716.6 L186.3,715.5 L184.8,714.4 L183.3,713.3 L181.8,712.3 L180.3,711.3 L178.7,710.3 L177.2,709.3 L175.7,708.3 L174.2,707.4 L172.7,706.5 L171.2,705.6 L169.7,704.8 L168.2,704.0 L166.6,703.2 L165.1,702.5 L163.6,701.7 L162.1,701.1 L160.6,700.4 L159.1,699.8 L157.6,699.3 L156.1,698.7 L154.5,698.2 L153.0,697.8 L151.5,697.4 L150.0,697.0 L148.5,696.6 L147.0,696.3 L145.5,696.1 L144.0,695.8 L142.4,695.6 L140.9,695.5 L139.4,695.3 L137.9,695.2 L136.4,695.2 L134.9,695.1 L133.4,695.1 L131.9,695.1 L130.3,695.2 L128.8,695.3 L127.3,695.4 L125.8,695.5 L124.3,695.7 L122.8,695.8 L121.3,696.0 L119.8,696.3 L118.2,696.5 L116.7,696.8 L115.2,697.1 L113.7,697.4 L112.2,697.9 L110.7,698.4 L109.2,699.0 L107.6,699.7 L106.1,700.5 L104.6,701.4 L103.1,702.5 L101.6,703.7 L100.1,705.2 L98.6,706.7 L97.1,708.5 L95.5,710.4 L94.0,712.5 L92.5,714.5 L91.0,716.6 L89.5,718.6 L88.0,720.5 L86.5,722.3 L85.0,723.9 L83.4,725.2 L81.9,726.3 L80.4,726.9 L78.9,727.2 L77.4,727.1 L75.9,726.5 L74.4,725.5 L72.9,724.1 L71.3,722.5 L69.8,720.6 L68.3,718.6 L66.8,716.5 L65.3,714.4 L63.8,712.4 L62.3,710.3 L60.8,708.4 L59.2,706.4 L57.7,704.5 L56.2,702.7 L54.7,700.9 L53.2,699.1 L51.7,697.4 L50.2,695.8 L48.7,694.1 L47.1,692.6 L45.6,691.0 L44.1,689.6 L42.6,688.2Z" fill="#619CFF" fill-opacity="0.4" filter="url(#fb)"/><path d="M42.6,678.1 L44.1,678.4 L45.6,678.7 L47.1,679.0 L48.7,679.4 L50.2,679.7 L51.7,680.1 L53.2,680.6 L54.7,681.0 L56.2,681.4 L57.7,681.9 L59.2,682.3 L60.8,682.8 L62.3,683.2 L63.8,683.7 L65.3,684.1 L66.8,684.5 L68.3,684.9 L69.8,685.3 L71.3,685.6 L72.9,685.9 L74.4,686.2 L75.9,686.4 L77.4,686.6 L78.9,686.8 L80.4,686.9 L81.9,687.0 L83.4,687.0 L85.0,687.0 L86.5,687.0 L88.0,686.9 L89.5,686.8 L91.0,686.7 L92.5,686.6 L94.0,686.4 L95.5,686.2 L97.1,686.0 L98.6,685.8 L100.1,685.6 L101.6,685.4 L103.1,685.1 L104.6,684.9 L106.1,684.7 L107.6,684.5 L109.2,684.2 L110.7,684.0 L112.2,683.8 L113.7,683.6 L115.2,683.5 L116.7,683.3 L118.2,683.2 L119.8,683.0 L121.3,682.9 L122.8,682.9 L124.3,682.8 L125.8,682.8 L127.3,682.7 L128.8,682.7 L130.3,682.7 L131.9,682.8 L133.4,682.8 L134.9,682.9 L136.4,683.0 L137.9,683.1 L139.4,683.3 L140.9,683.4 L142.4,683.6 L144.0,683.8 L145.5,684.1 L147.0,684.3 L148.5,684.6 L150.0,684.9 L151.5,685.3 L153.0,685.6 L154.5,686.0 L156.1,686.4 L157.6,686.8 L159.1,687.3 L160.6,687.8 L162.1,688.3 L163.6,688.8 L165.1,689.4 L166.6,690.0 L168.2,690.6 L169.7,691.3 L171.2,692.0 L172.7,692.7 L174.2,693.4 L175.7,694.2 L177.2,694.9 L178.7,695.7 L180.3,696.6 L181.8,697.4 L183.3,698.3 L184.8,699.2 L186.3,700.0 L187.8,701.0 L189.3,701.9 L190.9,702.8 L192.4,703.8 L193.9,704.7 L195.4,705.7 L196.9,706.7 L198.4,707.7 L199.9,708.7 L201.4,709.7 L203.0,710.7 L204.5,711.8 L206.0,712.8 L207.5,713.8 L209.0,714.9 L210.5,715.9 L212.0,717.0 L213.5,718.0 L215.1,719.1 L216.6,720.1 L218.1,721.2 L219.6,722.3 L221.1,723.4 L222.6,724.5 L224.1,725.6 L225.6,726.7 L227.2,727.8 L228.7,728.9 L230.2,730.0 L231.7,731.1 L233.2,732.2 L234.7,733.4 L236.2,734.5 L237.7,735.6 L239.3,736.8 L240.8,737.9 L242.3,739.0 L243.8,740.2 L245.3,741.4 L246.8,742.5 L248.3,743.7 L249.8,744.8 L251.4,746.0 L252.9,747.2 L254.4,748.3 L255.9,749.5 L257.4,750.7 L258.9,751.9 L260.4,753.1 L262.0,754.3 L263.5,755.4 L265.0,756.6 L266.5,757.8 L268.0,759.0 L269.5,760.2 L271.0,761.4 L272.5,762.6 L274.1,763.8 L275.6,765.0 L277.1,766.2 L278.6,767.4 L280.1,768.7 L281.6,769.9 L283.1,771.1 L284.6,772.3 L286.2,773.5 L287.7,774.7 L289.2,775.9 L290.7,777.1 L292.2,778.4 L293.7,779.6 L295.2,780.8 L296.7,782.0 L298.3,783.2 L299.8,784.4 L301.3,785.7 L302.8,786.9 L304.3,788.1 L305.8,789.3 L307.3,790.5 L308.8,791.7 L310.4,793.0 L311.9,794.2 L313.4,795.4 L314.9,796.6 L316.4,797.8 L317.9,799.0 L319.4,800.2 L320.9,801.4 L322.5,802.6 L324.0,803.8 L325.5,805.0 L327.0,806.2" fill="none" stroke="#3453C4" stroke-width="2.0" stroke-opacity="0.92" stroke-linejoin="round" stroke-linecap="round" filter="url(#fl)"/></g><g filter="url(#ft)"><line x1="104.4" y1="889.8" x2="104.4" y2="892" stroke="#333" stroke-width="0.8"/><text x="104.4" y="898.2" font-size="6.8" fill="#4D4D4D" text-anchor="middle">0</text><line x1="184.2" y1="889.8" x2="184.2" y2="892" stroke="#333" stroke-width="0.8"/><text x="184.2" y="898.2" font-size="6.8" fill="#4D4D4D" text-anchor="middle">1</text><line x1="264" y1="889.8" x2="264" y2="892" stroke="#333" stroke-width="0.8"/><text x="264" y="898.2" font-size="6.8" fill="#4D4D4D" text-anchor="middle">2</text><line x1="343.8" y1="889.8" x2="343.8" y2="892" stroke="#333" stroke-width="0.8"/><text x="343.8" y="898.2" font-size="6.8" fill="#4D4D4D" text-anchor="middle">3</text><line x1="23.9" y1="848.2" x2="26.1" y2="848.2" stroke="#333" stroke-width="0.8"/><text x="22.7" y="850.7" font-size="6.8" fill="#4D4D4D" text-anchor="end">-3</text><line x1="23.9" y1="794.7" x2="26.1" y2="794.7" stroke="#333" stroke-width="0.8"/><text x="22.7" y="797.2" font-size="6.8" fill="#4D4D4D" text-anchor="end">-2</text><line x1="23.9" y1="741.2" x2="26.1" y2="741.2" stroke="#333" stroke-width="0.8"/><text x="22.7" y="743.7" font-size="6.8" fill="#4D4D4D" text-anchor="end">-1</text><line x1="23.9" y1="687.7" x2="26.1" y2="687.7" stroke="#333" stroke-width="0.8"/><text x="22.7" y="690.2" font-size="6.8" fill="#4D4D4D" text-anchor="end">0</text><text x="208.3" y="908.9" font-size="9.1" textLength="97" lengthAdjust="spacingAndGlyphs" fill="#000" stroke="#000" stroke-width="0.3" text-anchor="middle">Maternal Hydroxycotinine</text><text transform="translate(11.3,762.4) rotate(-90)" font-size="8.6" fill="#000" stroke="#000" stroke-width="0.3" text-anchor="middle">AHRR</text><text x="4.8" y="642.9" font-size="11.5" font-weight="bold" fill="#000">E</text><text x="132.7" y="932.9" font-size="7.8" textLength="62.4" lengthAdjust="spacingAndGlyphs" fill="#000" stroke="#000" stroke-width="0.25">Vitamin B12 Status</text><rect x="197.1" y="923.7" width="13" height="12.8" fill="#F2F2F2"/><line x1="197.9" y1="930.1" x2="209.3" y2="930.1" stroke="#3352CC" stroke-width="2.2"/><rect x="197.1" y="923.7" width="13" height="12.8" fill="#F8766D" fill-opacity="0.4"/><text x="213.5" y="932.2" font-size="5.8" textLength="7.3" lengthAdjust="spacingAndGlyphs" fill="#222" stroke="#222" stroke-width="0.15">Q1</text><rect x="225.4" y="923.7" width="13" height="12.8" fill="#F2F2F2"/><line x1="226.2" y1="930.1" x2="237.6" y2="930.1" stroke="#3352CC" stroke-width="2.2"/><rect x="225.4" y="923.7" width="13" height="12.8" fill="#00BA38" fill-opacity="0.4"/><text x="241.8" y="932.2" font-size="5.8" textLength="12.2" lengthAdjust="spacingAndGlyphs" fill="#222" stroke="#222" stroke-width="0.15">Q2-3</text><rect x="259.6" y="923.7" width="13" height="12.8" fill="#F2F2F2"/><line x1="260.4" y1="930.1" x2="271.8" y2="930.1" stroke="#3352CC" stroke-width="2.2"/><rect x="259.6" y="923.7" width="13" height="12.8" fill="#619CFF" fill-opacity="0.4"/><text x="276" y="932.2" font-size="5.8" textLength="7.3" lengthAdjust="spacingAndGlyphs" fill="#222" stroke="#222" stroke-width="0.15">Q4</text></g></g>
<clipPath id="clipF"><rect x="419.4" y="635.1" width="364.4" height="254.7"/></clipPath>
<g><g filter="url(#fb)"><rect x="419.4" y="635.1" width="364.4" height="254.7" fill="#EBEBEB"/><line x1="457.8" y1="635.1" x2="457.8" y2="889.8" stroke="#F3F3F3" stroke-width="1.0"/><line x1="537.6" y1="635.1" x2="537.6" y2="889.8" stroke="#F3F3F3" stroke-width="1.0"/><line x1="617.4" y1="635.1" x2="617.4" y2="889.8" stroke="#F3F3F3" stroke-width="1.0"/><line x1="697.2" y1="635.1" x2="697.2" y2="889.8" stroke="#F3F3F3" stroke-width="1.0"/><line x1="777" y1="635.1" x2="777" y2="889.8" stroke="#F3F3F3" stroke-width="1.0"/><line x1="419.4" y1="857.9" x2="783.8" y2="857.9" stroke="#F3F3F3" stroke-width="1.0"/><line x1="419.4" y1="811.6" x2="783.8" y2="811.6" stroke="#F3F3F3" stroke-width="1.0"/><line x1="419.4" y1="765.3" x2="783.8" y2="765.3" stroke="#F3F3F3" stroke-width="1.0"/><line x1="419.4" y1="719" x2="783.8" y2="719" stroke="#F3F3F3" stroke-width="1.0"/><line x1="419.4" y1="672.8" x2="783.8" y2="672.8" stroke="#F3F3F3" stroke-width="1.0"/><line x1="497.7" y1="635.1" x2="497.7" y2="889.8" stroke="#FFFFFF" stroke-width="1.4"/><line x1="577.5" y1="635.1" x2="577.5" y2="889.8" stroke="#FFFFFF" stroke-width="1.4"/><line x1="657.3" y1="635.1" x2="657.3" y2="889.8" stroke="#FFFFFF" stroke-width="1.4"/><line x1="737.1" y1="635.1" x2="737.1" y2="889.8" stroke="#FFFFFF" stroke-width="1.4"/><line x1="419.4" y1="881.1" x2="783.8" y2="881.1" stroke="#FFFFFF" stroke-width="1.4"/><line x1="419.4" y1="834.8" x2="783.8" y2="834.8" stroke="#FFFFFF" stroke-width="1.4"/><line x1="419.4" y1="788.5" x2="783.8" y2="788.5" stroke="#FFFFFF" stroke-width="1.4"/><line x1="419.4" y1="742.2" x2="783.8" y2="742.2" stroke="#FFFFFF" stroke-width="1.4"/><line x1="419.4" y1="695.9" x2="783.8" y2="695.9" stroke="#FFFFFF" stroke-width="1.4"/><line x1="419.4" y1="649.6" x2="783.8" y2="649.6" stroke="#FFFFFF" stroke-width="1.4"/></g><g clip-path="url(#clipF)"><path d="M436.6,680.3 L438.1,678.8 L439.6,677.4 L441.1,676.1 L442.6,674.7 L444.2,673.4 L445.7,672.2 L447.2,670.9 L448.7,669.8 L450.2,668.6 L451.7,667.6 L453.2,666.6 L454.7,665.6 L456.2,664.8 L457.8,664.0 L459.3,663.2 L460.8,662.6 L462.3,662.1 L463.8,661.6 L465.3,661.3 L466.8,661.1 L468.3,660.9 L469.9,660.9 L471.4,661.0 L472.9,661.3 L474.4,661.6 L475.9,662.1 L477.4,662.6 L478.9,663.3 L480.4,664.0 L481.9,664.7 L483.5,665.5 L485.0,666.3 L486.5,667.1 L488.0,667.9 L489.5,668.6 L491.0,669.4 L492.5,670.0 L494.0,670.6 L495.5,671.1 L497.1,671.5 L498.6,671.8 L500.1,672.1 L501.6,672.2 L503.1,672.3 L504.6,672.3 L506.1,672.3 L507.6,672.2 L509.1,672.1 L510.7,672.0 L512.2,671.8 L513.7,671.6 L515.2,671.4 L516.7,671.2 L518.2,670.9 L519.7,670.7 L521.2,670.5 L522.8,670.4 L524.3,670.2 L525.8,670.1 L527.3,670.0 L528.8,669.9 L530.3,669.8 L531.8,669.8 L533.3,669.8 L534.8,669.8 L536.4,669.8 L537.9,669.9 L539.4,670.0 L540.9,670.1 L542.4,670.3 L543.9,670.5 L545.4,670.7 L546.9,671.0 L548.4,671.3 L550.0,671.7 L551.5,672.1 L553.0,672.5 L554.5,673.0 L556.0,673.5 L557.5,674.0 L559.0,674.6 L560.5,675.2 L562.0,675.8 L563.6,676.4 L565.1,677.1 L566.6,677.8 L568.1,678.5 L569.6,679.2 L571.1,679.9 L572.6,680.7 L574.1,681.5 L575.7,682.2 L577.2,683.0 L578.7,683.8 L580.2,684.6 L581.7,685.4 L583.2,686.2 L584.7,687.0 L586.2,687.8 L587.7,688.6 L589.3,689.4 L590.8,690.2 L592.3,691.0 L593.8,691.7 L595.3,692.5 L596.8,693.2 L598.3,693.9 L599.8,694.6 L601.3,695.3 L602.9,696.0 L604.4,696.6 L605.9,697.2 L607.4,697.9 L608.9,698.5 L610.4,699.0 L611.9,699.6 L613.4,700.2 L614.9,700.7 L616.5,701.3 L618.0,701.8 L619.5,702.4 L621.0,702.9 L622.5,703.4 L624.0,703.9 L625.5,704.4 L627.0,704.9 L628.5,705.4 L630.1,705.9 L631.6,706.4 L633.1,706.8 L634.6,707.3 L636.1,707.8 L637.6,708.3 L639.1,708.8 L640.6,709.2 L642.2,709.7 L643.7,710.2 L645.2,710.7 L646.7,711.2 L648.2,711.6 L649.7,712.1 L651.2,712.6 L652.7,713.1 L654.2,713.5 L655.8,714.0 L657.3,714.4 L658.8,714.9 L660.3,715.3 L661.8,715.8 L663.3,716.2 L664.8,716.6 L666.3,717.0 L667.8,717.5 L669.4,717.9 L670.9,718.2 L672.4,718.6 L673.9,719.0 L675.4,719.4 L676.9,719.7 L678.4,720.1 L679.9,720.4 L681.4,720.7 L683.0,721.0 L684.5,721.3 L686.0,721.6 L687.5,721.9 L689.0,722.1 L690.5,722.4 L692.0,722.6 L693.5,722.8 L695.1,723.0 L696.6,723.2 L698.1,723.3 L699.6,723.5 L701.1,723.6 L702.6,723.7 L704.1,723.8 L705.6,723.9 L707.1,723.9 L708.7,723.9 L710.2,724.0 L711.7,723.9 L713.2,723.9 L714.7,723.9 L714.7,822.3 L713.2,818.8 L711.7,815.6 L710.2,812.4 L708.7,809.5 L707.1,806.7 L705.6,804.0 L704.1,801.5 L702.6,799.1 L701.1,796.8 L699.6,794.6 L698.1,792.5 L696.6,790.5 L695.1,788.6 L693.5,786.8 L692.0,785.0 L690.5,783.3 L689.0,781.7 L687.5,780.1 L686.0,778.5 L684.5,777.0 L683.0,775.5 L681.4,774.0 L679.9,772.5 L678.4,771.0 L676.9,769.5 L675.4,768.0 L673.9,766.6 L672.4,765.1 L670.9,763.6 L669.4,762.2 L667.8,760.7 L666.3,759.3 L664.8,757.9 L663.3,756.5 L661.8,755.1 L660.3,753.7 L658.8,752.3 L657.3,751.0 L655.8,749.6 L654.2,748.3 L652.7,747.0 L651.2,745.7 L649.7,744.5 L648.2,743.2 L646.7,742.0 L645.2,740.8 L643.7,739.7 L642.2,738.5 L640.6,737.4 L639.1,736.3 L637.6,735.3 L636.1,734.2 L634.6,733.2 L633.1,732.2 L631.6,731.3 L630.1,730.3 L628.5,729.4 L627.0,728.5 L625.5,727.6 L624.0,726.8 L622.5,725.9 L621.0,725.1 L619.5,724.3 L618.0,723.4 L616.5,722.6 L614.9,721.8 L613.4,721.0 L611.9,720.2 L610.4,719.3 L608.9,718.5 L607.4,717.7 L605.9,716.9 L604.4,716.0 L602.9,715.2 L601.3,714.3 L599.8,713.4 L598.3,712.5 L596.8,711.6 L595.3,710.7 L593.8,709.7 L592.3,708.8 L590.8,707.9 L589.3,707.0 L587.7,706.1 L586.2,705.3 L584.7,704.5 L583.2,703.7 L581.7,703.1 L580.2,702.4 L578.7,701.9 L577.2,701.4 L575.7,701.0 L574.1,700.6 L572.6,700.2 L571.1,700.0 L569.6,699.7 L568.1,699.5 L566.6,699.2 L565.1,699.0 L563.6,698.8 L562.0,698.6 L560.5,698.4 L559.0,698.2 L557.5,698.0 L556.0,697.8 L554.5,697.6 L553.0,697.4 L551.5,697.2 L550.0,697.0 L548.4,696.8 L546.9,696.6 L545.4,696.5 L543.9,696.3 L542.4,696.1 L540.9,696.0 L539.4,695.8 L537.9,695.7 L536.4,695.5 L534.8,695.4 L533.3,695.3 L531.8,695.2 L530.3,695.2 L528.8,695.1 L527.3,695.1 L525.8,695.1 L524.3,695.1 L522.8,695.1 L521.2,695.1 L519.7,695.2 L518.2,695.3 L516.7,695.4 L515.2,695.6 L513.7,695.9 L512.2,696.2 L510.7,696.6 L509.1,697.2 L507.6,697.9 L506.1,698.7 L504.6,699.8 L503.1,700.9 L501.6,702.3 L500.1,703.7 L498.6,705.3 L497.1,706.8 L495.5,708.3 L494.0,709.8 L492.5,711.2 L491.0,712.5 L489.5,713.8 L488.0,715.0 L486.5,716.1 L485.0,717.2 L483.5,718.1 L481.9,719.0 L480.4,719.7 L478.9,720.3 L477.4,720.8 L475.9,721.1 L474.4,721.3 L472.9,721.2 L471.4,721.0 L469.9,720.6 L468.3,720.0 L466.8,719.3 L465.3,718.4 L463.8,717.4 L462.3,716.3 L460.8,715.1 L459.3,713.9 L457.8,712.6 L456.2,711.2 L454.7,709.8 L453.2,708.4 L451.7,707.1 L450.2,705.7 L448.7,704.4 L447.2,703.1 L445.7,701.9 L444.2,700.8 L442.6,699.8 L441.1,698.9 L439.6,698.1 L438.1,697.5 L436.6,697.0Z" fill="#F8766D" fill-opacity="0.4" filter="url(#fb)"/><path d="M436.6,687.8 L438.1,687.4 L439.6,687.1 L441.1,686.7 L442.6,686.4 L444.2,686.2 L445.7,685.9 L447.2,685.7 L448.7,685.5 L450.2,685.4 L451.7,685.2 L453.2,685.1 L454.7,685.1 L456.2,685.0 L457.8,685.0 L459.3,685.1 L460.8,685.2 L462.3,685.3 L463.8,685.4 L465.3,685.6 L466.8,685.8 L468.3,686.0 L469.9,686.3 L471.4,686.6 L472.9,686.9 L474.4,687.3 L475.9,687.7 L477.4,688.0 L478.9,688.4 L480.4,688.7 L481.9,688.9 L483.5,689.1 L485.0,689.3 L486.5,689.3 L488.0,689.3 L489.5,689.1 L491.0,688.8 L492.5,688.5 L494.0,688.1 L495.5,687.7 L497.1,687.3 L498.6,686.8 L500.1,686.4 L501.6,685.9 L503.1,685.5 L504.6,685.2 L506.1,684.8 L507.6,684.5 L509.1,684.2 L510.7,683.9 L512.2,683.7 L513.7,683.5 L515.2,683.3 L516.7,683.1 L518.2,682.9 L519.7,682.8 L521.2,682.7 L522.8,682.6 L524.3,682.5 L525.8,682.5 L527.3,682.5 L528.8,682.5 L530.3,682.5 L531.8,682.5 L533.3,682.6 L534.8,682.7 L536.4,682.8 L537.9,682.9 L539.4,683.1 L540.9,683.3 L542.4,683.5 L543.9,683.7 L545.4,683.9 L546.9,684.1 L548.4,684.4 L550.0,684.7 L551.5,685.0 L553.0,685.3 L554.5,685.7 L556.0,686.0 L557.5,686.4 L559.0,686.8 L560.5,687.2 L562.0,687.6 L563.6,688.1 L565.1,688.6 L566.6,689.0 L568.1,689.5 L569.6,690.0 L571.1,690.6 L572.6,691.1 L574.1,691.7 L575.7,692.2 L577.2,692.8 L578.7,693.4 L580.2,694.0 L581.7,694.6 L583.2,695.2 L584.7,695.9 L586.2,696.5 L587.7,697.2 L589.3,697.9 L590.8,698.6 L592.3,699.3 L593.8,700.0 L595.3,700.7 L596.8,701.4 L598.3,702.1 L599.8,702.9 L601.3,703.6 L602.9,704.4 L604.4,705.1 L605.9,705.9 L607.4,706.6 L608.9,707.4 L610.4,708.2 L611.9,709.0 L613.4,709.8 L614.9,710.6 L616.5,711.4 L618.0,712.2 L619.5,713.0 L621.0,713.8 L622.5,714.6 L624.0,715.4 L625.5,716.2 L627.0,717.0 L628.5,717.8 L630.1,718.6 L631.6,719.5 L633.1,720.3 L634.6,721.1 L636.1,721.9 L637.6,722.7 L639.1,723.5 L640.6,724.3 L642.2,725.1 L643.7,725.9 L645.2,726.7 L646.7,727.5 L648.2,728.4 L649.7,729.2 L651.2,730.0 L652.7,730.8 L654.2,731.6 L655.8,732.5 L657.3,733.3 L658.8,734.1 L660.3,735.0 L661.8,735.8 L663.3,736.7 L664.8,737.6 L666.3,738.4 L667.8,739.3 L669.4,740.2 L670.9,741.1 L672.4,742.1 L673.9,743.0 L675.4,743.9 L676.9,744.9 L678.4,745.9 L679.9,746.9 L681.4,747.9 L683.0,748.9 L684.5,749.9 L686.0,751.0 L687.5,752.0 L689.0,753.1 L690.5,754.2 L692.0,755.3 L693.5,756.5 L695.1,757.6 L696.6,758.8 L698.1,760.0 L699.6,761.3 L701.1,762.5 L702.6,763.8 L704.1,765.1 L705.6,766.4 L707.1,767.7 L708.7,769.1 L710.2,770.5 L711.7,771.9 L713.2,773.4 L714.7,774.9" fill="none" stroke="#4749A8" stroke-width="2.0" stroke-opacity="0.92" stroke-linejoin="round" stroke-linecap="round" filter="url(#fl)"/><path d="M436.6,675.2 L438.1,675.1 L439.6,675.0 L441.1,674.9 L442.6,674.8 L444.1,674.8 L445.6,674.7 L447.2,674.7 L448.7,674.7 L450.2,674.8 L451.7,674.8 L453.2,674.9 L454.7,674.9 L456.2,675.1 L457.7,675.2 L459.2,675.3 L460.7,675.5 L462.2,675.6 L463.7,675.8 L465.2,676.0 L466.7,676.2 L468.3,676.4 L469.8,676.6 L471.3,676.9 L472.8,677.1 L474.3,677.4 L475.8,677.7 L477.3,678.0 L478.8,678.3 L480.3,678.6 L481.8,678.9 L483.3,679.2 L484.8,679.5 L486.3,679.9 L487.8,680.2 L489.4,680.5 L490.9,680.9 L492.4,681.2 L493.9,681.6 L495.4,681.9 L496.9,682.3 L498.4,682.6 L499.9,683.0 L501.4,683.3 L502.9,683.7 L504.4,684.0 L505.9,684.3 L507.4,684.6 L509.0,684.9 L510.5,685.2 L512.0,685.5 L513.5,685.8 L515.0,686.0 L516.5,686.3 L518.0,686.5 L519.5,686.7 L521.0,686.9 L522.5,687.1 L524.0,687.3 L525.5,687.5 L527.0,687.7 L528.5,687.9 L530.1,688.0 L531.6,688.2 L533.1,688.4 L534.6,688.5 L536.1,688.7 L537.6,688.9 L539.1,689.0 L540.6,689.2 L542.1,689.4 L543.6,689.5 L545.1,689.7 L546.6,689.9 L548.1,690.1 L549.6,690.3 L551.2,690.5 L552.7,690.8 L554.2,691.0 L555.7,691.2 L557.2,691.5 L558.7,691.8 L560.2,692.0 L561.7,692.3 L563.2,692.7 L564.7,693.0 L566.2,693.3 L567.7,693.7 L569.2,694.0 L570.8,694.4 L572.3,694.8 L573.8,695.2 L575.3,695.6 L576.8,696.0 L578.3,696.4 L579.8,696.9 L581.3,697.3 L582.8,697.8 L584.3,698.2 L585.8,698.7 L587.3,699.1 L588.8,699.6 L590.3,700.0 L591.9,700.5 L593.4,701.0 L594.9,701.4 L596.4,701.9 L597.9,702.4 L599.4,702.8 L600.9,703.3 L602.4,703.8 L603.9,704.2 L605.4,704.7 L606.9,705.2 L608.4,705.6 L609.9,706.1 L611.4,706.5 L613.0,707.0 L614.5,707.4 L616.0,707.9 L617.5,708.3 L619.0,708.7 L620.5,709.2 L622.0,709.6 L623.5,710.0 L625.0,710.4 L626.5,710.9 L628.0,711.3 L629.5,711.7 L631.0,712.1 L632.5,712.5 L634.1,712.9 L635.6,713.3 L637.1,713.7 L638.6,714.1 L640.1,714.5 L641.6,714.8 L643.1,715.2 L644.6,715.6 L646.1,715.9 L647.6,716.3 L649.1,716.6 L650.6,716.9 L652.1,717.3 L653.7,717.6 L655.2,717.9 L656.7,718.2 L658.2,718.5 L659.7,718.7 L661.2,719.0 L662.7,719.2 L664.2,719.5 L665.7,719.7 L667.2,719.9 L668.7,720.1 L670.2,720.3 L671.7,720.5 L673.2,720.7 L674.8,720.8 L676.3,721.0 L677.8,721.1 L679.3,721.2 L680.8,721.3 L682.3,721.4 L683.8,721.5 L685.3,721.5 L686.8,721.6 L688.3,721.6 L689.8,721.6 L691.3,721.6 L692.8,721.6 L694.3,721.6 L695.9,721.6 L697.4,721.5 L698.9,721.4 L700.4,721.4 L701.9,721.3 L703.4,721.1 L704.9,721.0 L706.4,720.9 L707.9,720.7 L709.4,720.6 L710.9,720.4 L712.4,720.2 L713.9,720.0 L715.5,719.8 L717.0,719.5 L718.5,719.3 L720.0,719.1 L721.5,718.8 L723.0,718.5 L724.5,718.2 L726.0,717.9 L727.5,717.6 L729.0,717.3 L730.5,717.0 L732.0,716.6 L733.5,716.3 L735.0,715.9 L736.6,715.5 L738.1,715.1 L739.6,714.7 L741.1,714.3 L742.6,713.9 L744.1,713.5 L745.6,713.1 L747.1,712.6 L748.6,712.2 L750.1,711.7 L751.6,711.2 L753.1,710.8 L754.6,710.3 L756.1,709.8 L757.7,709.3 L759.2,708.8 L760.7,708.3 L762.2,707.7 L763.7,707.2 L765.2,706.6 L766.7,706.1 L766.7,814.0 L765.2,813.2 L763.7,812.3 L762.2,811.5 L760.7,810.7 L759.2,809.8 L757.7,808.9 L756.1,808.1 L754.6,807.2 L753.1,806.3 L751.6,805.4 L750.1,804.5 L748.6,803.6 L747.1,802.7 L745.6,801.8 L744.1,800.8 L742.6,799.9 L741.1,799.0 L739.6,798.0 L738.1,797.1 L736.6,796.2 L735.0,795.2 L733.5,794.3 L732.0,793.3 L730.5,792.4 L729.0,791.4 L727.5,790.4 L726.0,789.5 L724.5,788.5 L723.0,787.6 L721.5,786.6 L720.0,785.6 L718.5,784.7 L717.0,783.7 L715.5,782.8 L713.9,781.8 L712.4,780.8 L710.9,779.9 L709.4,778.9 L707.9,778.0 L706.4,777.0 L704.9,776.1 L703.4,775.1 L701.9,774.2 L700.4,773.3 L698.9,772.3 L697.4,771.4 L695.9,770.5 L694.3,769.6 L692.8,768.7 L691.3,767.8 L689.8,766.9 L688.3,766.0 L686.8,765.1 L685.3,764.2 L683.8,763.3 L682.3,762.5 L680.8,761.6 L679.3,760.7 L677.8,759.9 L676.3,759.1 L674.8,758.2 L673.2,757.4 L671.7,756.6 L670.2,755.7 L668.7,754.9 L667.2,754.1 L665.7,753.3 L664.2,752.5 L662.7,751.8 L661.2,751.0 L659.7,750.2 L658.2,749.4 L656.7,748.7 L655.2,747.9 L653.7,747.2 L652.1,746.4 L650.6,745.7 L649.1,744.9 L647.6,744.2 L646.1,743.5 L644.6,742.7 L643.1,742.0 L641.6,741.3 L640.1,740.6 L638.6,739.8 L637.1,739.1 L635.6,738.4 L634.1,737.7 L632.5,737.0 L631.0,736.3 L629.5,735.6 L628.0,734.9 L626.5,734.2 L625.0,733.5 L623.5,732.8 L622.0,732.1 L620.5,731.4 L619.0,730.7 L617.5,730.1 L616.0,729.4 L614.5,728.7 L613.0,728.0 L611.4,727.3 L609.9,726.7 L608.4,726.0 L606.9,725.3 L605.4,724.7 L603.9,724.0 L602.4,723.3 L600.9,722.7 L599.4,722.0 L597.9,721.4 L596.4,720.7 L594.9,720.1 L593.4,719.4 L591.9,718.8 L590.3,718.2 L588.8,717.6 L587.3,717.0 L585.8,716.4 L584.3,715.8 L582.8,715.2 L581.3,714.6 L579.8,714.0 L578.3,713.5 L576.8,712.9 L575.3,712.4 L573.8,711.9 L572.3,711.4 L570.8,710.9 L569.2,710.4 L567.7,710.0 L566.2,709.5 L564.7,709.1 L563.2,708.7 L561.7,708.3 L560.2,707.9 L558.7,707.6 L557.2,707.2 L555.7,706.9 L554.2,706.6 L552.7,706.3 L551.2,706.0 L549.6,705.8 L548.1,705.5 L546.6,705.3 L545.1,705.1 L543.6,704.8 L542.1,704.6 L540.6,704.4 L539.1,704.2 L537.6,704.0 L536.1,703.9 L534.6,703.7 L533.1,703.5 L531.6,703.3 L530.1,703.1 L528.5,703.0 L527.0,702.8 L525.5,702.6 L524.0,702.4 L522.5,702.2 L521.0,702.1 L519.5,701.9 L518.0,701.7 L516.5,701.4 L515.0,701.2 L513.5,701.0 L512.0,700.8 L510.5,700.5 L509.0,700.2 L507.4,700.0 L505.9,699.7 L504.4,699.4 L502.9,699.1 L501.4,698.8 L499.9,698.5 L498.4,698.2 L496.9,697.9 L495.4,697.6 L493.9,697.3 L492.4,697.1 L490.9,696.8 L489.4,696.5 L487.8,696.2 L486.3,695.9 L484.8,695.7 L483.3,695.4 L481.8,695.2 L480.3,694.9 L478.8,694.7 L477.3,694.5 L475.8,694.3 L474.3,694.1 L472.8,693.9 L471.3,693.7 L469.8,693.5 L468.3,693.4 L466.7,693.3 L465.2,693.1 L463.7,693.0 L462.2,693.0 L460.7,692.9 L459.2,692.8 L457.7,692.8 L456.2,692.8 L454.7,692.8 L453.2,692.8 L451.7,692.8 L450.2,692.9 L448.7,692.9 L447.2,693.0 L445.6,693.1 L444.1,693.3 L442.6,693.4 L441.1,693.6 L439.6,693.8 L438.1,694.0 L436.6,694.3Z" fill="#00BA38" fill-opacity="0.4" filter="url(#fb)"/><path d="M436.6,684.7 L438.1,684.6 L439.6,684.4 L441.1,684.2 L442.6,684.1 L444.1,684.0 L445.6,683.9 L447.2,683.9 L448.7,683.8 L450.2,683.8 L451.7,683.8 L453.2,683.8 L454.7,683.9 L456.2,683.9 L457.7,684.0 L459.2,684.1 L460.7,684.2 L462.2,684.3 L463.7,684.4 L465.2,684.6 L466.7,684.7 L468.3,684.9 L469.8,685.1 L471.3,685.3 L472.8,685.5 L474.3,685.7 L475.8,686.0 L477.3,686.2 L478.8,686.5 L480.3,686.7 L481.8,687.0 L483.3,687.3 L484.8,687.6 L486.3,687.9 L487.8,688.2 L489.4,688.5 L490.9,688.8 L492.4,689.1 L493.9,689.5 L495.4,689.8 L496.9,690.1 L498.4,690.4 L499.9,690.8 L501.4,691.1 L502.9,691.4 L504.4,691.7 L505.9,692.0 L507.4,692.3 L509.0,692.6 L510.5,692.9 L512.0,693.1 L513.5,693.4 L515.0,693.6 L516.5,693.9 L518.0,694.1 L519.5,694.3 L521.0,694.5 L522.5,694.7 L524.0,694.9 L525.5,695.1 L527.0,695.2 L528.5,695.4 L530.1,695.6 L531.6,695.8 L533.1,695.9 L534.6,696.1 L536.1,696.3 L537.6,696.5 L539.1,696.6 L540.6,696.8 L542.1,697.0 L543.6,697.2 L545.1,697.4 L546.6,697.6 L548.1,697.8 L549.6,698.0 L551.2,698.3 L552.7,698.5 L554.2,698.8 L555.7,699.1 L557.2,699.4 L558.7,699.7 L560.2,700.0 L561.7,700.3 L563.2,700.7 L564.7,701.0 L566.2,701.4 L567.7,701.8 L569.2,702.2 L570.8,702.7 L572.3,703.1 L573.8,703.5 L575.3,704.0 L576.8,704.5 L578.3,705.0 L579.8,705.5 L581.3,706.0 L582.8,706.5 L584.3,707.0 L585.8,707.5 L587.3,708.0 L588.8,708.6 L590.3,709.1 L591.9,709.7 L593.4,710.2 L594.9,710.8 L596.4,711.3 L597.9,711.9 L599.4,712.4 L600.9,713.0 L602.4,713.6 L603.9,714.1 L605.4,714.7 L606.9,715.2 L608.4,715.8 L609.9,716.4 L611.4,716.9 L613.0,717.5 L614.5,718.0 L616.0,718.6 L617.5,719.2 L619.0,719.7 L620.5,720.3 L622.0,720.9 L623.5,721.4 L625.0,722.0 L626.5,722.5 L628.0,723.1 L629.5,723.6 L631.0,724.2 L632.5,724.8 L634.1,725.3 L635.6,725.9 L637.1,726.4 L638.6,727.0 L640.1,727.5 L641.6,728.1 L643.1,728.6 L644.6,729.1 L646.1,729.7 L647.6,730.2 L649.1,730.8 L650.6,731.3 L652.1,731.8 L653.7,732.4 L655.2,732.9 L656.7,733.4 L658.2,733.9 L659.7,734.5 L661.2,735.0 L662.7,735.5 L664.2,736.0 L665.7,736.5 L667.2,737.0 L668.7,737.5 L670.2,738.0 L671.7,738.5 L673.2,739.0 L674.8,739.5 L676.3,740.0 L677.8,740.5 L679.3,741.0 L680.8,741.5 L682.3,741.9 L683.8,742.4 L685.3,742.9 L686.8,743.3 L688.3,743.8 L689.8,744.3 L691.3,744.7 L692.8,745.1 L694.3,745.6 L695.9,746.0 L697.4,746.5 L698.9,746.9 L700.4,747.3 L701.9,747.7 L703.4,748.1 L704.9,748.6 L706.4,749.0 L707.9,749.4 L709.4,749.7 L710.9,750.1 L712.4,750.5 L713.9,750.9 L715.5,751.3 L717.0,751.6 L718.5,752.0 L720.0,752.3 L721.5,752.7 L723.0,753.0 L724.5,753.4 L726.0,753.7 L727.5,754.0 L729.0,754.3 L730.5,754.7 L732.0,755.0 L733.5,755.3 L735.0,755.6 L736.6,755.8 L738.1,756.1 L739.6,756.4 L741.1,756.7 L742.6,756.9 L744.1,757.2 L745.6,757.4 L747.1,757.7 L748.6,757.9 L750.1,758.1 L751.6,758.3 L753.1,758.5 L754.6,758.7 L756.1,758.9 L757.7,759.1 L759.2,759.3 L760.7,759.5 L762.2,759.6 L763.7,759.8 L765.2,759.9 L766.7,760.0" fill="none" stroke="#2F5AB5" stroke-width="2.0" stroke-opacity="0.92" stroke-linejoin="round" stroke-linecap="round" filter="url(#fl)"/><path d="M436.6,673.4 L438.1,672.8 L439.6,671.9 L441.1,670.9 L442.6,669.8 L444.2,668.5 L445.7,667.2 L447.2,665.7 L448.7,664.2 L450.2,662.6 L451.7,661.1 L453.2,659.5 L454.7,657.9 L456.3,656.4 L457.8,655.0 L459.3,653.6 L460.8,652.4 L462.3,651.3 L463.8,650.3 L465.3,649.6 L466.8,649.0 L468.3,648.6 L469.9,648.5 L471.4,648.6 L472.9,649.0 L474.4,649.7 L475.9,650.6 L477.4,651.7 L478.9,653.0 L480.4,654.5 L482.0,656.1 L483.5,657.7 L485.0,659.5 L486.5,661.3 L488.0,663.1 L489.5,664.9 L491.0,666.7 L492.5,668.4 L494.0,670.1 L495.6,671.6 L497.1,673.0 L498.6,674.2 L500.1,675.3 L501.6,676.3 L503.1,677.2 L504.6,678.0 L506.1,678.6 L507.6,679.2 L509.2,679.7 L510.7,680.1 L512.2,680.4 L513.7,680.7 L515.2,681.0 L516.7,681.2 L518.2,681.3 L519.7,681.5 L521.3,681.6 L522.8,681.8 L524.3,681.9 L525.8,682.1 L527.3,682.2 L528.8,682.4 L530.3,682.6 L531.8,682.7 L533.3,682.9 L534.9,683.1 L536.4,683.3 L537.9,683.5 L539.4,683.7 L540.9,683.9 L542.4,684.1 L543.9,684.4 L545.4,684.6 L547.0,684.9 L548.5,685.2 L550.0,685.5 L551.5,685.8 L553.0,686.1 L554.5,686.4 L556.0,686.7 L557.5,687.1 L559.0,687.4 L560.6,687.7 L562.1,688.0 L563.6,688.4 L565.1,688.7 L566.6,689.1 L568.1,689.4 L569.6,689.8 L571.1,690.1 L572.7,690.5 L574.2,690.9 L575.7,691.3 L577.2,691.7 L578.7,692.1 L580.2,692.5 L581.7,692.9 L583.2,693.4 L584.7,693.8 L586.3,694.3 L587.8,694.8 L589.3,695.3 L590.8,695.8 L592.3,696.3 L593.8,696.9 L595.3,697.5 L596.8,698.0 L598.4,698.7 L599.9,699.3 L601.4,700.0 L602.9,700.6 L604.4,701.3 L605.9,702.0 L607.4,702.7 L608.9,703.5 L610.4,704.2 L612.0,704.9 L613.5,705.7 L615.0,706.4 L616.5,707.2 L618.0,707.9 L619.5,708.7 L621.0,709.4 L622.5,710.2 L624.1,710.9 L625.6,711.6 L627.1,712.3 L628.6,713.0 L630.1,713.7 L631.6,714.3 L633.1,715.0 L634.6,715.6 L636.1,716.2 L637.7,716.8 L639.2,717.3 L640.7,717.9 L642.2,718.4 L643.7,718.9 L645.2,719.4 L646.7,719.8 L648.2,720.3 L649.8,720.7 L651.3,721.2 L652.8,721.6 L654.3,722.0 L655.8,722.4 L657.3,722.8 L658.8,723.2 L660.3,723.5 L661.8,723.9 L663.4,724.3 L664.9,724.6 L666.4,725.0 L667.9,725.3 L669.4,725.7 L670.9,726.1 L672.4,726.4 L673.9,726.8 L675.4,727.2 L677.0,727.5 L678.5,727.9 L680.0,728.3 L681.5,728.7 L683.0,729.1 L684.5,729.5 L686.0,729.9 L687.5,730.3 L689.1,730.7 L690.6,731.2 L692.1,731.7 L693.6,732.1 L695.1,732.6 L696.6,733.1 L698.1,733.7 L699.6,734.2 L701.1,734.8 L702.7,735.4 L704.2,736.0 L705.7,736.6 L707.2,737.3 L708.7,737.9 L710.2,738.6 L711.7,739.4 L713.2,740.1 L714.8,740.9 L716.3,741.7 L717.8,742.6 L719.3,743.4 L720.8,744.4 L720.8,876.3 L719.3,874.3 L717.8,872.3 L716.3,870.3 L714.8,868.3 L713.2,866.2 L711.7,864.1 L710.2,862.0 L708.7,859.9 L707.2,857.8 L705.7,855.6 L704.2,853.4 L702.7,851.3 L701.1,849.1 L699.6,846.9 L698.1,844.7 L696.6,842.4 L695.1,840.2 L693.6,838.0 L692.1,835.7 L690.6,833.5 L689.1,831.2 L687.5,829.0 L686.0,826.8 L684.5,824.5 L683.0,822.3 L681.5,820.0 L680.0,817.8 L678.5,815.6 L677.0,813.3 L675.4,811.1 L673.9,808.9 L672.4,806.7 L670.9,804.5 L669.4,802.4 L667.9,800.2 L666.4,798.1 L664.9,796.0 L663.4,793.9 L661.8,791.8 L660.3,789.7 L658.8,787.7 L657.3,785.6 L655.8,783.7 L654.3,781.7 L652.8,779.7 L651.3,777.8 L649.8,775.9 L648.2,774.1 L646.7,772.2 L645.2,770.5 L643.7,768.7 L642.2,767.0 L640.7,765.3 L639.2,763.6 L637.7,762.0 L636.1,760.4 L634.6,758.9 L633.1,757.4 L631.6,756.0 L630.1,754.6 L628.6,753.2 L627.1,751.9 L625.6,750.6 L624.1,749.3 L622.5,748.1 L621.0,746.9 L619.5,745.7 L618.0,744.5 L616.5,743.4 L615.0,742.3 L613.5,741.3 L612.0,740.2 L610.4,739.2 L608.9,738.2 L607.4,737.2 L605.9,736.2 L604.4,735.2 L602.9,734.3 L601.4,733.3 L599.9,732.4 L598.4,731.4 L596.8,730.5 L595.3,729.6 L593.8,728.6 L592.3,727.7 L590.8,726.8 L589.3,725.9 L587.8,725.1 L586.3,724.2 L584.7,723.3 L583.2,722.5 L581.7,721.6 L580.2,720.8 L578.7,720.0 L577.2,719.3 L575.7,718.5 L574.2,717.8 L572.7,717.0 L571.1,716.4 L569.6,715.7 L568.1,715.0 L566.6,714.4 L565.1,713.8 L563.6,713.3 L562.1,712.7 L560.6,712.2 L559.0,711.8 L557.5,711.3 L556.0,710.9 L554.5,710.5 L553.0,710.2 L551.5,709.9 L550.0,709.6 L548.5,709.3 L547.0,709.1 L545.4,708.9 L543.9,708.7 L542.4,708.5 L540.9,708.4 L539.4,708.3 L537.9,708.2 L536.4,708.1 L534.9,708.0 L533.3,707.9 L531.8,707.8 L530.3,707.7 L528.8,707.6 L527.3,707.5 L525.8,707.4 L524.3,707.3 L522.8,707.2 L521.3,707.1 L519.7,707.0 L518.2,706.8 L516.7,706.6 L515.2,706.5 L513.7,706.3 L512.2,706.2 L510.7,706.0 L509.2,706.0 L507.6,705.9 L506.1,705.9 L504.6,706.0 L503.1,706.2 L501.6,706.5 L500.1,706.8 L498.6,707.3 L497.1,707.9 L495.6,708.6 L494.0,709.5 L492.5,710.4 L491.0,711.5 L489.5,712.6 L488.0,713.8 L486.5,714.9 L485.0,716.1 L483.5,717.2 L482.0,718.3 L480.4,719.2 L478.9,720.1 L477.4,720.8 L475.9,721.4 L474.4,721.8 L472.9,721.9 L471.4,721.9 L469.9,721.5 L468.3,721.0 L466.8,720.2 L465.3,719.2 L463.8,718.1 L462.3,716.8 L460.8,715.4 L459.3,713.9 L457.8,712.4 L456.3,710.7 L454.7,709.1 L453.2,707.4 L451.7,705.8 L450.2,704.1 L448.7,702.6 L447.2,701.1 L445.7,699.8 L444.2,698.5 L442.6,697.5 L441.1,696.6 L439.6,695.9 L438.1,695.4 L436.6,695.2Z" fill="#619CFF" fill-opacity="0.4" filter="url(#fb)"/><path d="M436.6,684.3 L438.1,684.1 L439.6,683.9 L441.1,683.8 L442.6,683.6 L444.2,683.5 L445.7,683.5 L447.2,683.4 L448.7,683.4 L450.2,683.4 L451.7,683.4 L453.2,683.4 L454.7,683.5 L456.3,683.6 L457.8,683.7 L459.3,683.8 L460.8,683.9 L462.3,684.1 L463.8,684.2 L465.3,684.4 L466.8,684.6 L468.3,684.8 L469.9,685.0 L471.4,685.2 L472.9,685.5 L474.4,685.7 L475.9,686.0 L477.4,686.3 L478.9,686.6 L480.4,686.9 L482.0,687.2 L483.5,687.5 L485.0,687.8 L486.5,688.1 L488.0,688.4 L489.5,688.8 L491.0,689.1 L492.5,689.4 L494.0,689.8 L495.6,690.1 L497.1,690.4 L498.6,690.8 L500.1,691.1 L501.6,691.4 L503.1,691.7 L504.6,692.0 L506.1,692.3 L507.6,692.6 L509.2,692.8 L510.7,693.1 L512.2,693.3 L513.7,693.5 L515.2,693.7 L516.7,693.9 L518.2,694.1 L519.7,694.2 L521.3,694.4 L522.8,694.5 L524.3,694.6 L525.8,694.8 L527.3,694.9 L528.8,695.0 L530.3,695.1 L531.8,695.3 L533.3,695.4 L534.9,695.5 L536.4,695.7 L537.9,695.8 L539.4,696.0 L540.9,696.2 L542.4,696.3 L543.9,696.5 L545.4,696.8 L547.0,697.0 L548.5,697.3 L550.0,697.5 L551.5,697.8 L553.0,698.1 L554.5,698.5 L556.0,698.8 L557.5,699.2 L559.0,699.6 L560.6,700.0 L562.1,700.4 L563.6,700.8 L565.1,701.3 L566.6,701.7 L568.1,702.2 L569.6,702.7 L571.1,703.2 L572.7,703.8 L574.2,704.3 L575.7,704.9 L577.2,705.5 L578.7,706.1 L580.2,706.7 L581.7,707.3 L583.2,707.9 L584.7,708.6 L586.3,709.2 L587.8,709.9 L589.3,710.6 L590.8,711.3 L592.3,712.0 L593.8,712.8 L595.3,713.5 L596.8,714.3 L598.4,715.0 L599.9,715.8 L601.4,716.6 L602.9,717.4 L604.4,718.3 L605.9,719.1 L607.4,720.0 L608.9,720.8 L610.4,721.7 L612.0,722.6 L613.5,723.5 L615.0,724.4 L616.5,725.3 L618.0,726.2 L619.5,727.2 L621.0,728.1 L622.5,729.1 L624.1,730.1 L625.6,731.1 L627.1,732.1 L628.6,733.1 L630.1,734.1 L631.6,735.2 L633.1,736.2 L634.6,737.3 L636.1,738.3 L637.7,739.4 L639.2,740.5 L640.7,741.6 L642.2,742.7 L643.7,743.8 L645.2,744.9 L646.7,746.0 L648.2,747.2 L649.8,748.3 L651.3,749.5 L652.8,750.7 L654.3,751.8 L655.8,753.0 L657.3,754.2 L658.8,755.4 L660.3,756.6 L661.8,757.8 L663.4,759.1 L664.9,760.3 L666.4,761.5 L667.9,762.8 L669.4,764.0 L670.9,765.3 L672.4,766.6 L673.9,767.9 L675.4,769.1 L677.0,770.4 L678.5,771.7 L680.0,773.0 L681.5,774.3 L683.0,775.7 L684.5,777.0 L686.0,778.3 L687.5,779.7 L689.1,781.0 L690.6,782.3 L692.1,783.7 L693.6,785.1 L695.1,786.4 L696.6,787.8 L698.1,789.2 L699.6,790.5 L701.1,791.9 L702.7,793.3 L704.2,794.7 L705.7,796.1 L707.2,797.5 L708.7,798.9 L710.2,800.3 L711.7,801.7 L713.2,803.2 L714.8,804.6 L716.3,806.0 L717.8,807.4 L719.3,808.9 L720.8,810.3" fill="none" stroke="#3453C4" stroke-width="2.0" stroke-opacity="0.92" stroke-linejoin="round" stroke-linecap="round" filter="url(#fl)"/></g><g filter="url(#ft)"><line x1="497.7" y1="889.8" x2="497.7" y2="892" stroke="#333" stroke-width="0.8"/><text x="497.7" y="898.2" font-size="6.8" fill="#4D4D4D" text-anchor="middle">0</text><line x1="577.5" y1="889.8" x2="577.5" y2="892" stroke="#333" stroke-width="0.8"/><text x="577.5" y="898.2" font-size="6.8" fill="#4D4D4D" text-anchor="middle">1</text><line x1="657.3" y1="889.8" x2="657.3" y2="892" stroke="#333" stroke-width="0.8"/><text x="657.3" y="898.2" font-size="6.8" fill="#4D4D4D" text-anchor="middle">2</text><line x1="737.1" y1="889.8" x2="737.1" y2="892" stroke="#333" stroke-width="0.8"/><text x="737.1" y="898.2" font-size="6.8" fill="#4D4D4D" text-anchor="middle">3</text><line x1="417.2" y1="881.1" x2="419.4" y2="881.1" stroke="#333" stroke-width="0.8"/><text x="416" y="883.6" font-size="6.8" fill="#4D4D4D" text-anchor="end">-4</text><line x1="417.2" y1="834.8" x2="419.4" y2="834.8" stroke="#333" stroke-width="0.8"/><text x="416" y="837.3" font-size="6.8" fill="#4D4D4D" text-anchor="end">-3</text><line x1="417.2" y1="788.5" x2="419.4" y2="788.5" stroke="#333" stroke-width="0.8"/><text x="416" y="791" font-size="6.8" fill="#4D4D4D" text-anchor="end">-2</text><line x1="417.2" y1="742.2" x2="419.4" y2="742.2" stroke="#333" stroke-width="0.8"/><text x="416" y="744.7" font-size="6.8" fill="#4D4D4D" text-anchor="end">-1</text><line x1="417.2" y1="695.9" x2="419.4" y2="695.9" stroke="#333" stroke-width="0.8"/><text x="416" y="698.4" font-size="6.8" fill="#4D4D4D" text-anchor="end">0</text><line x1="417.2" y1="649.6" x2="419.4" y2="649.6" stroke="#333" stroke-width="0.8"/><text x="416" y="652.1" font-size="6.8" fill="#4D4D4D" text-anchor="end">1</text><text x="601.6" y="908.9" font-size="9.1" textLength="97" lengthAdjust="spacingAndGlyphs" fill="#000" stroke="#000" stroke-width="0.3" text-anchor="middle">Maternal Hydroxycotinine</text><text transform="translate(404.6,762.4) rotate(-90)" font-size="8.6" fill="#000" stroke="#000" stroke-width="0.3" text-anchor="middle">GFI1</text><text x="398.1" y="642.9" font-size="11.5" font-weight="bold" fill="#000">F</text><text x="526" y="932.9" font-size="7.8" textLength="62.4" lengthAdjust="spacingAndGlyphs" fill="#000" stroke="#000" stroke-width="0.25">Vitamin B12 Status</text><rect x="590.4" y="923.7" width="13" height="12.8" fill="#F2F2F2"/><line x1="591.2" y1="930.1" x2="602.6" y2="930.1" stroke="#3352CC" stroke-width="2.2"/><rect x="590.4" y="923.7" width="13" height="12.8" fill="#F8766D" fill-opacity="0.4"/><text x="606.8" y="932.2" font-size="5.8" textLength="7.3" lengthAdjust="spacingAndGlyphs" fill="#222" stroke="#222" stroke-width="0.15">Q1</text><rect x="618.7" y="923.7" width="13" height="12.8" fill="#F2F2F2"/><line x1="619.5" y1="930.1" x2="630.9" y2="930.1" stroke="#3352CC" stroke-width="2.2"/><rect x="618.7" y="923.7" width="13" height="12.8" fill="#00BA38" fill-opacity="0.4"/><text x="635.1" y="932.2" font-size="5.8" textLength="12.2" lengthAdjust="spacingAndGlyphs" fill="#222" stroke="#222" stroke-width="0.15">Q2-3</text><rect x="652.9" y="923.7" width="13" height="12.8" fill="#F2F2F2"/><line x1="653.7" y1="930.1" x2="665.1" y2="930.1" stroke="#3352CC" stroke-width="2.2"/><rect x="652.9" y="923.7" width="13" height="12.8" fill="#619CFF" fill-opacity="0.4"/><text x="669.3" y="932.2" font-size="5.8" textLength="7.3" lengthAdjust="spacingAndGlyphs" fill="#222" stroke="#222" stroke-width="0.15">Q4</text></g></g>
</svg></body></html>
